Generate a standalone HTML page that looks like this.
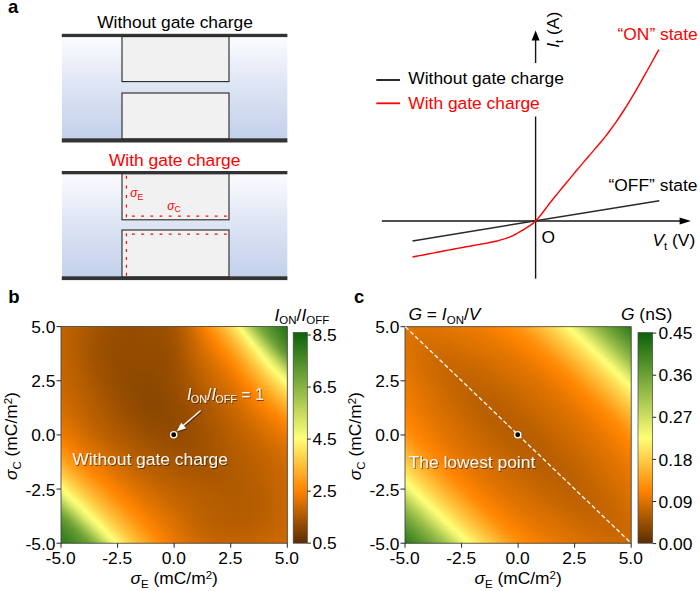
<!DOCTYPE html>
<html><head><meta charset="utf-8"><title>figure</title>
<style>
html,body{margin:0;padding:0;background:#fff;}
body{width:700px;height:591px;overflow:hidden;}
svg{display:block;font-family:"Liberation Sans",sans-serif;}
.i{font-style:italic;}
.sh{filter:url(#ts);}
</style></head><body>
<svg width="700" height="591" viewBox="0 0 700 591">
<defs>
<linearGradient id="blue" x1="0" y1="0" x2="0" y2="1">
<stop offset="0" stop-color="#fbfcfe"/><stop offset="0.45" stop-color="#dfe6f4"/><stop offset="1" stop-color="#c3d1ec"/>
</linearGradient>
<filter id="ts" x="-10%" y="-30%" width="120%" height="170%">
<feDropShadow dx="0.9" dy="0.9" stdDeviation="0.7" flood-color="#000" flood-opacity="0.55"/>
</filter>
</defs>
<rect width="700" height="591" fill="#fff"/>

<text x="8" y="13.2" font-size="18.5" text-anchor="start" fill="#000" font-weight="bold">a</text>
<text x="175" y="27.6" font-size="17.4" text-anchor="middle" fill="#000" >Without gate charge</text>
<rect x="62" y="36.6" width="225.3" height="102.20000000000002" fill="url(#blue)"/>
<rect x="61.8" y="33.8" width="225.6" height="3.3000000000000043" fill="#333"/>
<rect x="61.8" y="138.3" width="225.6" height="4.199999999999989" fill="#333"/>
<rect x="122" y="36.6" width="107" height="44.99999999999999" fill="#f1f1f1" stroke="#262626" stroke-width="1.1"/>
<rect x="122" y="93" width="107" height="45.80000000000001" fill="#f1f1f1" stroke="#262626" stroke-width="1.1"/>
<text x="174.7" y="166.2" font-size="17.4" text-anchor="middle" fill="#f00" >With gate charge</text>
<rect x="62" y="173.8" width="225.3" height="103.0" fill="url(#blue)"/>
<rect x="61.8" y="171" width="225.6" height="3.3000000000000114" fill="#333"/>
<rect x="61.8" y="276.3" width="225.6" height="3.8000000000000114" fill="#333"/>
<rect x="122" y="173.8" width="107" height="46.0" fill="#f1f1f1" stroke="#262626" stroke-width="1.1"/>
<rect x="122" y="230" width="107" height="46.80000000000001" fill="#f1f1f1" stroke="#262626" stroke-width="1.1"/>
<g stroke="#f00" stroke-width="1.15" fill="none">
<path d="M126.4 175.8 V218" stroke-dasharray="3 6.6"/>
<path d="M132 216.1 H228.5" stroke-dasharray="2.7 6.5"/>
<path d="M132 234.1 H228.5" stroke-dasharray="2.7 6.5"/>
<path d="M126.4 233.2 V276" stroke-dasharray="3 4.9"/>
</g>
<text x="130.2" y="196.8" font-size="12" fill="#f00"><tspan class="i">σ</tspan><tspan font-size="8.6" dy="2.8">E</tspan></text>
<text x="167.3" y="209.6" font-size="12" fill="#f00"><tspan class="i">σ</tspan><tspan font-size="8.6" dy="2.8">C</tspan></text>
<g stroke="#161616" stroke-width="1.4" fill="none">
<path d="M535.6 39 V278.7"/>
<path d="M381.8 221 H682"/>
</g>
<path d="M535.6 30.6 L539.6 40.4 H531.6 Z" fill="#000"/>
<path d="M690.9 221 L679.6 224.6 V217.4 Z" fill="#000"/>
<path d="M412.5 240.9 L659.3 200.7" stroke="#2a2a2a" stroke-width="1.5" fill="none"/>
<path d="M412.5 257.0 L416.1 256.3 L419.6 255.6 L423.2 255.0 L426.8 254.3 L430.3 253.6 L433.9 252.9 L437.5 252.2 L441.1 251.5 L444.6 250.8 L448.2 250.1 L451.8 249.5 L455.3 248.8 L458.9 248.1 L462.5 247.5 L466.0 246.8 L469.6 246.2 L473.2 245.5 L476.8 244.9 L480.3 244.3 L483.9 243.6 L487.5 243.0 L491.0 242.3 L494.6 241.5 L498.2 240.7 L501.7 239.7 L505.3 238.7 L508.9 237.4 L512.4 235.8 L516.0 234.0 L519.6 231.9 L523.2 229.8 L526.7 227.7 L530.3 225.4 L533.9 222.6 L537.4 219.1 L541.0 214.7 L544.6 210.0 L548.1 205.3 L551.7 200.7 L555.3 196.3 L558.9 191.9 L562.4 187.5 L566.0 183.2 L569.6 178.9 L573.1 174.6 L576.7 170.3 L580.3 166.1 L583.8 161.9 L587.4 157.7 L591.0 153.6 L594.5 149.4 L598.1 145.2 L601.7 141.0 L605.3 136.6 L608.8 132.0 L612.4 127.2 L616.0 122.2 L619.5 117.0 L623.1 111.5 L626.7 105.9 L630.2 100.1 L633.8 94.1 L637.4 87.9 L641.0 81.7 L644.5 75.4 L648.1 69.0 L651.7 62.5 L655.2 56.1 L658.8 49.6" stroke="#f00" stroke-width="1.4" fill="none" stroke-linejoin="round"/>
<rect x="372" y="63" width="195" height="53.5" fill="#fff"/>
<path d="M376.3 80 H400" stroke="#111" stroke-width="1.8"/>
<path d="M376.3 103.3 H400" stroke="#f00" stroke-width="1.8"/>
<text x="408.3" y="83.8" font-size="17.4" text-anchor="start" fill="#000" >Without gate charge</text>
<text x="408.3" y="109" font-size="17.4" text-anchor="start" fill="#f00" >With gate charge</text>
<text x="617.5" y="40" font-size="17.4" text-anchor="start" fill="#f00" >“ON” state</text>
<text x="608.5" y="191.3" font-size="17.4" text-anchor="start" fill="#000" >“OFF” state</text>
<text x="541.5" y="243" font-size="17.4" text-anchor="start" fill="#000" >O</text>
<text x="652.4" y="246.3" font-size="17.4"><tspan class="i">V</tspan><tspan font-size="11.5" dy="3.5">t</tspan><tspan dy="-3.5"> (V)</tspan></text>
<text transform="translate(559.2 47.8) rotate(-90)" font-size="17.4"><tspan class="i">I</tspan><tspan font-size="11.5" dy="3.5">t</tspan><tspan dy="-3.5"> (A)</tspan></text>
<defs><linearGradient id="cb" x1="0" y1="1" x2="0" y2="0">
<stop offset="0" stop-color="#5a2d00"/><stop offset="0.25" stop-color="#ff8400"/><stop offset="0.5" stop-color="#ffff78"/><stop offset="1" stop-color="#0a620a"/>
</linearGradient></defs>
<text x="8.3" y="303" font-size="18.5" text-anchor="start" fill="#000" font-weight="bold">b</text>
<defs>
<linearGradient id="b0"><stop offset="0" stop-color="#c56500"/><stop offset="0.1549" stop-color="#a35400"/><stop offset="0.2611" stop-color="#964d00"/><stop offset="0.3142" stop-color="#964c00"/><stop offset="0.4336" stop-color="#9a4f00"/><stop offset="0.4735" stop-color="#9f5200"/><stop offset="0.5088" stop-color="#a95700"/><stop offset="0.531" stop-color="#b35c00"/><stop offset="0.5575" stop-color="#c26400"/><stop offset="0.6416" stop-color="#fe8400"/><stop offset="0.6903" stop-color="#ffa41f"/><stop offset="0.7301" stop-color="#ffc33d"/><stop offset="0.7655" stop-color="#ffe35d"/><stop offset="0.7876" stop-color="#fffe77"/><stop offset="0.8009" stop-color="#edf370"/><stop offset="0.854" stop-color="#9abe4b"/><stop offset="0.8805" stop-color="#79a93c"/><stop offset="0.9071" stop-color="#619a31"/><stop offset="0.9336" stop-color="#4d8d28"/><stop offset="1" stop-color="#237215"/></linearGradient>
<linearGradient id="b1"><stop offset="0" stop-color="#c46500"/><stop offset="0.1504" stop-color="#a35400"/><stop offset="0.208" stop-color="#9b4f00"/><stop offset="0.2611" stop-color="#964d00"/><stop offset="0.3142" stop-color="#954c00"/><stop offset="0.4336" stop-color="#9a4f00"/><stop offset="0.4735" stop-color="#9f5100"/><stop offset="0.5088" stop-color="#a85600"/><stop offset="0.5354" stop-color="#b45c00"/><stop offset="0.5619" stop-color="#c36400"/><stop offset="0.646" stop-color="#fe8400"/><stop offset="0.6903" stop-color="#ffa01b"/><stop offset="0.7301" stop-color="#ffbe38"/><stop offset="0.7699" stop-color="#ffe15b"/><stop offset="0.792" stop-color="#fffa73"/><stop offset="0.7965" stop-color="#fefe77"/><stop offset="0.8628" stop-color="#97bc49"/><stop offset="0.8894" stop-color="#76a73a"/><stop offset="0.9381" stop-color="#4e8d28"/><stop offset="1" stop-color="#267417"/></linearGradient>
<linearGradient id="b2"><stop offset="0" stop-color="#c46500"/><stop offset="0.146" stop-color="#a45400"/><stop offset="0.2035" stop-color="#9b4f00"/><stop offset="0.2566" stop-color="#964d00"/><stop offset="0.3142" stop-color="#954c00"/><stop offset="0.4292" stop-color="#994e00"/><stop offset="0.4735" stop-color="#9e5100"/><stop offset="0.5088" stop-color="#a85600"/><stop offset="0.5575" stop-color="#bf6200"/><stop offset="0.6504" stop-color="#fe8300"/><stop offset="0.6549" stop-color="#ff8602"/><stop offset="0.6991" stop-color="#ffa21d"/><stop offset="0.7389" stop-color="#ffc03a"/><stop offset="0.7788" stop-color="#ffe35d"/><stop offset="0.8009" stop-color="#fffd76"/><stop offset="0.8053" stop-color="#fbfd76"/><stop offset="0.8097" stop-color="#f5f974"/><stop offset="0.8673" stop-color="#9bbf4b"/><stop offset="0.8938" stop-color="#78a83b"/><stop offset="0.9159" stop-color="#639b32"/><stop offset="0.9425" stop-color="#4e8e29"/><stop offset="1" stop-color="#297618"/></linearGradient>
<linearGradient id="b3"><stop offset="0" stop-color="#c46500"/><stop offset="0.146" stop-color="#a35300"/><stop offset="0.2035" stop-color="#9a4f00"/><stop offset="0.2566" stop-color="#964d00"/><stop offset="0.3186" stop-color="#954c00"/><stop offset="0.4336" stop-color="#994e00"/><stop offset="0.4779" stop-color="#9e5100"/><stop offset="0.5133" stop-color="#a95600"/><stop offset="0.5619" stop-color="#c06300"/><stop offset="0.6593" stop-color="#ff8501"/><stop offset="0.7035" stop-color="#ffa11c"/><stop offset="0.7434" stop-color="#ffbe38"/><stop offset="0.7832" stop-color="#ffe15b"/><stop offset="0.8097" stop-color="#ffff78"/><stop offset="0.8274" stop-color="#e6ef6d"/><stop offset="0.8761" stop-color="#99bd4a"/><stop offset="0.9027" stop-color="#75a73a"/><stop offset="0.9204" stop-color="#649c33"/><stop offset="0.9469" stop-color="#4f8e29"/><stop offset="1" stop-color="#2c7819"/></linearGradient>
<linearGradient id="b4"><stop offset="0" stop-color="#c36500"/><stop offset="0.1416" stop-color="#a35400"/><stop offset="0.1947" stop-color="#9b4f00"/><stop offset="0.2478" stop-color="#964d00"/><stop offset="0.3142" stop-color="#954c00"/><stop offset="0.4292" stop-color="#984e00"/><stop offset="0.4735" stop-color="#9d5000"/><stop offset="0.5088" stop-color="#a65500"/><stop offset="0.5398" stop-color="#b35c00"/><stop offset="0.5664" stop-color="#c16300"/><stop offset="0.6637" stop-color="#ff8501"/><stop offset="0.708" stop-color="#ffa01b"/><stop offset="0.7478" stop-color="#ffbc37"/><stop offset="0.7832" stop-color="#ffdb55"/><stop offset="0.8142" stop-color="#fffb74"/><stop offset="0.8186" stop-color="#fdfe77"/><stop offset="0.823" stop-color="#f7fa74"/><stop offset="0.885" stop-color="#96bc49"/><stop offset="0.9115" stop-color="#73a539"/><stop offset="0.9513" stop-color="#508f29"/><stop offset="1" stop-color="#307a1b"/></linearGradient>
<linearGradient id="b5"><stop offset="0" stop-color="#c36500"/><stop offset="0.1372" stop-color="#a45400"/><stop offset="0.1947" stop-color="#9b4f00"/><stop offset="0.2478" stop-color="#964d00"/><stop offset="0.3186" stop-color="#944c00"/><stop offset="0.4292" stop-color="#974d00"/><stop offset="0.4735" stop-color="#9c5000"/><stop offset="0.5088" stop-color="#a65500"/><stop offset="0.5708" stop-color="#c26400"/><stop offset="0.6681" stop-color="#ff8400"/><stop offset="0.7124" stop-color="#ff9e1a"/><stop offset="0.7522" stop-color="#ffba35"/><stop offset="0.792" stop-color="#ffdd57"/><stop offset="0.823" stop-color="#fffe77"/><stop offset="0.8274" stop-color="#fbfc76"/><stop offset="0.8451" stop-color="#e1ec6b"/><stop offset="0.8982" stop-color="#8db645"/><stop offset="0.9204" stop-color="#70a438"/><stop offset="0.9558" stop-color="#518f2a"/><stop offset="1" stop-color="#337c1c"/></linearGradient>
<linearGradient id="b6"><stop offset="0" stop-color="#c36400"/><stop offset="0.1372" stop-color="#a35400"/><stop offset="0.1903" stop-color="#9b4f00"/><stop offset="0.2434" stop-color="#964d00"/><stop offset="0.323" stop-color="#944c00"/><stop offset="0.4292" stop-color="#974d00"/><stop offset="0.4735" stop-color="#9c5000"/><stop offset="0.5088" stop-color="#a55500"/><stop offset="0.5752" stop-color="#c36400"/><stop offset="0.6726" stop-color="#fe8400"/><stop offset="0.7124" stop-color="#ff9a16"/><stop offset="0.7522" stop-color="#ffb530"/><stop offset="0.792" stop-color="#ffd751"/><stop offset="0.8274" stop-color="#fffb74"/><stop offset="0.8319" stop-color="#fefe78"/><stop offset="0.8407" stop-color="#f2f772"/><stop offset="0.9027" stop-color="#92b947"/><stop offset="0.9292" stop-color="#6ea237"/><stop offset="0.9602" stop-color="#52902a"/><stop offset="1" stop-color="#377f1e"/></linearGradient>
<linearGradient id="b7"><stop offset="0" stop-color="#c36400"/><stop offset="0.1372" stop-color="#a35400"/><stop offset="0.1903" stop-color="#9b4f00"/><stop offset="0.2434" stop-color="#964c00"/><stop offset="0.3274" stop-color="#944c00"/><stop offset="0.4248" stop-color="#964d00"/><stop offset="0.469" stop-color="#9b4f00"/><stop offset="0.5088" stop-color="#a55400"/><stop offset="0.5752" stop-color="#c26400"/><stop offset="0.6814" stop-color="#ff8501"/><stop offset="0.7257" stop-color="#ff9f1a"/><stop offset="0.7611" stop-color="#ffb732"/><stop offset="0.8009" stop-color="#ffd953"/><stop offset="0.8363" stop-color="#fffd76"/><stop offset="0.8407" stop-color="#fcfd77"/><stop offset="0.854" stop-color="#eaf16f"/><stop offset="0.9115" stop-color="#8fb846"/><stop offset="0.9336" stop-color="#71a438"/><stop offset="0.9602" stop-color="#57942d"/><stop offset="1" stop-color="#3b8120"/></linearGradient>
<linearGradient id="b8"><stop offset="0" stop-color="#c36500"/><stop offset="0.1372" stop-color="#a35300"/><stop offset="0.1903" stop-color="#9a4f00"/><stop offset="0.2434" stop-color="#954c00"/><stop offset="0.4292" stop-color="#964c00"/><stop offset="0.4735" stop-color="#9b4f00"/><stop offset="0.5133" stop-color="#a55500"/><stop offset="0.5841" stop-color="#c56600"/><stop offset="0.6858" stop-color="#ff8400"/><stop offset="0.7301" stop-color="#ff9d19"/><stop offset="0.7655" stop-color="#ffb630"/><stop offset="0.8053" stop-color="#ffd751"/><stop offset="0.8451" stop-color="#ffff78"/><stop offset="0.8673" stop-color="#e1ec6b"/><stop offset="0.9204" stop-color="#8db645"/><stop offset="0.9425" stop-color="#6fa337"/><stop offset="0.9646" stop-color="#59952e"/><stop offset="1" stop-color="#3f8422"/></linearGradient>
<linearGradient id="b9"><stop offset="0" stop-color="#c36500"/><stop offset="0.1327" stop-color="#a45400"/><stop offset="0.1858" stop-color="#9b4f00"/><stop offset="0.2389" stop-color="#964c00"/><stop offset="0.4248" stop-color="#954c00"/><stop offset="0.469" stop-color="#9a4e00"/><stop offset="0.5088" stop-color="#a35400"/><stop offset="0.5442" stop-color="#b15b00"/><stop offset="0.5929" stop-color="#c96700"/><stop offset="0.6903" stop-color="#fe8400"/><stop offset="0.7301" stop-color="#ff9915"/><stop offset="0.7699" stop-color="#ffb42f"/><stop offset="0.8097" stop-color="#ffd54f"/><stop offset="0.8496" stop-color="#fffc75"/><stop offset="0.854" stop-color="#fdfe77"/><stop offset="0.8717" stop-color="#e6ef6d"/><stop offset="0.9248" stop-color="#92b947"/><stop offset="0.9469" stop-color="#73a539"/><stop offset="0.9646" stop-color="#5f9930"/><stop offset="1" stop-color="#438724"/></linearGradient>
<linearGradient id="b10"><stop offset="0" stop-color="#c46500"/><stop offset="0.1372" stop-color="#a35300"/><stop offset="0.1903" stop-color="#9a4f00"/><stop offset="0.2434" stop-color="#954c00"/><stop offset="0.4292" stop-color="#954c00"/><stop offset="0.4735" stop-color="#9a4f00"/><stop offset="0.5133" stop-color="#a45400"/><stop offset="0.6018" stop-color="#cc6900"/><stop offset="0.6991" stop-color="#ff8501"/><stop offset="0.7434" stop-color="#ff9d19"/><stop offset="0.7788" stop-color="#ffb631"/><stop offset="0.8186" stop-color="#ffd751"/><stop offset="0.8584" stop-color="#fffe77"/><stop offset="0.885" stop-color="#dde969"/><stop offset="0.9336" stop-color="#91b846"/><stop offset="0.9558" stop-color="#71a438"/><stop offset="0.9735" stop-color="#5e9830"/><stop offset="1" stop-color="#488a26"/></linearGradient>
<linearGradient id="b11"><stop offset="0" stop-color="#c46500"/><stop offset="0.1327" stop-color="#a35400"/><stop offset="0.1858" stop-color="#9b4f00"/><stop offset="0.2389" stop-color="#954c00"/><stop offset="0.4292" stop-color="#944c00"/><stop offset="0.4735" stop-color="#994e00"/><stop offset="0.5133" stop-color="#a35400"/><stop offset="0.5487" stop-color="#b15b00"/><stop offset="0.615" stop-color="#d16b00"/><stop offset="0.7035" stop-color="#ff8400"/><stop offset="0.7434" stop-color="#ff9915"/><stop offset="0.7832" stop-color="#ffb42f"/><stop offset="0.823" stop-color="#ffd54f"/><stop offset="0.8628" stop-color="#fffc75"/><stop offset="0.8673" stop-color="#fdfe77"/><stop offset="0.8894" stop-color="#e2ec6b"/><stop offset="0.9425" stop-color="#8fb746"/><stop offset="0.9646" stop-color="#70a338"/><stop offset="0.9823" stop-color="#5c972f"/><stop offset="1" stop-color="#4e8d28"/></linearGradient>
<linearGradient id="b12"><stop offset="0" stop-color="#c46500"/><stop offset="0.1372" stop-color="#a35300"/><stop offset="0.1903" stop-color="#9a4f00"/><stop offset="0.2389" stop-color="#954c00"/><stop offset="0.4292" stop-color="#944c00"/><stop offset="0.4735" stop-color="#994e00"/><stop offset="0.5133" stop-color="#a35300"/><stop offset="0.5531" stop-color="#b35c00"/><stop offset="0.6327" stop-color="#d76f00"/><stop offset="0.7124" stop-color="#ff8501"/><stop offset="0.7522" stop-color="#ff9b16"/><stop offset="0.792" stop-color="#ffb631"/><stop offset="0.8319" stop-color="#ffd751"/><stop offset="0.8717" stop-color="#fffe77"/><stop offset="0.8805" stop-color="#f7fa74"/><stop offset="0.8982" stop-color="#e0eb6a"/><stop offset="0.969" stop-color="#74a63a"/><stop offset="0.9867" stop-color="#5f9930"/><stop offset="1" stop-color="#54912b"/></linearGradient>
<linearGradient id="b13"><stop offset="0" stop-color="#c46500"/><stop offset="0.1372" stop-color="#a35300"/><stop offset="0.1903" stop-color="#9a4f00"/><stop offset="0.2389" stop-color="#954c00"/><stop offset="0.4292" stop-color="#944b00"/><stop offset="0.4735" stop-color="#984e00"/><stop offset="0.5133" stop-color="#a25300"/><stop offset="0.5487" stop-color="#b05a00"/><stop offset="0.6504" stop-color="#dd7200"/><stop offset="0.7168" stop-color="#ff8400"/><stop offset="0.7566" stop-color="#ff9915"/><stop offset="0.7965" stop-color="#ffb52f"/><stop offset="0.8363" stop-color="#ffd54f"/><stop offset="0.8761" stop-color="#fffb75"/><stop offset="0.8805" stop-color="#fefe78"/><stop offset="0.9027" stop-color="#e4ee6c"/><stop offset="0.969" stop-color="#7fad3f"/><stop offset="0.9867" stop-color="#689e34"/><stop offset="1" stop-color="#5a952e"/></linearGradient>
<linearGradient id="b14"><stop offset="0" stop-color="#c56500"/><stop offset="0.1416" stop-color="#a25300"/><stop offset="0.1947" stop-color="#994e00"/><stop offset="0.2434" stop-color="#954c00"/><stop offset="0.4292" stop-color="#934b00"/><stop offset="0.4735" stop-color="#984e00"/><stop offset="0.5133" stop-color="#a25300"/><stop offset="0.6593" stop-color="#de7300"/><stop offset="0.7257" stop-color="#ff8501"/><stop offset="0.7655" stop-color="#ff9b16"/><stop offset="0.8053" stop-color="#ffb631"/><stop offset="0.8451" stop-color="#ffd751"/><stop offset="0.885" stop-color="#fffd76"/><stop offset="0.8894" stop-color="#fcfd77"/><stop offset="0.9159" stop-color="#dde969"/><stop offset="0.9735" stop-color="#85b141"/><stop offset="1" stop-color="#639b32"/></linearGradient>
<linearGradient id="b15"><stop offset="0" stop-color="#c56500"/><stop offset="0.1416" stop-color="#a25300"/><stop offset="0.1947" stop-color="#994e00"/><stop offset="0.2434" stop-color="#944c00"/><stop offset="0.3053" stop-color="#924b00"/><stop offset="0.4336" stop-color="#934b00"/><stop offset="0.4779" stop-color="#984e00"/><stop offset="0.5177" stop-color="#a25300"/><stop offset="0.6726" stop-color="#e27500"/><stop offset="0.7301" stop-color="#ff8400"/><stop offset="0.7699" stop-color="#ff9a15"/><stop offset="0.8097" stop-color="#ffb530"/><stop offset="0.8496" stop-color="#ffd54f"/><stop offset="0.8938" stop-color="#ffff78"/><stop offset="0.9115" stop-color="#ecf370"/><stop offset="0.9248" stop-color="#dbe868"/><stop offset="0.9779" stop-color="#8bb544"/><stop offset="1" stop-color="#6ca136"/></linearGradient>
<linearGradient id="b16"><stop offset="0" stop-color="#c56600"/><stop offset="0.146" stop-color="#a25300"/><stop offset="0.1991" stop-color="#994e00"/><stop offset="0.2478" stop-color="#944c00"/><stop offset="0.4336" stop-color="#934b00"/><stop offset="0.4779" stop-color="#984e00"/><stop offset="0.5177" stop-color="#a25300"/><stop offset="0.677" stop-color="#e17400"/><stop offset="0.7389" stop-color="#ff8501"/><stop offset="0.7788" stop-color="#ff9b16"/><stop offset="0.8186" stop-color="#ffb731"/><stop offset="0.8584" stop-color="#ffd751"/><stop offset="0.8982" stop-color="#fffc75"/><stop offset="0.9027" stop-color="#fdfe77"/><stop offset="0.9204" stop-color="#ebf26f"/><stop offset="0.9336" stop-color="#dae767"/><stop offset="1" stop-color="#78a83b"/></linearGradient>
<linearGradient id="b17"><stop offset="0" stop-color="#c66600"/><stop offset="0.146" stop-color="#a25300"/><stop offset="0.1991" stop-color="#994e00"/><stop offset="0.2478" stop-color="#944c00"/><stop offset="0.3097" stop-color="#924a00"/><stop offset="0.4336" stop-color="#934b00"/><stop offset="0.4779" stop-color="#974d00"/><stop offset="0.5177" stop-color="#a15200"/><stop offset="0.6858" stop-color="#e27500"/><stop offset="0.7434" stop-color="#ff8400"/><stop offset="0.7832" stop-color="#ff9a15"/><stop offset="0.823" stop-color="#ffb530"/><stop offset="0.8628" stop-color="#ffd54f"/><stop offset="0.9071" stop-color="#fffe77"/><stop offset="0.9248" stop-color="#eef471"/><stop offset="0.9425" stop-color="#d9e767"/><stop offset="1" stop-color="#84b041"/></linearGradient>
<linearGradient id="b18"><stop offset="0" stop-color="#c66600"/><stop offset="0.1504" stop-color="#a25300"/><stop offset="0.2035" stop-color="#994e00"/><stop offset="0.2522" stop-color="#944b00"/><stop offset="0.3186" stop-color="#924a00"/><stop offset="0.4381" stop-color="#934b00"/><stop offset="0.4823" stop-color="#984e00"/><stop offset="0.5221" stop-color="#a25300"/><stop offset="0.6947" stop-color="#e37500"/><stop offset="0.7522" stop-color="#ff8501"/><stop offset="0.792" stop-color="#ff9b17"/><stop offset="0.8319" stop-color="#ffb732"/><stop offset="0.8717" stop-color="#ffd751"/><stop offset="0.9159" stop-color="#ffff78"/><stop offset="0.9381" stop-color="#e8f16e"/><stop offset="0.9513" stop-color="#d8e667"/><stop offset="1" stop-color="#90b846"/></linearGradient>
<linearGradient id="b19"><stop offset="0" stop-color="#c76600"/><stop offset="0.1549" stop-color="#a15300"/><stop offset="0.2522" stop-color="#944b00"/><stop offset="0.323" stop-color="#914a00"/><stop offset="0.4381" stop-color="#934b00"/><stop offset="0.4823" stop-color="#974d00"/><stop offset="0.5221" stop-color="#a15300"/><stop offset="0.6991" stop-color="#e27500"/><stop offset="0.7566" stop-color="#ff8400"/><stop offset="0.7965" stop-color="#ff9a16"/><stop offset="0.8363" stop-color="#ffb530"/><stop offset="0.8761" stop-color="#ffd44f"/><stop offset="0.9204" stop-color="#fffc75"/><stop offset="0.9248" stop-color="#fefe77"/><stop offset="0.9558" stop-color="#dde969"/><stop offset="1" stop-color="#9ec14c"/></linearGradient>
<linearGradient id="b20"><stop offset="0" stop-color="#c76600"/><stop offset="0.1593" stop-color="#a15200"/><stop offset="0.2124" stop-color="#984e00"/><stop offset="0.2611" stop-color="#934b00"/><stop offset="0.3363" stop-color="#914a00"/><stop offset="0.4425" stop-color="#934b00"/><stop offset="0.4867" stop-color="#984e00"/><stop offset="0.5265" stop-color="#a25300"/><stop offset="0.7035" stop-color="#e17400"/><stop offset="0.7655" stop-color="#ff8501"/><stop offset="0.8053" stop-color="#ff9c17"/><stop offset="0.8451" stop-color="#ffb731"/><stop offset="0.885" stop-color="#ffd650"/><stop offset="0.9292" stop-color="#fffd76"/><stop offset="0.9336" stop-color="#fdfe77"/><stop offset="0.9602" stop-color="#e2ec6b"/><stop offset="0.9779" stop-color="#cbde61"/><stop offset="1" stop-color="#abc952"/></linearGradient>
<linearGradient id="b21"><stop offset="0" stop-color="#c76700"/><stop offset="0.1549" stop-color="#a25300"/><stop offset="0.2478" stop-color="#944c00"/><stop offset="0.3142" stop-color="#914a00"/><stop offset="0.4027" stop-color="#914a00"/><stop offset="0.4558" stop-color="#944b00"/><stop offset="0.4956" stop-color="#994e00"/><stop offset="0.5442" stop-color="#a75600"/><stop offset="0.708" stop-color="#e07400"/><stop offset="0.7389" stop-color="#ee7b00"/><stop offset="0.7699" stop-color="#ff8400"/><stop offset="0.8142" stop-color="#ff9d19"/><stop offset="0.854" stop-color="#ffb833"/><stop offset="0.8938" stop-color="#ffd751"/><stop offset="0.9381" stop-color="#fffe77"/><stop offset="0.969" stop-color="#e1ec6b"/><stop offset="1" stop-color="#b8d258"/></linearGradient>
<linearGradient id="b22"><stop offset="0" stop-color="#c86700"/><stop offset="0.1593" stop-color="#a25300"/><stop offset="0.2522" stop-color="#944c00"/><stop offset="0.3186" stop-color="#904a00"/><stop offset="0.4027" stop-color="#914a00"/><stop offset="0.4602" stop-color="#944b00"/><stop offset="0.5" stop-color="#9a4f00"/><stop offset="0.5442" stop-color="#a65500"/><stop offset="0.7124" stop-color="#e07400"/><stop offset="0.7389" stop-color="#eb7900"/><stop offset="0.7788" stop-color="#ff8501"/><stop offset="0.823" stop-color="#ff9f1a"/><stop offset="0.8628" stop-color="#ffba34"/><stop offset="0.9027" stop-color="#ffd852"/><stop offset="0.9469" stop-color="#ffff78"/><stop offset="0.9735" stop-color="#e6ef6d"/><stop offset="1" stop-color="#c5da5e"/></linearGradient>
<linearGradient id="b23"><stop offset="0" stop-color="#c86700"/><stop offset="0.1681" stop-color="#a15200"/><stop offset="0.2611" stop-color="#934b00"/><stop offset="0.3274" stop-color="#904900"/><stop offset="0.4071" stop-color="#904a00"/><stop offset="0.4646" stop-color="#944c00"/><stop offset="0.5088" stop-color="#9b4f00"/><stop offset="0.5531" stop-color="#a85600"/><stop offset="0.7212" stop-color="#e17400"/><stop offset="0.7522" stop-color="#ee7b00"/><stop offset="0.7832" stop-color="#ff8400"/><stop offset="0.8274" stop-color="#ff9d19"/><stop offset="0.8673" stop-color="#ffb832"/><stop offset="0.9115" stop-color="#ffd953"/><stop offset="0.9558" stop-color="#ffff78"/><stop offset="0.9823" stop-color="#e6ef6d"/><stop offset="1" stop-color="#d2e264"/></linearGradient>
<linearGradient id="b24"><stop offset="0" stop-color="#c96700"/><stop offset="0.1726" stop-color="#a15200"/><stop offset="0.2699" stop-color="#934b00"/><stop offset="0.3363" stop-color="#8f4900"/><stop offset="0.4159" stop-color="#904a00"/><stop offset="0.4735" stop-color="#954c00"/><stop offset="0.5177" stop-color="#9d5000"/><stop offset="0.7257" stop-color="#e07400"/><stop offset="0.792" stop-color="#ff8501"/><stop offset="0.8363" stop-color="#ff9f1a"/><stop offset="0.8761" stop-color="#ffb934"/><stop offset="0.9159" stop-color="#ffd751"/><stop offset="0.9646" stop-color="#ffff78"/><stop offset="1" stop-color="#dde969"/></linearGradient>
<linearGradient id="b25"><stop offset="0" stop-color="#c96800"/><stop offset="0.1814" stop-color="#a05200"/><stop offset="0.2788" stop-color="#924b00"/><stop offset="0.3496" stop-color="#8f4900"/><stop offset="0.4248" stop-color="#904a00"/><stop offset="0.4823" stop-color="#964d00"/><stop offset="0.5265" stop-color="#9f5100"/><stop offset="0.7301" stop-color="#df7300"/><stop offset="0.7611" stop-color="#ec7a00"/><stop offset="0.7965" stop-color="#ff8400"/><stop offset="0.8407" stop-color="#ff9d18"/><stop offset="0.8805" stop-color="#ffb732"/><stop offset="0.9248" stop-color="#ffd751"/><stop offset="0.9735" stop-color="#ffff78"/><stop offset="1" stop-color="#e7ef6d"/></linearGradient>
<linearGradient id="b26"><stop offset="0" stop-color="#ca6800"/><stop offset="0.1858" stop-color="#9f5200"/><stop offset="0.2389" stop-color="#964d00"/><stop offset="0.2876" stop-color="#914a00"/><stop offset="0.3584" stop-color="#8f4900"/><stop offset="0.4336" stop-color="#914a00"/><stop offset="0.4912" stop-color="#974d00"/><stop offset="0.5398" stop-color="#a15300"/><stop offset="0.7301" stop-color="#dd7200"/><stop offset="0.7655" stop-color="#eb7a00"/><stop offset="0.8009" stop-color="#fe8300"/><stop offset="0.8407" stop-color="#ff9915"/><stop offset="0.8894" stop-color="#ffb833"/><stop offset="0.9336" stop-color="#ffd852"/><stop offset="0.9823" stop-color="#ffff78"/><stop offset="1" stop-color="#eff571"/></linearGradient>
<linearGradient id="b27"><stop offset="0" stop-color="#ca6800"/><stop offset="0.1947" stop-color="#9e5100"/><stop offset="0.2478" stop-color="#964c00"/><stop offset="0.3009" stop-color="#904a00"/><stop offset="0.3717" stop-color="#8e4900"/><stop offset="0.4425" stop-color="#914a00"/><stop offset="0.5" stop-color="#984e00"/><stop offset="0.5531" stop-color="#a45400"/><stop offset="0.7345" stop-color="#dc7200"/><stop offset="0.7699" stop-color="#ea7900"/><stop offset="0.8097" stop-color="#ff8400"/><stop offset="0.854" stop-color="#ff9d18"/><stop offset="0.8982" stop-color="#ffb933"/><stop offset="0.9425" stop-color="#ffd852"/><stop offset="0.9912" stop-color="#ffff78"/><stop offset="1" stop-color="#f8fa75"/></linearGradient>
<linearGradient id="b28"><stop offset="0" stop-color="#ca6800"/><stop offset="0.2035" stop-color="#9d5100"/><stop offset="0.2566" stop-color="#954c00"/><stop offset="0.3097" stop-color="#904900"/><stop offset="0.385" stop-color="#8e4800"/><stop offset="0.4513" stop-color="#914a00"/><stop offset="0.5088" stop-color="#994e00"/><stop offset="0.5664" stop-color="#a75500"/><stop offset="0.7345" stop-color="#da7100"/><stop offset="0.7743" stop-color="#e97900"/><stop offset="0.8142" stop-color="#fe8400"/><stop offset="0.854" stop-color="#ff9914"/><stop offset="0.9027" stop-color="#ffb631"/><stop offset="0.9513" stop-color="#ffd852"/><stop offset="1" stop-color="#fffe77"/></linearGradient>
<linearGradient id="b29"><stop offset="0" stop-color="#cb6900"/><stop offset="0.208" stop-color="#9d5000"/><stop offset="0.2611" stop-color="#954c00"/><stop offset="0.3142" stop-color="#904900"/><stop offset="0.385" stop-color="#8e4800"/><stop offset="0.4513" stop-color="#914a00"/><stop offset="0.5088" stop-color="#994e00"/><stop offset="0.5664" stop-color="#a65500"/><stop offset="0.7345" stop-color="#d86f00"/><stop offset="0.7832" stop-color="#eb7900"/><stop offset="0.823" stop-color="#ff8400"/><stop offset="0.9115" stop-color="#ffb731"/><stop offset="0.9558" stop-color="#ffd54f"/><stop offset="1" stop-color="#fff66f"/></linearGradient>
<linearGradient id="b30"><stop offset="0" stop-color="#cb6900"/><stop offset="0.208" stop-color="#9e5100"/><stop offset="0.2611" stop-color="#954c00"/><stop offset="0.3142" stop-color="#904900"/><stop offset="0.3805" stop-color="#8d4800"/><stop offset="0.4425" stop-color="#904900"/><stop offset="0.5" stop-color="#974d00"/><stop offset="0.5619" stop-color="#a35400"/><stop offset="0.7301" stop-color="#d46d00"/><stop offset="0.7876" stop-color="#ea7900"/><stop offset="0.8274" stop-color="#fe8300"/><stop offset="0.8584" stop-color="#ff930f"/><stop offset="0.9115" stop-color="#ffb12c"/><stop offset="0.9558" stop-color="#ffce49"/><stop offset="1" stop-color="#ffef68"/></linearGradient>
<linearGradient id="b31"><stop offset="0" stop-color="#cc6900"/><stop offset="0.2124" stop-color="#9e5100"/><stop offset="0.2699" stop-color="#944c00"/><stop offset="0.3186" stop-color="#8f4900"/><stop offset="0.3805" stop-color="#8d4800"/><stop offset="0.4425" stop-color="#8f4900"/><stop offset="0.5" stop-color="#964d00"/><stop offset="0.5619" stop-color="#a25300"/><stop offset="0.7301" stop-color="#d26c00"/><stop offset="0.7965" stop-color="#eb7900"/><stop offset="0.8363" stop-color="#ff8400"/><stop offset="0.9204" stop-color="#ffb22d"/><stop offset="1" stop-color="#ffe761"/></linearGradient>
<linearGradient id="b32"><stop offset="0" stop-color="#cd6a00"/><stop offset="0.2168" stop-color="#9e5100"/><stop offset="0.3186" stop-color="#8f4900"/><stop offset="0.3805" stop-color="#8d4800"/><stop offset="0.4425" stop-color="#8f4900"/><stop offset="0.5" stop-color="#964c00"/><stop offset="0.5619" stop-color="#a25300"/><stop offset="0.6593" stop-color="#bb6000"/><stop offset="0.7301" stop-color="#d06b00"/><stop offset="0.8009" stop-color="#ea7900"/><stop offset="0.8451" stop-color="#ff8501"/><stop offset="0.9248" stop-color="#ffaf2a"/><stop offset="1" stop-color="#ffe05a"/></linearGradient>
<linearGradient id="b33"><stop offset="0" stop-color="#ce6a00"/><stop offset="0.2168" stop-color="#9f5100"/><stop offset="0.323" stop-color="#8f4900"/><stop offset="0.385" stop-color="#8d4800"/><stop offset="0.4425" stop-color="#8f4900"/><stop offset="0.5" stop-color="#954c00"/><stop offset="0.5619" stop-color="#a15200"/><stop offset="0.6549" stop-color="#b85e00"/><stop offset="0.7301" stop-color="#ce6a00"/><stop offset="0.8053" stop-color="#e97900"/><stop offset="0.8496" stop-color="#fe8400"/><stop offset="0.9248" stop-color="#ffaa25"/><stop offset="1" stop-color="#ffd953"/></linearGradient>
<linearGradient id="b34"><stop offset="0" stop-color="#cf6a00"/><stop offset="0.1947" stop-color="#a45400"/><stop offset="0.2699" stop-color="#964d00"/><stop offset="0.3496" stop-color="#8e4800"/><stop offset="0.4292" stop-color="#8d4800"/><stop offset="0.5221" stop-color="#984e00"/><stop offset="0.6549" stop-color="#b65d00"/><stop offset="0.7655" stop-color="#d86f00"/><stop offset="0.823" stop-color="#ee7b00"/><stop offset="0.8584" stop-color="#ff8400"/><stop offset="0.9336" stop-color="#ffaa25"/><stop offset="1" stop-color="#ffd24c"/></linearGradient>
<linearGradient id="b35"><stop offset="0" stop-color="#d06b00"/><stop offset="0.1947" stop-color="#a55400"/><stop offset="0.2743" stop-color="#964d00"/><stop offset="0.3496" stop-color="#8e4800"/><stop offset="0.4292" stop-color="#8d4800"/><stop offset="0.4779" stop-color="#914a00"/><stop offset="0.5265" stop-color="#984e00"/><stop offset="0.6593" stop-color="#b55d00"/><stop offset="0.7655" stop-color="#d66e00"/><stop offset="0.8274" stop-color="#ed7b00"/><stop offset="0.8673" stop-color="#ff8400"/><stop offset="0.9381" stop-color="#ffa722"/><stop offset="1" stop-color="#ffcb45"/></linearGradient>
<linearGradient id="b36"><stop offset="0" stop-color="#d16c00"/><stop offset="0.1947" stop-color="#a65500"/><stop offset="0.2788" stop-color="#964d00"/><stop offset="0.3584" stop-color="#8d4800"/><stop offset="0.4336" stop-color="#8d4800"/><stop offset="0.5265" stop-color="#984d00"/><stop offset="0.6593" stop-color="#b45c00"/><stop offset="0.7655" stop-color="#d36d00"/><stop offset="0.8363" stop-color="#ee7b00"/><stop offset="0.8717" stop-color="#fe8300"/><stop offset="0.9292" stop-color="#ff9e19"/><stop offset="1" stop-color="#ffc53f"/></linearGradient>
<linearGradient id="b37"><stop offset="0" stop-color="#d26c00"/><stop offset="0.1903" stop-color="#a75600"/><stop offset="0.2788" stop-color="#974d00"/><stop offset="0.3584" stop-color="#8e4800"/><stop offset="0.4336" stop-color="#8d4800"/><stop offset="0.5265" stop-color="#974d00"/><stop offset="0.6637" stop-color="#b35c00"/><stop offset="0.7743" stop-color="#d46e00"/><stop offset="0.8496" stop-color="#f07c00"/><stop offset="0.8805" stop-color="#fe8300"/><stop offset="0.9336" stop-color="#ff9b17"/><stop offset="1" stop-color="#ffbf39"/></linearGradient>
<linearGradient id="b38"><stop offset="0" stop-color="#d36d00"/><stop offset="0.1858" stop-color="#a95700"/><stop offset="0.2832" stop-color="#974d00"/><stop offset="0.3628" stop-color="#8e4800"/><stop offset="0.4381" stop-color="#8d4800"/><stop offset="0.531" stop-color="#974d00"/><stop offset="0.6681" stop-color="#b35c00"/><stop offset="0.7788" stop-color="#d46d00"/><stop offset="0.8894" stop-color="#fe8400"/><stop offset="0.9381" stop-color="#ff9914"/><stop offset="1" stop-color="#ffb833"/></linearGradient>
<linearGradient id="b39"><stop offset="0" stop-color="#d46d00"/><stop offset="0.1018" stop-color="#bc6100"/><stop offset="0.2832" stop-color="#984d00"/><stop offset="0.3673" stop-color="#8e4800"/><stop offset="0.4425" stop-color="#8d4800"/><stop offset="0.5354" stop-color="#974d00"/><stop offset="0.6726" stop-color="#b35c00"/><stop offset="0.7832" stop-color="#d36d00"/><stop offset="0.8982" stop-color="#fe8400"/><stop offset="0.9381" stop-color="#ff9410"/><stop offset="1" stop-color="#ffb32e"/></linearGradient>
<linearGradient id="b40"><stop offset="0" stop-color="#d66e00"/><stop offset="0.1062" stop-color="#bc6100"/><stop offset="0.2832" stop-color="#994e00"/><stop offset="0.3673" stop-color="#8e4900"/><stop offset="0.4425" stop-color="#8d4800"/><stop offset="0.5354" stop-color="#964d00"/><stop offset="0.6726" stop-color="#b15b00"/><stop offset="0.7876" stop-color="#d36d00"/><stop offset="0.9071" stop-color="#fe8400"/><stop offset="0.9425" stop-color="#ff920e"/><stop offset="1" stop-color="#ffad28"/></linearGradient>
<linearGradient id="b41"><stop offset="0" stop-color="#d76f00"/><stop offset="0.1106" stop-color="#bc6100"/><stop offset="0.2876" stop-color="#994e00"/><stop offset="0.3717" stop-color="#8e4900"/><stop offset="0.4469" stop-color="#8d4800"/><stop offset="0.5398" stop-color="#974d00"/><stop offset="0.677" stop-color="#b15b00"/><stop offset="0.792" stop-color="#d26c00"/><stop offset="0.9159" stop-color="#fe8300"/><stop offset="1" stop-color="#ffa823"/></linearGradient>
<linearGradient id="b42"><stop offset="0" stop-color="#d97000"/><stop offset="0.115" stop-color="#bc6100"/><stop offset="0.2876" stop-color="#9a4f00"/><stop offset="0.3761" stop-color="#8f4900"/><stop offset="0.4513" stop-color="#8d4800"/><stop offset="0.5442" stop-color="#974d00"/><stop offset="0.6814" stop-color="#b15b00"/><stop offset="0.7965" stop-color="#d16c00"/><stop offset="0.9248" stop-color="#fe8300"/><stop offset="1" stop-color="#ffa21e"/></linearGradient>
<linearGradient id="b43"><stop offset="0" stop-color="#da7100"/><stop offset="0.1239" stop-color="#bb6000"/><stop offset="0.292" stop-color="#9a4f00"/><stop offset="0.3805" stop-color="#8f4900"/><stop offset="0.4558" stop-color="#8e4800"/><stop offset="0.5531" stop-color="#984e00"/><stop offset="0.6903" stop-color="#b25c00"/><stop offset="0.8097" stop-color="#d36d00"/><stop offset="0.9381" stop-color="#ff8400"/><stop offset="1" stop-color="#ff9d19"/></linearGradient>
<linearGradient id="b44"><stop offset="0" stop-color="#dc7100"/><stop offset="0.1283" stop-color="#bb6000"/><stop offset="0.292" stop-color="#9b4f00"/><stop offset="0.3805" stop-color="#904900"/><stop offset="0.4602" stop-color="#8e4800"/><stop offset="0.5575" stop-color="#984e00"/><stop offset="0.6947" stop-color="#b25c00"/><stop offset="0.8186" stop-color="#d46d00"/><stop offset="0.9469" stop-color="#fe8400"/><stop offset="1" stop-color="#ff9814"/></linearGradient>
<linearGradient id="b45"><stop offset="0" stop-color="#de7200"/><stop offset="0.1283" stop-color="#bd6100"/><stop offset="0.2876" stop-color="#9d5000"/><stop offset="0.3805" stop-color="#914a00"/><stop offset="0.4602" stop-color="#8e4900"/><stop offset="0.5177" stop-color="#924b00"/><stop offset="0.5796" stop-color="#9b4f00"/><stop offset="0.6814" stop-color="#af5a00"/><stop offset="0.7566" stop-color="#c16300"/><stop offset="0.8717" stop-color="#e27500"/><stop offset="0.9558" stop-color="#fe8300"/><stop offset="1" stop-color="#ff940f"/></linearGradient>
<linearGradient id="b46"><stop offset="0" stop-color="#e07300"/><stop offset="0.1327" stop-color="#bd6100"/><stop offset="0.2876" stop-color="#9e5100"/><stop offset="0.385" stop-color="#914a00"/><stop offset="0.4646" stop-color="#8f4900"/><stop offset="0.5575" stop-color="#974d00"/><stop offset="0.6903" stop-color="#b05a00"/><stop offset="0.823" stop-color="#d16c00"/><stop offset="0.9336" stop-color="#f27d00"/><stop offset="0.969" stop-color="#ff8400"/><stop offset="1" stop-color="#ff8f0b"/></linearGradient>
<linearGradient id="b47"><stop offset="0" stop-color="#e27500"/><stop offset="0.1372" stop-color="#bd6100"/><stop offset="0.2876" stop-color="#a05200"/><stop offset="0.385" stop-color="#924b00"/><stop offset="0.469" stop-color="#8f4900"/><stop offset="0.5664" stop-color="#984e00"/><stop offset="0.7035" stop-color="#b25b00"/><stop offset="0.8363" stop-color="#d36d00"/><stop offset="0.9425" stop-color="#f17d00"/><stop offset="0.9779" stop-color="#fe8300"/><stop offset="1" stop-color="#ff8b07"/></linearGradient>
<linearGradient id="b48"><stop offset="0" stop-color="#e47600"/><stop offset="0.1416" stop-color="#be6200"/><stop offset="0.2876" stop-color="#a15200"/><stop offset="0.3894" stop-color="#934b00"/><stop offset="0.4735" stop-color="#904900"/><stop offset="0.5708" stop-color="#994e00"/><stop offset="0.7168" stop-color="#b45c00"/><stop offset="0.8053" stop-color="#c96700"/><stop offset="0.9204" stop-color="#e87800"/><stop offset="0.9912" stop-color="#ff8400"/><stop offset="1" stop-color="#ff8703"/></linearGradient>
<linearGradient id="b49"><stop offset="0" stop-color="#e67700"/><stop offset="0.1416" stop-color="#bf6200"/><stop offset="0.2832" stop-color="#a35400"/><stop offset="0.3894" stop-color="#944b00"/><stop offset="0.4779" stop-color="#904a00"/><stop offset="0.5796" stop-color="#9a4f00"/><stop offset="0.7301" stop-color="#b65d00"/><stop offset="0.8717" stop-color="#d86f00"/><stop offset="0.9646" stop-color="#f27d00"/><stop offset="1" stop-color="#fe8300"/></linearGradient>
<linearGradient id="b50"><stop offset="0" stop-color="#e87800"/><stop offset="0.1416" stop-color="#c16300"/><stop offset="0.2699" stop-color="#a75600"/><stop offset="0.385" stop-color="#954c00"/><stop offset="0.4779" stop-color="#914a00"/><stop offset="0.5265" stop-color="#934b00"/><stop offset="0.5796" stop-color="#994e00"/><stop offset="0.7345" stop-color="#b65d00"/><stop offset="0.8628" stop-color="#d36d00"/><stop offset="1" stop-color="#f98100"/></linearGradient>
<linearGradient id="b51"><stop offset="0" stop-color="#eb7900"/><stop offset="0.1195" stop-color="#c86700"/><stop offset="0.2212" stop-color="#b15b00"/><stop offset="0.3717" stop-color="#984e00"/><stop offset="0.4292" stop-color="#934b00"/><stop offset="0.4779" stop-color="#914a00"/><stop offset="0.5265" stop-color="#944b00"/><stop offset="0.5796" stop-color="#994e00"/><stop offset="0.7345" stop-color="#b55d00"/><stop offset="0.854" stop-color="#cf6b00"/><stop offset="1" stop-color="#f57f00"/></linearGradient>
<linearGradient id="b52"><stop offset="0" stop-color="#ed7b00"/><stop offset="0.1239" stop-color="#c96800"/><stop offset="0.2257" stop-color="#b25b00"/><stop offset="0.3761" stop-color="#994e00"/><stop offset="0.4336" stop-color="#934b00"/><stop offset="0.4823" stop-color="#924b00"/><stop offset="0.5619" stop-color="#974d00"/><stop offset="0.6637" stop-color="#a75600"/><stop offset="0.823" stop-color="#c66600"/><stop offset="1" stop-color="#f27d00"/></linearGradient>
<linearGradient id="b53"><stop offset="0" stop-color="#f07c00"/><stop offset="0.1239" stop-color="#cb6900"/><stop offset="0.2257" stop-color="#b35c00"/><stop offset="0.3761" stop-color="#9a4f00"/><stop offset="0.4336" stop-color="#954c00"/><stop offset="0.4823" stop-color="#934b00"/><stop offset="0.5619" stop-color="#974d00"/><stop offset="0.6549" stop-color="#a55500"/><stop offset="0.823" stop-color="#c56500"/><stop offset="1" stop-color="#ef7b00"/></linearGradient>
<linearGradient id="b54"><stop offset="0" stop-color="#f27d00"/><stop offset="0.1239" stop-color="#cd6a00"/><stop offset="0.2301" stop-color="#b45d00"/><stop offset="0.3805" stop-color="#9b4f00"/><stop offset="0.4381" stop-color="#964c00"/><stop offset="0.4867" stop-color="#944b00"/><stop offset="0.5619" stop-color="#974d00"/><stop offset="0.6504" stop-color="#a45400"/><stop offset="0.8274" stop-color="#c46500"/><stop offset="1" stop-color="#ec7a00"/></linearGradient>
<linearGradient id="b55"><stop offset="0" stop-color="#f57f00"/><stop offset="0.1283" stop-color="#ce6a00"/><stop offset="0.2345" stop-color="#b55d00"/><stop offset="0.385" stop-color="#9c5000"/><stop offset="0.4867" stop-color="#954c00"/><stop offset="0.5619" stop-color="#984e00"/><stop offset="0.646" stop-color="#a35300"/><stop offset="0.8319" stop-color="#c46500"/><stop offset="1" stop-color="#e97800"/></linearGradient>
<linearGradient id="b56"><stop offset="0" stop-color="#f98100"/><stop offset="0.1239" stop-color="#d26c00"/><stop offset="0.2389" stop-color="#b65d00"/><stop offset="0.3894" stop-color="#9d5100"/><stop offset="0.4912" stop-color="#964c00"/><stop offset="0.5619" stop-color="#984e00"/><stop offset="0.646" stop-color="#a35300"/><stop offset="0.8363" stop-color="#c36500"/><stop offset="1" stop-color="#e67700"/></linearGradient>
<linearGradient id="b57"><stop offset="0" stop-color="#fc8300"/><stop offset="0.1195" stop-color="#d66e00"/><stop offset="0.2389" stop-color="#b85e00"/><stop offset="0.385" stop-color="#a05200"/><stop offset="0.4912" stop-color="#974d00"/><stop offset="0.5619" stop-color="#994e00"/><stop offset="0.646" stop-color="#a25300"/><stop offset="0.8451" stop-color="#c46500"/><stop offset="1" stop-color="#e47600"/></linearGradient>
<linearGradient id="b58"><stop offset="0" stop-color="#ff8501"/><stop offset="0.1239" stop-color="#d76f00"/><stop offset="0.2389" stop-color="#ba5f00"/><stop offset="0.385" stop-color="#a15300"/><stop offset="0.4912" stop-color="#984e00"/><stop offset="0.5619" stop-color="#994e00"/><stop offset="0.646" stop-color="#a25300"/><stop offset="0.8496" stop-color="#c36500"/><stop offset="1" stop-color="#e17400"/></linearGradient>
<linearGradient id="b59"><stop offset="0" stop-color="#ff8804"/><stop offset="0.01327" stop-color="#fe8400"/><stop offset="0.0885" stop-color="#e47600"/><stop offset="0.1726" stop-color="#cc6900"/><stop offset="0.2522" stop-color="#b95f00"/><stop offset="0.3938" stop-color="#a25300"/><stop offset="0.4956" stop-color="#994e00"/><stop offset="0.5664" stop-color="#9a4f00"/><stop offset="0.6504" stop-color="#a35300"/><stop offset="0.8584" stop-color="#c46500"/><stop offset="1" stop-color="#df7300"/></linearGradient>
<linearGradient id="b60"><stop offset="0" stop-color="#ff8c08"/><stop offset="0.02212" stop-color="#ff8400"/><stop offset="0.05752" stop-color="#f17d00"/><stop offset="0.1416" stop-color="#d76f00"/><stop offset="0.2655" stop-color="#b85f00"/><stop offset="0.4027" stop-color="#a35300"/><stop offset="0.5" stop-color="#9a4f00"/><stop offset="0.5708" stop-color="#9b4f00"/><stop offset="0.6504" stop-color="#a35300"/><stop offset="0.8628" stop-color="#c36400"/><stop offset="1" stop-color="#dd7200"/></linearGradient>
<linearGradient id="b61"><stop offset="0" stop-color="#ff900c"/><stop offset="0.03097" stop-color="#ff8400"/><stop offset="0.06637" stop-color="#f17d00"/><stop offset="0.1504" stop-color="#d76f00"/><stop offset="0.2743" stop-color="#b95f00"/><stop offset="0.4071" stop-color="#a45400"/><stop offset="0.5044" stop-color="#9b4f00"/><stop offset="0.5752" stop-color="#9c5000"/><stop offset="0.6549" stop-color="#a35400"/><stop offset="0.8717" stop-color="#c46500"/><stop offset="1" stop-color="#db7100"/></linearGradient>
<linearGradient id="b62"><stop offset="0" stop-color="#ff9410"/><stop offset="0.03982" stop-color="#ff8400"/><stop offset="0.1106" stop-color="#e67700"/><stop offset="0.2124" stop-color="#c96800"/><stop offset="0.2876" stop-color="#b85f00"/><stop offset="0.3628" stop-color="#ac5800"/><stop offset="0.4469" stop-color="#a15200"/><stop offset="0.5133" stop-color="#9c5000"/><stop offset="0.5841" stop-color="#9d5000"/><stop offset="0.6593" stop-color="#a45400"/><stop offset="0.8761" stop-color="#c36400"/><stop offset="1" stop-color="#d97000"/></linearGradient>
<linearGradient id="b63"><stop offset="0" stop-color="#ff9814"/><stop offset="0.04867" stop-color="#ff8400"/><stop offset="0.1106" stop-color="#e97800"/><stop offset="0.2035" stop-color="#ce6a00"/><stop offset="0.2743" stop-color="#bd6100"/><stop offset="0.3363" stop-color="#b25b00"/><stop offset="0.4381" stop-color="#a45400"/><stop offset="0.5177" stop-color="#9e5100"/><stop offset="0.5885" stop-color="#9e5100"/><stop offset="0.6637" stop-color="#a45400"/><stop offset="0.885" stop-color="#c36500"/><stop offset="1" stop-color="#d86f00"/></linearGradient>
<linearGradient id="b64"><stop offset="0" stop-color="#ff9d18"/><stop offset="0.06195" stop-color="#fe8300"/><stop offset="0.09292" stop-color="#f27d00"/><stop offset="0.1726" stop-color="#d97000"/><stop offset="0.2876" stop-color="#bc6100"/><stop offset="0.4159" stop-color="#a85600"/><stop offset="0.5221" stop-color="#9f5100"/><stop offset="0.5929" stop-color="#9f5100"/><stop offset="0.6681" stop-color="#a55500"/><stop offset="0.8894" stop-color="#c36400"/><stop offset="1" stop-color="#d66e00"/></linearGradient>
<linearGradient id="b65"><stop offset="0" stop-color="#ffa11d"/><stop offset="0.0708" stop-color="#fe8400"/><stop offset="0.1018" stop-color="#f27d00"/><stop offset="0.177" stop-color="#db7100"/><stop offset="0.292" stop-color="#be6200"/><stop offset="0.4204" stop-color="#aa5700"/><stop offset="0.5265" stop-color="#a05200"/><stop offset="0.5973" stop-color="#a05200"/><stop offset="0.6726" stop-color="#a65500"/><stop offset="0.8938" stop-color="#c36400"/><stop offset="1" stop-color="#d56e00"/></linearGradient>
<linearGradient id="b66"><stop offset="0" stop-color="#ffa621"/><stop offset="0.07965" stop-color="#fe8400"/><stop offset="0.1106" stop-color="#f27d00"/><stop offset="0.1858" stop-color="#db7100"/><stop offset="0.3009" stop-color="#be6200"/><stop offset="0.4248" stop-color="#ab5800"/><stop offset="0.531" stop-color="#a15300"/><stop offset="0.6062" stop-color="#a15200"/><stop offset="0.6814" stop-color="#a75500"/><stop offset="0.9027" stop-color="#c36400"/><stop offset="1" stop-color="#d36d00"/></linearGradient>
<linearGradient id="b67"><stop offset="0" stop-color="#ffab26"/><stop offset="0.0885" stop-color="#ff8400"/><stop offset="0.1195" stop-color="#f37e00"/><stop offset="0.1903" stop-color="#dd7200"/><stop offset="0.3053" stop-color="#c06300"/><stop offset="0.4248" stop-color="#ad5900"/><stop offset="0.5354" stop-color="#a35300"/><stop offset="0.6106" stop-color="#a25300"/><stop offset="0.6858" stop-color="#a75600"/><stop offset="0.9071" stop-color="#c36400"/><stop offset="1" stop-color="#d26c00"/></linearGradient>
<linearGradient id="b68"><stop offset="0" stop-color="#ffb02b"/><stop offset="0.04867" stop-color="#ff9814"/><stop offset="0.09735" stop-color="#ff8400"/><stop offset="0.2035" stop-color="#dc7200"/><stop offset="0.3142" stop-color="#c06300"/><stop offset="0.4336" stop-color="#ae5900"/><stop offset="0.5398" stop-color="#a45400"/><stop offset="0.615" stop-color="#a35400"/><stop offset="0.6903" stop-color="#a85600"/><stop offset="0.9115" stop-color="#c36400"/><stop offset="1" stop-color="#d16c00"/></linearGradient>
<linearGradient id="b69"><stop offset="0" stop-color="#ffb530"/><stop offset="0.06195" stop-color="#ff9712"/><stop offset="0.1106" stop-color="#fe8300"/><stop offset="0.2124" stop-color="#dc7200"/><stop offset="0.323" stop-color="#c16300"/><stop offset="0.4381" stop-color="#af5a00"/><stop offset="0.5442" stop-color="#a55500"/><stop offset="0.6195" stop-color="#a45400"/><stop offset="0.6991" stop-color="#a95700"/><stop offset="0.9159" stop-color="#c26400"/><stop offset="1" stop-color="#d06b00"/></linearGradient>
<linearGradient id="b70"><stop offset="0" stop-color="#ffbb36"/><stop offset="0.06195" stop-color="#ff9b17"/><stop offset="0.1195" stop-color="#fe8400"/><stop offset="0.2212" stop-color="#dd7200"/><stop offset="0.3319" stop-color="#c26400"/><stop offset="0.4469" stop-color="#b05a00"/><stop offset="0.5531" stop-color="#a75500"/><stop offset="0.6283" stop-color="#a65500"/><stop offset="0.708" stop-color="#aa5700"/><stop offset="0.9159" stop-color="#c26400"/><stop offset="1" stop-color="#cf6b00"/></linearGradient>
<linearGradient id="b71"><stop offset="0" stop-color="#ffc13b"/><stop offset="0.06195" stop-color="#ffa01b"/><stop offset="0.1283" stop-color="#ff8400"/><stop offset="0.177" stop-color="#ee7b00"/><stop offset="0.2566" stop-color="#d66e00"/><stop offset="0.3186" stop-color="#c76600"/><stop offset="0.3805" stop-color="#bb6000"/><stop offset="0.5265" stop-color="#aa5700"/><stop offset="0.5885" stop-color="#a75600"/><stop offset="0.6504" stop-color="#a75600"/><stop offset="0.7965" stop-color="#b35c00"/><stop offset="0.9336" stop-color="#c36500"/><stop offset="1" stop-color="#ce6a00"/></linearGradient>
<linearGradient id="b72"><stop offset="0" stop-color="#ffc741"/><stop offset="0.06637" stop-color="#ffa31e"/><stop offset="0.1372" stop-color="#ff8400"/><stop offset="0.2611" stop-color="#d86f00"/><stop offset="0.3761" stop-color="#be6200"/><stop offset="0.5265" stop-color="#ac5800"/><stop offset="0.5929" stop-color="#a85600"/><stop offset="0.6549" stop-color="#a85600"/><stop offset="0.8053" stop-color="#b45c00"/><stop offset="0.9336" stop-color="#c36400"/><stop offset="1" stop-color="#cd6a00"/></linearGradient>
<linearGradient id="b73"><stop offset="0" stop-color="#ffcd47"/><stop offset="0.07522" stop-color="#ffa31e"/><stop offset="0.1504" stop-color="#fe8400"/><stop offset="0.2611" stop-color="#db7100"/><stop offset="0.3717" stop-color="#c16300"/><stop offset="0.4292" stop-color="#b85e00"/><stop offset="0.5221" stop-color="#ae5900"/><stop offset="0.5929" stop-color="#aa5700"/><stop offset="0.6593" stop-color="#a95700"/><stop offset="0.8142" stop-color="#b45d00"/><stop offset="0.9381" stop-color="#c36400"/><stop offset="1" stop-color="#cd6900"/></linearGradient>
<linearGradient id="b74"><stop offset="0" stop-color="#ffd34d"/><stop offset="0.07522" stop-color="#ffa823"/><stop offset="0.1593" stop-color="#ff8400"/><stop offset="0.2566" stop-color="#df7300"/><stop offset="0.3628" stop-color="#c56500"/><stop offset="0.4248" stop-color="#ba6000"/><stop offset="0.5133" stop-color="#b05b00"/><stop offset="0.5885" stop-color="#ab5800"/><stop offset="0.6593" stop-color="#aa5700"/><stop offset="0.7257" stop-color="#ad5900"/><stop offset="0.8142" stop-color="#b45d00"/><stop offset="0.9425" stop-color="#c36400"/><stop offset="1" stop-color="#cc6900"/></linearGradient>
<linearGradient id="b75"><stop offset="0" stop-color="#ffd953"/><stop offset="0.03982" stop-color="#ffc03b"/><stop offset="0.07965" stop-color="#ffab26"/><stop offset="0.1283" stop-color="#ff9410"/><stop offset="0.1681" stop-color="#ff8400"/><stop offset="0.2611" stop-color="#e17400"/><stop offset="0.3584" stop-color="#c86700"/><stop offset="0.4248" stop-color="#bc6100"/><stop offset="0.5088" stop-color="#b35c00"/><stop offset="0.5885" stop-color="#ad5900"/><stop offset="0.6637" stop-color="#ab5800"/><stop offset="0.7345" stop-color="#ae5900"/><stop offset="0.823" stop-color="#b55d00"/><stop offset="0.9381" stop-color="#c26400"/><stop offset="1" stop-color="#cc6900"/></linearGradient>
<linearGradient id="b76"><stop offset="0" stop-color="#ffe05a"/><stop offset="0.03982" stop-color="#ffc641"/><stop offset="0.08407" stop-color="#ffad28"/><stop offset="0.1327" stop-color="#ff9612"/><stop offset="0.177" stop-color="#ff8501"/><stop offset="0.2655" stop-color="#e37500"/><stop offset="0.3496" stop-color="#cd6a00"/><stop offset="0.4204" stop-color="#bf6200"/><stop offset="0.5" stop-color="#b55d00"/><stop offset="0.5841" stop-color="#af5a00"/><stop offset="0.6681" stop-color="#ac5800"/><stop offset="0.7389" stop-color="#ae5900"/><stop offset="0.8274" stop-color="#b55d00"/><stop offset="0.9248" stop-color="#c06300"/><stop offset="1" stop-color="#cb6900"/></linearGradient>
<linearGradient id="b77"><stop offset="0" stop-color="#ffe761"/><stop offset="0.04425" stop-color="#ffca44"/><stop offset="0.0885" stop-color="#ffb02b"/><stop offset="0.1416" stop-color="#ff9712"/><stop offset="0.1858" stop-color="#ff8501"/><stop offset="0.2655" stop-color="#e67700"/><stop offset="0.3407" stop-color="#d16c00"/><stop offset="0.4115" stop-color="#c36400"/><stop offset="0.4779" stop-color="#b95f00"/><stop offset="0.5752" stop-color="#b15b00"/><stop offset="0.6681" stop-color="#ad5900"/><stop offset="0.7434" stop-color="#af5a00"/><stop offset="0.8274" stop-color="#b45d00"/><stop offset="0.9204" stop-color="#bf6200"/><stop offset="1" stop-color="#cb6900"/></linearGradient>
<linearGradient id="b78"><stop offset="0" stop-color="#ffee68"/><stop offset="0.04425" stop-color="#ffd04a"/><stop offset="0.09292" stop-color="#ffb32e"/><stop offset="0.1504" stop-color="#ff9713"/><stop offset="0.1991" stop-color="#ff8400"/><stop offset="0.2566" stop-color="#ec7a00"/><stop offset="0.3319" stop-color="#d66f00"/><stop offset="0.4027" stop-color="#c76600"/><stop offset="0.469" stop-color="#bc6100"/><stop offset="0.5708" stop-color="#b35c00"/><stop offset="0.6681" stop-color="#ae5900"/><stop offset="0.7478" stop-color="#af5a00"/><stop offset="0.8319" stop-color="#b45d00"/><stop offset="0.9204" stop-color="#be6200"/><stop offset="1" stop-color="#cb6900"/></linearGradient>
<linearGradient id="b79"><stop offset="0" stop-color="#fff66f"/><stop offset="0.04867" stop-color="#ffd34d"/><stop offset="0.09735" stop-color="#ffb631"/><stop offset="0.1549" stop-color="#ff9a15"/><stop offset="0.208" stop-color="#ff8400"/><stop offset="0.3053" stop-color="#e07400"/><stop offset="0.4027" stop-color="#c96700"/><stop offset="0.4779" stop-color="#bd6100"/><stop offset="0.5885" stop-color="#b35c00"/><stop offset="0.6947" stop-color="#af5a00"/><stop offset="0.792" stop-color="#b15b00"/><stop offset="0.8982" stop-color="#bb6000"/><stop offset="1" stop-color="#cb6800"/></linearGradient>
<linearGradient id="b80"><stop offset="0" stop-color="#fffd76"/><stop offset="0.0531" stop-color="#ffd751"/><stop offset="0.1062" stop-color="#ffb731"/><stop offset="0.1726" stop-color="#ff9612"/><stop offset="0.2212" stop-color="#fe8400"/><stop offset="0.3186" stop-color="#e07300"/><stop offset="0.4115" stop-color="#c96800"/><stop offset="0.4867" stop-color="#be6100"/><stop offset="0.6018" stop-color="#b35c00"/><stop offset="0.708" stop-color="#af5a00"/><stop offset="0.8009" stop-color="#b15b00"/><stop offset="0.8982" stop-color="#ba6000"/><stop offset="1" stop-color="#cb6800"/></linearGradient>
<linearGradient id="b81"><stop offset="0" stop-color="#f9fb75"/><stop offset="0.00885" stop-color="#fffe77"/><stop offset="0.06637" stop-color="#ffd44e"/><stop offset="0.1283" stop-color="#ffb02b"/><stop offset="0.1858" stop-color="#ff9510"/><stop offset="0.2301" stop-color="#ff8400"/><stop offset="0.3274" stop-color="#e07400"/><stop offset="0.4204" stop-color="#ca6800"/><stop offset="0.4912" stop-color="#bf6200"/><stop offset="0.6106" stop-color="#b45c00"/><stop offset="0.7168" stop-color="#b05a00"/><stop offset="0.8097" stop-color="#b25b00"/><stop offset="0.9027" stop-color="#bb6000"/><stop offset="1" stop-color="#cb6800"/></linearGradient>
<linearGradient id="b82"><stop offset="0" stop-color="#f1f672"/><stop offset="0.0177" stop-color="#fffe77"/><stop offset="0.06637" stop-color="#ffda54"/><stop offset="0.1195" stop-color="#ffba34"/><stop offset="0.1814" stop-color="#ff9b16"/><stop offset="0.2389" stop-color="#ff8400"/><stop offset="0.3319" stop-color="#e27400"/><stop offset="0.4292" stop-color="#ca6800"/><stop offset="0.5044" stop-color="#bf6200"/><stop offset="0.6239" stop-color="#b45c00"/><stop offset="0.7257" stop-color="#b05a00"/><stop offset="0.8142" stop-color="#b25b00"/><stop offset="0.9071" stop-color="#bb6000"/><stop offset="1" stop-color="#cb6800"/></linearGradient>
<linearGradient id="b83"><stop offset="0" stop-color="#e8f06e"/><stop offset="0.02655" stop-color="#ffff78"/><stop offset="0.07522" stop-color="#ffdb55"/><stop offset="0.1283" stop-color="#ffba35"/><stop offset="0.1903" stop-color="#ff9b17"/><stop offset="0.2478" stop-color="#ff8400"/><stop offset="0.3451" stop-color="#e17400"/><stop offset="0.4381" stop-color="#cb6900"/><stop offset="0.5088" stop-color="#c06300"/><stop offset="0.6327" stop-color="#b45d00"/><stop offset="0.7345" stop-color="#b05a00"/><stop offset="0.823" stop-color="#b25b00"/><stop offset="0.9115" stop-color="#bb6000"/><stop offset="1" stop-color="#cb6800"/></linearGradient>
<linearGradient id="b84"><stop offset="0" stop-color="#dde969"/><stop offset="0.01327" stop-color="#ecf36f"/><stop offset="0.0354" stop-color="#ffff78"/><stop offset="0.0885" stop-color="#ffd852"/><stop offset="0.1416" stop-color="#ffb833"/><stop offset="0.2035" stop-color="#ff9915"/><stop offset="0.2566" stop-color="#ff8400"/><stop offset="0.354" stop-color="#e17400"/><stop offset="0.4469" stop-color="#cb6900"/><stop offset="0.5177" stop-color="#c06300"/><stop offset="0.6416" stop-color="#b55d00"/><stop offset="0.7434" stop-color="#b05a00"/><stop offset="0.8274" stop-color="#b25c00"/><stop offset="0.9115" stop-color="#bb6000"/><stop offset="1" stop-color="#ca6800"/></linearGradient>
<linearGradient id="b85"><stop offset="0" stop-color="#d2e264"/><stop offset="0.02212" stop-color="#ebf26f"/><stop offset="0.04425" stop-color="#fefe78"/><stop offset="0.1018" stop-color="#ffd650"/><stop offset="0.1549" stop-color="#ffb631"/><stop offset="0.2212" stop-color="#ff9611"/><stop offset="0.2699" stop-color="#fe8300"/><stop offset="0.3628" stop-color="#e17400"/><stop offset="0.4558" stop-color="#cc6900"/><stop offset="0.531" stop-color="#c06300"/><stop offset="0.6504" stop-color="#b55d00"/><stop offset="0.7478" stop-color="#b05b00"/><stop offset="0.8274" stop-color="#b25b00"/><stop offset="0.9115" stop-color="#bb6000"/><stop offset="1" stop-color="#ca6800"/></linearGradient>
<linearGradient id="b86"><stop offset="0" stop-color="#c5da5e"/><stop offset="0.03097" stop-color="#ebf26f"/><stop offset="0.0531" stop-color="#fefe77"/><stop offset="0.05752" stop-color="#fffd76"/><stop offset="0.1106" stop-color="#ffd650"/><stop offset="0.1637" stop-color="#ffb631"/><stop offset="0.2257" stop-color="#ff9813"/><stop offset="0.2788" stop-color="#fe8400"/><stop offset="0.3717" stop-color="#e27400"/><stop offset="0.4646" stop-color="#cc6900"/><stop offset="0.5398" stop-color="#c06300"/><stop offset="0.6593" stop-color="#b55d00"/><stop offset="0.7522" stop-color="#b15b00"/><stop offset="0.8319" stop-color="#b25c00"/><stop offset="0.9159" stop-color="#bb6000"/><stop offset="1" stop-color="#ca6800"/></linearGradient>
<linearGradient id="b87"><stop offset="0" stop-color="#b9d258"/><stop offset="0.0354" stop-color="#e6ef6d"/><stop offset="0.06195" stop-color="#fdfe77"/><stop offset="0.06637" stop-color="#fffd76"/><stop offset="0.1195" stop-color="#ffd650"/><stop offset="0.1726" stop-color="#ffb631"/><stop offset="0.2345" stop-color="#ff9814"/><stop offset="0.2876" stop-color="#fe8400"/><stop offset="0.3761" stop-color="#e37500"/><stop offset="0.469" stop-color="#cd6a00"/><stop offset="0.5487" stop-color="#c06300"/><stop offset="0.6637" stop-color="#b55d00"/><stop offset="0.7566" stop-color="#b15b00"/><stop offset="0.8363" stop-color="#b35c00"/><stop offset="0.9159" stop-color="#bb6000"/><stop offset="1" stop-color="#ca6800"/></linearGradient>
<linearGradient id="b88"><stop offset="0" stop-color="#acca53"/><stop offset="0.02655" stop-color="#d0e163"/><stop offset="0.04425" stop-color="#e5ee6c"/><stop offset="0.0708" stop-color="#fdfe77"/><stop offset="0.07522" stop-color="#fffe77"/><stop offset="0.1283" stop-color="#ffd751"/><stop offset="0.1814" stop-color="#ffb731"/><stop offset="0.2434" stop-color="#ff9814"/><stop offset="0.2965" stop-color="#ff8400"/><stop offset="0.385" stop-color="#e37500"/><stop offset="0.4779" stop-color="#cd6a00"/><stop offset="0.5531" stop-color="#c16300"/><stop offset="0.6637" stop-color="#b55d00"/><stop offset="0.7566" stop-color="#b15b00"/><stop offset="0.8363" stop-color="#b35c00"/><stop offset="0.9159" stop-color="#bb6000"/><stop offset="1" stop-color="#ca6800"/></linearGradient>
<linearGradient id="b89"><stop offset="0" stop-color="#9fc14d"/><stop offset="0.04867" stop-color="#e0eb6a"/><stop offset="0.06637" stop-color="#f2f672"/><stop offset="0.08407" stop-color="#fffe77"/><stop offset="0.1372" stop-color="#ffd751"/><stop offset="0.1903" stop-color="#ffb732"/><stop offset="0.2522" stop-color="#ff9814"/><stop offset="0.3053" stop-color="#ff8400"/><stop offset="0.3938" stop-color="#e37500"/><stop offset="0.4867" stop-color="#cd6a00"/><stop offset="0.5664" stop-color="#c06300"/><stop offset="0.6681" stop-color="#b65d00"/><stop offset="0.7566" stop-color="#b15b00"/><stop offset="0.8363" stop-color="#b35c00"/><stop offset="0.9159" stop-color="#bb6000"/><stop offset="1" stop-color="#ca6800"/></linearGradient>
<linearGradient id="b90"><stop offset="0" stop-color="#92b947"/><stop offset="0.03982" stop-color="#c9dc60"/><stop offset="0.05752" stop-color="#dfeb6a"/><stop offset="0.07522" stop-color="#f1f672"/><stop offset="0.09292" stop-color="#fffe77"/><stop offset="0.146" stop-color="#ffd751"/><stop offset="0.1991" stop-color="#ffb732"/><stop offset="0.2611" stop-color="#ff9914"/><stop offset="0.3142" stop-color="#ff8400"/><stop offset="0.3982" stop-color="#e57600"/><stop offset="0.4956" stop-color="#cd6a00"/><stop offset="0.5708" stop-color="#c06300"/><stop offset="0.6681" stop-color="#b65e00"/><stop offset="0.7611" stop-color="#b25b00"/><stop offset="0.8407" stop-color="#b35c00"/><stop offset="0.9159" stop-color="#bb6000"/><stop offset="1" stop-color="#ca6800"/></linearGradient>
<linearGradient id="b91"><stop offset="0" stop-color="#86b142"/><stop offset="0.06195" stop-color="#dae767"/><stop offset="0.07965" stop-color="#edf370"/><stop offset="0.1018" stop-color="#fffe77"/><stop offset="0.1549" stop-color="#ffd751"/><stop offset="0.208" stop-color="#ffb732"/><stop offset="0.2699" stop-color="#ff9914"/><stop offset="0.323" stop-color="#ff8400"/><stop offset="0.4071" stop-color="#e57600"/><stop offset="0.5044" stop-color="#cd6a00"/><stop offset="0.5796" stop-color="#c06300"/><stop offset="0.6726" stop-color="#b65e00"/><stop offset="0.7611" stop-color="#b25b00"/><stop offset="0.8407" stop-color="#b35c00"/><stop offset="0.9159" stop-color="#bb6000"/><stop offset="1" stop-color="#ca6800"/></linearGradient>
<linearGradient id="b92"><stop offset="0" stop-color="#7baa3d"/><stop offset="0.0708" stop-color="#d9e767"/><stop offset="0.0885" stop-color="#edf370"/><stop offset="0.1106" stop-color="#fffe78"/><stop offset="0.1637" stop-color="#ffd751"/><stop offset="0.2168" stop-color="#ffb732"/><stop offset="0.2788" stop-color="#ff9914"/><stop offset="0.3319" stop-color="#ff8400"/><stop offset="0.4159" stop-color="#e57600"/><stop offset="0.5133" stop-color="#cd6a00"/><stop offset="0.5885" stop-color="#c06300"/><stop offset="0.6726" stop-color="#b75e00"/><stop offset="0.7611" stop-color="#b25c00"/><stop offset="0.8407" stop-color="#b45c00"/><stop offset="0.9159" stop-color="#bb6000"/><stop offset="1" stop-color="#ca6800"/></linearGradient>
<linearGradient id="b93"><stop offset="0" stop-color="#71a438"/><stop offset="0.02212" stop-color="#8bb444"/><stop offset="0.08407" stop-color="#deea69"/><stop offset="0.1018" stop-color="#f1f672"/><stop offset="0.1195" stop-color="#ffff78"/><stop offset="0.1726" stop-color="#ffd751"/><stop offset="0.2257" stop-color="#ffb732"/><stop offset="0.2876" stop-color="#ff9914"/><stop offset="0.3407" stop-color="#ff8400"/><stop offset="0.4248" stop-color="#e57600"/><stop offset="0.5221" stop-color="#cd6a00"/><stop offset="0.5929" stop-color="#c06300"/><stop offset="0.6681" stop-color="#b85e00"/><stop offset="0.7611" stop-color="#b35c00"/><stop offset="0.8407" stop-color="#b45d00"/><stop offset="0.9159" stop-color="#bc6000"/><stop offset="1" stop-color="#ca6800"/></linearGradient>
<linearGradient id="b94"><stop offset="0" stop-color="#689e34"/><stop offset="0.02655" stop-color="#85b141"/><stop offset="0.09292" stop-color="#deea69"/><stop offset="0.1106" stop-color="#f0f671"/><stop offset="0.1283" stop-color="#ffff78"/><stop offset="0.1814" stop-color="#ffd751"/><stop offset="0.2345" stop-color="#ffb732"/><stop offset="0.2965" stop-color="#ff9814"/><stop offset="0.3496" stop-color="#ff8400"/><stop offset="0.4292" stop-color="#e67700"/><stop offset="0.531" stop-color="#cc6900"/><stop offset="0.5973" stop-color="#c06300"/><stop offset="0.6681" stop-color="#b85f00"/><stop offset="0.7566" stop-color="#b45c00"/><stop offset="0.8407" stop-color="#b55d00"/><stop offset="0.9159" stop-color="#bc6100"/><stop offset="1" stop-color="#ca6800"/></linearGradient>
<linearGradient id="b95"><stop offset="0" stop-color="#619a31"/><stop offset="0.01327" stop-color="#6ca136"/><stop offset="0.03097" stop-color="#7fad3e"/><stop offset="0.0885" stop-color="#cddf62"/><stop offset="0.1062" stop-color="#e3ed6b"/><stop offset="0.1372" stop-color="#ffff78"/><stop offset="0.1903" stop-color="#ffd751"/><stop offset="0.2434" stop-color="#ffb732"/><stop offset="0.3053" stop-color="#ff9814"/><stop offset="0.3584" stop-color="#ff8400"/><stop offset="0.4381" stop-color="#e67700"/><stop offset="0.5354" stop-color="#cd6a00"/><stop offset="0.6018" stop-color="#c06300"/><stop offset="0.6681" stop-color="#b95f00"/><stop offset="0.7566" stop-color="#b45d00"/><stop offset="0.8407" stop-color="#b55d00"/><stop offset="0.9159" stop-color="#bc6100"/><stop offset="1" stop-color="#ca6800"/></linearGradient>
<linearGradient id="b96"><stop offset="0" stop-color="#5b962f"/><stop offset="0.0177" stop-color="#689e34"/><stop offset="0.0354" stop-color="#79a93c"/><stop offset="0.1106" stop-color="#deea69"/><stop offset="0.1283" stop-color="#f0f671"/><stop offset="0.146" stop-color="#ffff78"/><stop offset="0.1991" stop-color="#ffd751"/><stop offset="0.2522" stop-color="#ffb732"/><stop offset="0.3142" stop-color="#ff9814"/><stop offset="0.3673" stop-color="#fe8400"/><stop offset="0.4425" stop-color="#e77700"/><stop offset="0.5398" stop-color="#cd6a00"/><stop offset="0.6062" stop-color="#c06300"/><stop offset="0.6637" stop-color="#ba5f00"/><stop offset="0.7522" stop-color="#b55d00"/><stop offset="0.8363" stop-color="#b65d00"/><stop offset="0.9115" stop-color="#bc6100"/><stop offset="1" stop-color="#ca6800"/></linearGradient>
<linearGradient id="b97"><stop offset="0" stop-color="#56932c"/><stop offset="0.02212" stop-color="#649c33"/><stop offset="0.03982" stop-color="#74a63a"/><stop offset="0.06195" stop-color="#8fb746"/><stop offset="0.1195" stop-color="#deea69"/><stop offset="0.1372" stop-color="#f0f671"/><stop offset="0.1549" stop-color="#ffff78"/><stop offset="0.208" stop-color="#ffd751"/><stop offset="0.2611" stop-color="#ffb731"/><stop offset="0.323" stop-color="#ff9814"/><stop offset="0.3761" stop-color="#fe8400"/><stop offset="0.4469" stop-color="#e87800"/><stop offset="0.5442" stop-color="#ce6a00"/><stop offset="0.6062" stop-color="#c16300"/><stop offset="0.6593" stop-color="#bb6000"/><stop offset="0.7522" stop-color="#b65d00"/><stop offset="0.8363" stop-color="#b75e00"/><stop offset="0.9115" stop-color="#bd6100"/><stop offset="1" stop-color="#ca6800"/></linearGradient>
<linearGradient id="b98"><stop offset="0" stop-color="#518f2a"/><stop offset="0.03097" stop-color="#649c33"/><stop offset="0.04867" stop-color="#74a63a"/><stop offset="0.0708" stop-color="#8fb746"/><stop offset="0.1283" stop-color="#ddea69"/><stop offset="0.146" stop-color="#f0f671"/><stop offset="0.1637" stop-color="#ffff78"/><stop offset="0.2124" stop-color="#ffda54"/><stop offset="0.2655" stop-color="#ffb934"/><stop offset="0.323" stop-color="#ff9c17"/><stop offset="0.3805" stop-color="#ff8501"/><stop offset="0.4558" stop-color="#e77700"/><stop offset="0.5442" stop-color="#cf6b00"/><stop offset="0.6062" stop-color="#c26400"/><stop offset="0.6593" stop-color="#bb6000"/><stop offset="0.7478" stop-color="#b75e00"/><stop offset="0.8319" stop-color="#b75e00"/><stop offset="0.9115" stop-color="#be6100"/><stop offset="1" stop-color="#ca6800"/></linearGradient>
<linearGradient id="b99"><stop offset="0" stop-color="#4c8c28"/><stop offset="0.03982" stop-color="#649c33"/><stop offset="0.05752" stop-color="#74a63a"/><stop offset="0.07965" stop-color="#8fb746"/><stop offset="0.1372" stop-color="#ddea69"/><stop offset="0.1549" stop-color="#f1f672"/><stop offset="0.1726" stop-color="#fffe77"/><stop offset="0.2212" stop-color="#ffda54"/><stop offset="0.2743" stop-color="#ffb933"/><stop offset="0.3319" stop-color="#ff9c17"/><stop offset="0.3894" stop-color="#ff8400"/><stop offset="0.4602" stop-color="#e87800"/><stop offset="0.5487" stop-color="#cf6b00"/><stop offset="0.6062" stop-color="#c36400"/><stop offset="0.6593" stop-color="#bc6100"/><stop offset="0.7478" stop-color="#b75e00"/><stop offset="0.8319" stop-color="#b85f00"/><stop offset="0.9115" stop-color="#be6200"/><stop offset="1" stop-color="#ca6800"/></linearGradient>
<linearGradient id="b100"><stop offset="0" stop-color="#488a26"/><stop offset="0.0354" stop-color="#5c962f"/><stop offset="0.06195" stop-color="#70a338"/><stop offset="0.08407" stop-color="#89b443"/><stop offset="0.146" stop-color="#deea69"/><stop offset="0.1637" stop-color="#f1f672"/><stop offset="0.1814" stop-color="#fffe77"/><stop offset="0.2301" stop-color="#ffda53"/><stop offset="0.2832" stop-color="#ffb833"/><stop offset="0.3407" stop-color="#ff9b17"/><stop offset="0.3982" stop-color="#ff8400"/><stop offset="0.4602" stop-color="#ea7900"/><stop offset="0.5531" stop-color="#d06b00"/><stop offset="0.6106" stop-color="#c36500"/><stop offset="0.6637" stop-color="#bc6100"/><stop offset="0.7478" stop-color="#b85f00"/><stop offset="0.8319" stop-color="#b95f00"/><stop offset="0.9115" stop-color="#bf6200"/><stop offset="1" stop-color="#cb6800"/></linearGradient>
<linearGradient id="b101"><stop offset="0" stop-color="#448724"/><stop offset="0.04425" stop-color="#5c962f"/><stop offset="0.0708" stop-color="#70a338"/><stop offset="0.09735" stop-color="#8fb746"/><stop offset="0.1549" stop-color="#deea69"/><stop offset="0.1726" stop-color="#f1f672"/><stop offset="0.1903" stop-color="#fffe77"/><stop offset="0.2389" stop-color="#ffd953"/><stop offset="0.292" stop-color="#ffb833"/><stop offset="0.354" stop-color="#ff9915"/><stop offset="0.4071" stop-color="#fe8400"/><stop offset="0.469" stop-color="#e97900"/><stop offset="0.5575" stop-color="#d06b00"/><stop offset="0.615" stop-color="#c46500"/><stop offset="0.6681" stop-color="#bd6100"/><stop offset="0.7478" stop-color="#b95f00"/><stop offset="0.8319" stop-color="#ba6000"/><stop offset="0.9115" stop-color="#c06300"/><stop offset="1" stop-color="#cb6900"/></linearGradient>
<linearGradient id="b102"><stop offset="0" stop-color="#408522"/><stop offset="0.04867" stop-color="#59952e"/><stop offset="0.07965" stop-color="#70a338"/><stop offset="0.1062" stop-color="#8fb746"/><stop offset="0.1637" stop-color="#deea69"/><stop offset="0.1814" stop-color="#f1f672"/><stop offset="0.1947" stop-color="#fdfd77"/><stop offset="0.1991" stop-color="#fffe77"/><stop offset="0.2478" stop-color="#ffd953"/><stop offset="0.2965" stop-color="#ffba35"/><stop offset="0.354" stop-color="#ff9d18"/><stop offset="0.4115" stop-color="#ff8501"/><stop offset="0.4823" stop-color="#e77700"/><stop offset="0.5619" stop-color="#d16c00"/><stop offset="0.6195" stop-color="#c46500"/><stop offset="0.6726" stop-color="#be6200"/><stop offset="0.7478" stop-color="#ba6000"/><stop offset="0.8274" stop-color="#bc6000"/><stop offset="0.9115" stop-color="#c16300"/><stop offset="1" stop-color="#cb6900"/></linearGradient>
<linearGradient id="b103"><stop offset="0" stop-color="#3d8221"/><stop offset="0.0531" stop-color="#57932d"/><stop offset="0.0885" stop-color="#70a438"/><stop offset="0.115" stop-color="#8fb746"/><stop offset="0.177" stop-color="#e3ed6c"/><stop offset="0.2035" stop-color="#fdfe77"/><stop offset="0.208" stop-color="#fffd76"/><stop offset="0.2566" stop-color="#ffd953"/><stop offset="0.3053" stop-color="#ffba35"/><stop offset="0.3584" stop-color="#ff9e1a"/><stop offset="0.4204" stop-color="#ff8400"/><stop offset="0.4735" stop-color="#ec7a00"/><stop offset="0.5575" stop-color="#d36d00"/><stop offset="0.615" stop-color="#c76600"/><stop offset="0.6726" stop-color="#bf6200"/><stop offset="0.7434" stop-color="#bc6100"/><stop offset="0.823" stop-color="#bd6100"/><stop offset="0.9071" stop-color="#c26400"/><stop offset="1" stop-color="#cc6900"/></linearGradient>
<linearGradient id="b104"><stop offset="0" stop-color="#39801f"/><stop offset="0.0531" stop-color="#52902b"/><stop offset="0.09292" stop-color="#6da136"/><stop offset="0.1195" stop-color="#8ab443"/><stop offset="0.1858" stop-color="#e3ed6c"/><stop offset="0.2124" stop-color="#fdfe77"/><stop offset="0.2168" stop-color="#fffd76"/><stop offset="0.2655" stop-color="#ffd852"/><stop offset="0.3142" stop-color="#ffba34"/><stop offset="0.3717" stop-color="#ff9c17"/><stop offset="0.4292" stop-color="#fe8400"/><stop offset="0.4823" stop-color="#eb7900"/><stop offset="0.5619" stop-color="#d46d00"/><stop offset="0.6195" stop-color="#c86700"/><stop offset="0.677" stop-color="#c06300"/><stop offset="0.7434" stop-color="#bd6100"/><stop offset="0.823" stop-color="#be6200"/><stop offset="0.9071" stop-color="#c36400"/><stop offset="1" stop-color="#cc6900"/></linearGradient>
<linearGradient id="b105"><stop offset="0" stop-color="#367e1e"/><stop offset="0.05752" stop-color="#518f2a"/><stop offset="0.1018" stop-color="#6da237"/><stop offset="0.1283" stop-color="#8ab443"/><stop offset="0.1947" stop-color="#e4ee6c"/><stop offset="0.2212" stop-color="#fefe77"/><stop offset="0.2257" stop-color="#fffd76"/><stop offset="0.2743" stop-color="#ffd852"/><stop offset="0.323" stop-color="#ffb934"/><stop offset="0.3761" stop-color="#ff9d19"/><stop offset="0.4336" stop-color="#ff8400"/><stop offset="0.4823" stop-color="#ed7a00"/><stop offset="0.5619" stop-color="#d66e00"/><stop offset="0.6239" stop-color="#c96700"/><stop offset="0.6814" stop-color="#c16300"/><stop offset="0.7434" stop-color="#be6200"/><stop offset="0.823" stop-color="#bf6200"/><stop offset="1" stop-color="#cd6a00"/></linearGradient>
<linearGradient id="b106"><stop offset="0" stop-color="#337c1c"/><stop offset="0.06637" stop-color="#51902a"/><stop offset="0.1106" stop-color="#6ea237"/><stop offset="0.1372" stop-color="#8ab444"/><stop offset="0.2035" stop-color="#e4ee6c"/><stop offset="0.2301" stop-color="#fefe78"/><stop offset="0.2345" stop-color="#fffc75"/><stop offset="0.2832" stop-color="#ffd751"/><stop offset="0.3319" stop-color="#ffb933"/><stop offset="0.3894" stop-color="#ff9b16"/><stop offset="0.4425" stop-color="#ff8400"/><stop offset="0.4823" stop-color="#ef7b00"/><stop offset="0.5619" stop-color="#d86f00"/><stop offset="0.6239" stop-color="#cb6800"/><stop offset="0.6858" stop-color="#c26400"/><stop offset="0.7389" stop-color="#c06300"/><stop offset="0.8186" stop-color="#c16300"/><stop offset="1" stop-color="#ce6a00"/></linearGradient>
<linearGradient id="b107"><stop offset="0" stop-color="#307a1b"/><stop offset="0.0708" stop-color="#4f8e29"/><stop offset="0.1195" stop-color="#6ea237"/><stop offset="0.146" stop-color="#8bb444"/><stop offset="0.2124" stop-color="#e4ee6c"/><stop offset="0.2389" stop-color="#ffff78"/><stop offset="0.2876" stop-color="#ffda54"/><stop offset="0.3363" stop-color="#ffbb35"/><stop offset="0.3894" stop-color="#ff9e1a"/><stop offset="0.4469" stop-color="#ff8400"/><stop offset="0.4912" stop-color="#ee7b00"/><stop offset="0.5664" stop-color="#d97000"/><stop offset="0.6283" stop-color="#cc6900"/><stop offset="0.6903" stop-color="#c46500"/><stop offset="0.7389" stop-color="#c16400"/><stop offset="0.8142" stop-color="#c26400"/><stop offset="1" stop-color="#ce6a00"/></linearGradient>
<linearGradient id="b108"><stop offset="0" stop-color="#2c7819"/><stop offset="0.07965" stop-color="#508f29"/><stop offset="0.1283" stop-color="#6ea237"/><stop offset="0.1549" stop-color="#8bb544"/><stop offset="0.2212" stop-color="#e5ee6c"/><stop offset="0.2478" stop-color="#ffff78"/><stop offset="0.2965" stop-color="#ffda54"/><stop offset="0.3451" stop-color="#ffba35"/><stop offset="0.3982" stop-color="#ff9e19"/><stop offset="0.4558" stop-color="#ff8400"/><stop offset="0.5" stop-color="#ed7b00"/><stop offset="0.5664" stop-color="#db7100"/><stop offset="0.6327" stop-color="#ce6a00"/><stop offset="0.6947" stop-color="#c66600"/><stop offset="0.7434" stop-color="#c36400"/><stop offset="0.8142" stop-color="#c46500"/><stop offset="1" stop-color="#cf6b00"/></linearGradient>
</defs>
<g><rect x="61" y="326.60" width="226.30" height="2.60" fill="url(#b0)"/>
<rect x="61" y="328.60" width="226.30" height="2.60" fill="url(#b1)"/>
<rect x="61" y="330.60" width="226.30" height="2.60" fill="url(#b2)"/>
<rect x="61" y="332.60" width="226.30" height="2.60" fill="url(#b3)"/>
<rect x="61" y="334.60" width="226.30" height="2.60" fill="url(#b4)"/>
<rect x="61" y="336.60" width="226.30" height="2.60" fill="url(#b5)"/>
<rect x="61" y="338.60" width="226.30" height="2.60" fill="url(#b6)"/>
<rect x="61" y="340.60" width="226.30" height="2.60" fill="url(#b7)"/>
<rect x="61" y="342.60" width="226.30" height="2.60" fill="url(#b8)"/>
<rect x="61" y="344.60" width="226.30" height="2.60" fill="url(#b9)"/>
<rect x="61" y="346.60" width="226.30" height="2.60" fill="url(#b10)"/>
<rect x="61" y="348.60" width="226.30" height="2.60" fill="url(#b11)"/>
<rect x="61" y="350.60" width="226.30" height="2.60" fill="url(#b12)"/>
<rect x="61" y="352.60" width="226.30" height="2.60" fill="url(#b13)"/>
<rect x="61" y="354.60" width="226.30" height="2.60" fill="url(#b14)"/>
<rect x="61" y="356.60" width="226.30" height="2.60" fill="url(#b15)"/>
<rect x="61" y="358.60" width="226.30" height="2.60" fill="url(#b16)"/>
<rect x="61" y="360.60" width="226.30" height="2.60" fill="url(#b17)"/>
<rect x="61" y="362.60" width="226.30" height="2.60" fill="url(#b18)"/>
<rect x="61" y="364.60" width="226.30" height="2.60" fill="url(#b19)"/>
<rect x="61" y="366.60" width="226.30" height="2.60" fill="url(#b20)"/>
<rect x="61" y="368.60" width="226.30" height="2.60" fill="url(#b21)"/>
<rect x="61" y="370.60" width="226.30" height="2.60" fill="url(#b22)"/>
<rect x="61" y="372.60" width="226.30" height="2.60" fill="url(#b23)"/>
<rect x="61" y="374.60" width="226.30" height="2.60" fill="url(#b24)"/>
<rect x="61" y="376.60" width="226.30" height="2.60" fill="url(#b25)"/>
<rect x="61" y="378.60" width="226.30" height="2.60" fill="url(#b26)"/>
<rect x="61" y="380.60" width="226.30" height="2.60" fill="url(#b27)"/>
<rect x="61" y="382.60" width="226.30" height="2.60" fill="url(#b28)"/>
<rect x="61" y="384.60" width="226.30" height="2.60" fill="url(#b29)"/>
<rect x="61" y="386.60" width="226.30" height="2.60" fill="url(#b30)"/>
<rect x="61" y="388.60" width="226.30" height="2.60" fill="url(#b31)"/>
<rect x="61" y="390.60" width="226.30" height="2.60" fill="url(#b32)"/>
<rect x="61" y="392.60" width="226.30" height="2.60" fill="url(#b33)"/>
<rect x="61" y="394.60" width="226.30" height="2.60" fill="url(#b34)"/>
<rect x="61" y="396.60" width="226.30" height="2.60" fill="url(#b35)"/>
<rect x="61" y="398.60" width="226.30" height="2.60" fill="url(#b36)"/>
<rect x="61" y="400.60" width="226.30" height="2.60" fill="url(#b37)"/>
<rect x="61" y="402.60" width="226.30" height="2.60" fill="url(#b38)"/>
<rect x="61" y="404.60" width="226.30" height="2.60" fill="url(#b39)"/>
<rect x="61" y="406.60" width="226.30" height="2.60" fill="url(#b40)"/>
<rect x="61" y="408.60" width="226.30" height="2.60" fill="url(#b41)"/>
<rect x="61" y="410.60" width="226.30" height="2.60" fill="url(#b42)"/>
<rect x="61" y="412.60" width="226.30" height="2.60" fill="url(#b43)"/>
<rect x="61" y="414.60" width="226.30" height="2.60" fill="url(#b44)"/>
<rect x="61" y="416.60" width="226.30" height="2.60" fill="url(#b45)"/>
<rect x="61" y="418.60" width="226.30" height="2.60" fill="url(#b46)"/>
<rect x="61" y="420.60" width="226.30" height="2.60" fill="url(#b47)"/>
<rect x="61" y="422.60" width="226.30" height="2.60" fill="url(#b48)"/>
<rect x="61" y="424.60" width="226.30" height="2.60" fill="url(#b49)"/>
<rect x="61" y="426.60" width="226.30" height="2.60" fill="url(#b50)"/>
<rect x="61" y="428.60" width="226.30" height="2.60" fill="url(#b51)"/>
<rect x="61" y="430.60" width="226.30" height="2.60" fill="url(#b52)"/>
<rect x="61" y="432.60" width="226.30" height="2.60" fill="url(#b53)"/>
<rect x="61" y="434.60" width="226.30" height="2.60" fill="url(#b54)"/>
<rect x="61" y="436.60" width="226.30" height="2.60" fill="url(#b55)"/>
<rect x="61" y="438.60" width="226.30" height="2.60" fill="url(#b56)"/>
<rect x="61" y="440.60" width="226.30" height="2.60" fill="url(#b57)"/>
<rect x="61" y="442.60" width="226.30" height="2.60" fill="url(#b58)"/>
<rect x="61" y="444.60" width="226.30" height="2.60" fill="url(#b59)"/>
<rect x="61" y="446.60" width="226.30" height="2.60" fill="url(#b60)"/>
<rect x="61" y="448.60" width="226.30" height="2.60" fill="url(#b61)"/>
<rect x="61" y="450.60" width="226.30" height="2.60" fill="url(#b62)"/>
<rect x="61" y="452.60" width="226.30" height="2.60" fill="url(#b63)"/>
<rect x="61" y="454.60" width="226.30" height="2.60" fill="url(#b64)"/>
<rect x="61" y="456.60" width="226.30" height="2.60" fill="url(#b65)"/>
<rect x="61" y="458.60" width="226.30" height="2.60" fill="url(#b66)"/>
<rect x="61" y="460.60" width="226.30" height="2.60" fill="url(#b67)"/>
<rect x="61" y="462.60" width="226.30" height="2.60" fill="url(#b68)"/>
<rect x="61" y="464.60" width="226.30" height="2.60" fill="url(#b69)"/>
<rect x="61" y="466.60" width="226.30" height="2.60" fill="url(#b70)"/>
<rect x="61" y="468.60" width="226.30" height="2.60" fill="url(#b71)"/>
<rect x="61" y="470.60" width="226.30" height="2.60" fill="url(#b72)"/>
<rect x="61" y="472.60" width="226.30" height="2.60" fill="url(#b73)"/>
<rect x="61" y="474.60" width="226.30" height="2.60" fill="url(#b74)"/>
<rect x="61" y="476.60" width="226.30" height="2.60" fill="url(#b75)"/>
<rect x="61" y="478.60" width="226.30" height="2.60" fill="url(#b76)"/>
<rect x="61" y="480.60" width="226.30" height="2.60" fill="url(#b77)"/>
<rect x="61" y="482.60" width="226.30" height="2.60" fill="url(#b78)"/>
<rect x="61" y="484.60" width="226.30" height="2.60" fill="url(#b79)"/>
<rect x="61" y="486.60" width="226.30" height="2.60" fill="url(#b80)"/>
<rect x="61" y="488.60" width="226.30" height="2.60" fill="url(#b81)"/>
<rect x="61" y="490.60" width="226.30" height="2.60" fill="url(#b82)"/>
<rect x="61" y="492.60" width="226.30" height="2.60" fill="url(#b83)"/>
<rect x="61" y="494.60" width="226.30" height="2.60" fill="url(#b84)"/>
<rect x="61" y="496.60" width="226.30" height="2.60" fill="url(#b85)"/>
<rect x="61" y="498.60" width="226.30" height="2.60" fill="url(#b86)"/>
<rect x="61" y="500.60" width="226.30" height="2.60" fill="url(#b87)"/>
<rect x="61" y="502.60" width="226.30" height="2.60" fill="url(#b88)"/>
<rect x="61" y="504.60" width="226.30" height="2.60" fill="url(#b89)"/>
<rect x="61" y="506.60" width="226.30" height="2.60" fill="url(#b90)"/>
<rect x="61" y="508.60" width="226.30" height="2.60" fill="url(#b91)"/>
<rect x="61" y="510.60" width="226.30" height="2.60" fill="url(#b92)"/>
<rect x="61" y="512.60" width="226.30" height="2.60" fill="url(#b93)"/>
<rect x="61" y="514.60" width="226.30" height="2.60" fill="url(#b94)"/>
<rect x="61" y="516.60" width="226.30" height="2.60" fill="url(#b95)"/>
<rect x="61" y="518.60" width="226.30" height="2.60" fill="url(#b96)"/>
<rect x="61" y="520.60" width="226.30" height="2.60" fill="url(#b97)"/>
<rect x="61" y="522.60" width="226.30" height="2.60" fill="url(#b98)"/>
<rect x="61" y="524.60" width="226.30" height="2.60" fill="url(#b99)"/>
<rect x="61" y="526.60" width="226.30" height="2.60" fill="url(#b100)"/>
<rect x="61" y="528.60" width="226.30" height="2.60" fill="url(#b101)"/>
<rect x="61" y="530.60" width="226.30" height="2.60" fill="url(#b102)"/>
<rect x="61" y="532.60" width="226.30" height="2.60" fill="url(#b103)"/>
<rect x="61" y="534.60" width="226.30" height="2.60" fill="url(#b104)"/>
<rect x="61" y="536.60" width="226.30" height="2.60" fill="url(#b105)"/>
<rect x="61" y="538.60" width="226.30" height="2.60" fill="url(#b106)"/>
<rect x="61" y="540.60" width="226.30" height="2.60" fill="url(#b107)"/>
<rect x="61" y="542.60" width="226.30" height="0.60" fill="url(#b108)"/></g>
<rect x="61" y="326.6" width="226.3" height="216.60000000000002" fill="none" stroke="#3a3a3a" stroke-width="0.8"/>
<g stroke="#222" stroke-width="1">
<path d="M61.00 543.2 v4.5"/>
<path d="M61 543.20 h-4.5"/>
<path d="M117.58 543.2 v4.5"/>
<path d="M61 489.05 h-4.5"/>
<path d="M174.15 543.2 v4.5"/>
<path d="M61 434.90 h-4.5"/>
<path d="M230.73 543.2 v4.5"/>
<path d="M61 380.75 h-4.5"/>
<path d="M287.30 543.2 v4.5"/>
<path d="M61 326.60 h-4.5"/>
</g>
<text x="60.6" y="563.8" font-size="17.4" text-anchor="middle" fill="#000" >-5.0</text>
<text x="55.4" y="549.7" font-size="17.4" text-anchor="end" fill="#000" >-5.0</text>
<text x="117.17" y="563.8" font-size="17.4" text-anchor="middle" fill="#000" >-2.5</text>
<text x="55.4" y="495.55" font-size="17.4" text-anchor="end" fill="#000" >-2.5</text>
<text x="173.75" y="563.8" font-size="17.4" text-anchor="middle" fill="#000" >0.0</text>
<text x="55.4" y="441.4" font-size="17.4" text-anchor="end" fill="#000" >0.0</text>
<text x="230.33" y="563.8" font-size="17.4" text-anchor="middle" fill="#000" >2.5</text>
<text x="55.4" y="387.25" font-size="17.4" text-anchor="end" fill="#000" >2.5</text>
<text x="286.9" y="563.8" font-size="17.4" text-anchor="middle" fill="#000" >5.0</text>
<text x="55.4" y="333.1" font-size="17.4" text-anchor="end" fill="#000" >5.0</text>
<text x="174.15" y="584.4" font-size="17.4" text-anchor="middle"><tspan class="i">σ</tspan><tspan font-size="11.5" dy="3.2">E</tspan><tspan dy="-3.2"> (mC/m</tspan><tspan font-size="11.5" dy="-5.5">2</tspan><tspan dy="5.5">)</tspan></text>
<text transform="translate(17.299999999999997 436.1) rotate(-90)" font-size="17.4" text-anchor="middle"><tspan class="i">σ</tspan><tspan font-size="11.5" dy="3.2">C</tspan><tspan dy="-3.2"> (mC/m</tspan><tspan font-size="11.5" dy="-5.5">2</tspan><tspan dy="5.5">)</tspan></text>
<rect x="293.2" y="332.5" width="14.100000000000023" height="210.70000000000005" fill="url(#cb)" stroke="#444" stroke-width="0.7"/>
<g stroke="#222" stroke-width="1">
<path d="M307.3 335.00 h3.6"/>
<path d="M307.3 387.05 h3.6"/>
<path d="M307.3 439.10 h3.6"/>
<path d="M307.3 491.15 h3.6"/>
<path d="M307.3 543.20 h3.6"/>
</g>
<text x="312.5" y="341.1" font-size="17.4" text-anchor="start" fill="#000" >8.5</text>
<text x="312.5" y="393.15" font-size="17.4" text-anchor="start" fill="#000" >6.5</text>
<text x="312.5" y="445.2" font-size="17.4" text-anchor="start" fill="#000" >4.5</text>
<text x="312.5" y="497.25" font-size="17.4" text-anchor="start" fill="#000" >2.5</text>
<text x="312.5" y="549.3" font-size="17.4" text-anchor="start" fill="#000" >0.5</text>
<text x="274.5" y="320.6" font-size="17.4"><tspan class="i">I</tspan><tspan font-size="11.5" dy="3.5">ON</tspan><tspan dy="-3.5">/</tspan><tspan class="i">I</tspan><tspan font-size="11.5" dy="3.5">OFF</tspan></text>
<g class="sh">
<text x="187" y="399.8" font-size="15.9" fill="#f8f4ee"><tspan class="i">I</tspan><tspan font-size="10.8" dy="3.6" dx="-0.6">ON</tspan><tspan dy="-3.6">/</tspan><tspan class="i">I</tspan><tspan font-size="10.8" dy="3.6" dx="-0.6">OFF</tspan><tspan dy="-3.6"> = 1</tspan></text>
<text x="72.3" y="465" font-size="17.4" text-anchor="start" fill="#f8f4ee" >Without gate charge</text>
<path d="M200.6 410.4 L181.5 427" stroke="#fff" stroke-width="1.3" fill="none"/>
<path d="M176.8 431.2 L181.2 422.8 L186 428.2 Z" fill="#fff"/>
</g>
<circle cx="173.7" cy="434.7" r="3.1" fill="#000" stroke="#fff" stroke-width="1.3"/>
<text x="354" y="303" font-size="18.5" text-anchor="start" fill="#000" font-weight="bold">c</text>
<defs>
<linearGradient id="c0"><stop offset="0" stop-color="#e17400"/><stop offset="0.0708" stop-color="#de7300"/><stop offset="0.1549" stop-color="#e17400"/><stop offset="0.3407" stop-color="#f27d00"/><stop offset="0.4204" stop-color="#fe8400"/><stop offset="0.4425" stop-color="#ff8703"/><stop offset="0.4956" stop-color="#ff920e"/><stop offset="0.5487" stop-color="#ffa621"/><stop offset="0.6504" stop-color="#ffd54f"/><stop offset="0.7212" stop-color="#fffe77"/><stop offset="0.7257" stop-color="#fdfe77"/><stop offset="0.7522" stop-color="#e9f16e"/><stop offset="0.8274" stop-color="#a3c44f"/><stop offset="0.854" stop-color="#8db645"/><stop offset="0.9248" stop-color="#5c972f"/><stop offset="1" stop-color="#307a1b"/></linearGradient>
<linearGradient id="c1"><stop offset="0" stop-color="#e07400"/><stop offset="0.07522" stop-color="#dd7200"/><stop offset="0.1637" stop-color="#e07400"/><stop offset="0.323" stop-color="#ee7b00"/><stop offset="0.4469" stop-color="#ff8602"/><stop offset="0.5" stop-color="#ff900c"/><stop offset="0.5531" stop-color="#ffa31f"/><stop offset="0.6593" stop-color="#ffd44e"/><stop offset="0.7301" stop-color="#fffd76"/><stop offset="0.7345" stop-color="#fefe77"/><stop offset="0.7611" stop-color="#eaf16e"/><stop offset="0.8363" stop-color="#a4c44f"/><stop offset="0.8628" stop-color="#8eb645"/><stop offset="0.9292" stop-color="#5f9930"/><stop offset="1" stop-color="#357e1d"/></linearGradient>
<linearGradient id="c2"><stop offset="0" stop-color="#e07400"/><stop offset="0.07522" stop-color="#db7100"/><stop offset="0.1681" stop-color="#de7300"/><stop offset="0.3363" stop-color="#ed7b00"/><stop offset="0.4558" stop-color="#ff8501"/><stop offset="0.5088" stop-color="#ff900b"/><stop offset="0.5619" stop-color="#ffa31e"/><stop offset="0.6681" stop-color="#ffd44e"/><stop offset="0.7434" stop-color="#feff78"/><stop offset="0.7743" stop-color="#e6ef6d"/><stop offset="0.8451" stop-color="#a4c54f"/><stop offset="0.8717" stop-color="#8eb745"/><stop offset="0.9336" stop-color="#639b32"/><stop offset="1" stop-color="#3a8120"/></linearGradient>
<linearGradient id="c3"><stop offset="0" stop-color="#df7300"/><stop offset="0.07965" stop-color="#da7000"/><stop offset="0.1726" stop-color="#dd7200"/><stop offset="0.3496" stop-color="#ec7a00"/><stop offset="0.4646" stop-color="#ff8400"/><stop offset="0.5221" stop-color="#ff900c"/><stop offset="0.5752" stop-color="#ffa41f"/><stop offset="0.6814" stop-color="#ffd54f"/><stop offset="0.7522" stop-color="#ffff78"/><stop offset="0.7876" stop-color="#e3ed6b"/><stop offset="0.8761" stop-color="#92b947"/><stop offset="0.9381" stop-color="#669d33"/><stop offset="1" stop-color="#408422"/></linearGradient>
<linearGradient id="c4"><stop offset="0" stop-color="#df7300"/><stop offset="0.07965" stop-color="#d97000"/><stop offset="0.177" stop-color="#db7100"/><stop offset="0.3584" stop-color="#eb7a00"/><stop offset="0.4779" stop-color="#ff8400"/><stop offset="0.531" stop-color="#ff900b"/><stop offset="0.5841" stop-color="#ffa31e"/><stop offset="0.6903" stop-color="#ffd54f"/><stop offset="0.7611" stop-color="#ffff78"/><stop offset="0.792" stop-color="#e8f06d"/><stop offset="0.885" stop-color="#92b947"/><stop offset="0.9425" stop-color="#699f35"/><stop offset="1" stop-color="#458824"/></linearGradient>
<linearGradient id="c5"><stop offset="0" stop-color="#df7300"/><stop offset="0.08407" stop-color="#d76f00"/><stop offset="0.1814" stop-color="#da7000"/><stop offset="0.3673" stop-color="#ea7900"/><stop offset="0.4912" stop-color="#ff8501"/><stop offset="0.5442" stop-color="#ff900c"/><stop offset="0.5973" stop-color="#ffa520"/><stop offset="0.6991" stop-color="#ffd44e"/><stop offset="0.7699" stop-color="#fffe77"/><stop offset="0.8009" stop-color="#e8f06e"/><stop offset="0.8938" stop-color="#93ba47"/><stop offset="0.9469" stop-color="#6ca136"/><stop offset="1" stop-color="#4a8b27"/></linearGradient>
<linearGradient id="c6"><stop offset="0" stop-color="#df7300"/><stop offset="0.0885" stop-color="#d66e00"/><stop offset="0.1858" stop-color="#d87000"/><stop offset="0.3805" stop-color="#ea7900"/><stop offset="0.4425" stop-color="#f37e00"/><stop offset="0.5" stop-color="#ff8400"/><stop offset="0.5531" stop-color="#ff900c"/><stop offset="0.6062" stop-color="#ffa41f"/><stop offset="0.708" stop-color="#ffd44e"/><stop offset="0.7788" stop-color="#fffe77"/><stop offset="0.7832" stop-color="#fdfe77"/><stop offset="0.8097" stop-color="#e9f16e"/><stop offset="0.9027" stop-color="#93ba48"/><stop offset="0.9513" stop-color="#70a338"/><stop offset="1" stop-color="#508f29"/></linearGradient>
<linearGradient id="c7"><stop offset="0" stop-color="#df7300"/><stop offset="0.0885" stop-color="#d56e00"/><stop offset="0.1903" stop-color="#d76f00"/><stop offset="0.3894" stop-color="#e97800"/><stop offset="0.4513" stop-color="#f27d00"/><stop offset="0.5133" stop-color="#ff8400"/><stop offset="0.5619" stop-color="#ff8f0b"/><stop offset="0.6195" stop-color="#ffa521"/><stop offset="0.7168" stop-color="#ffd34e"/><stop offset="0.7876" stop-color="#fffd76"/><stop offset="0.792" stop-color="#fefe77"/><stop offset="0.8186" stop-color="#e9f16e"/><stop offset="0.9115" stop-color="#93ba48"/><stop offset="1" stop-color="#56932c"/></linearGradient>
<linearGradient id="c8"><stop offset="0" stop-color="#df7300"/><stop offset="0.09292" stop-color="#d46d00"/><stop offset="0.1947" stop-color="#d56e00"/><stop offset="0.3982" stop-color="#e87800"/><stop offset="0.4602" stop-color="#f27d00"/><stop offset="0.5265" stop-color="#ff8400"/><stop offset="0.5752" stop-color="#ff900c"/><stop offset="0.6283" stop-color="#ffa520"/><stop offset="0.7257" stop-color="#ffd34d"/><stop offset="0.7965" stop-color="#fffd76"/><stop offset="0.8009" stop-color="#feff78"/><stop offset="0.8274" stop-color="#eaf16e"/><stop offset="0.9204" stop-color="#94ba48"/><stop offset="1" stop-color="#5c962f"/></linearGradient>
<linearGradient id="c9"><stop offset="0" stop-color="#df7300"/><stop offset="0.09735" stop-color="#d36d00"/><stop offset="0.1991" stop-color="#d46d00"/><stop offset="0.4071" stop-color="#e77800"/><stop offset="0.4735" stop-color="#f27d00"/><stop offset="0.5354" stop-color="#ff8400"/><stop offset="0.5841" stop-color="#ff900b"/><stop offset="0.6372" stop-color="#ffa420"/><stop offset="0.7345" stop-color="#ffd34d"/><stop offset="0.8097" stop-color="#ffff78"/><stop offset="0.8451" stop-color="#e2ec6b"/><stop offset="0.9248" stop-color="#98bd4a"/><stop offset="1" stop-color="#619a31"/></linearGradient>
<linearGradient id="c10"><stop offset="0" stop-color="#df7300"/><stop offset="0.0531" stop-color="#d76f00"/><stop offset="0.1018" stop-color="#d26c00"/><stop offset="0.2035" stop-color="#d26c00"/><stop offset="0.4159" stop-color="#e77700"/><stop offset="0.4823" stop-color="#f17d00"/><stop offset="0.5487" stop-color="#ff8400"/><stop offset="0.5973" stop-color="#ff910c"/><stop offset="0.6549" stop-color="#ffa823"/><stop offset="0.7522" stop-color="#ffd751"/><stop offset="0.8186" stop-color="#ffff78"/><stop offset="0.854" stop-color="#e3ed6b"/><stop offset="0.9336" stop-color="#98bd4a"/><stop offset="1" stop-color="#689e34"/></linearGradient>
<linearGradient id="c11"><stop offset="0" stop-color="#e07300"/><stop offset="0.05752" stop-color="#d66e00"/><stop offset="0.1062" stop-color="#d16c00"/><stop offset="0.208" stop-color="#d16c00"/><stop offset="0.4248" stop-color="#e67700"/><stop offset="0.4956" stop-color="#f17d00"/><stop offset="0.5575" stop-color="#ff8400"/><stop offset="0.6062" stop-color="#ff900c"/><stop offset="0.6637" stop-color="#ffa723"/><stop offset="0.7611" stop-color="#ffd650"/><stop offset="0.8274" stop-color="#ffff78"/><stop offset="0.8584" stop-color="#e7f06d"/><stop offset="0.9425" stop-color="#98bd4a"/><stop offset="1" stop-color="#6ea237"/></linearGradient>
<linearGradient id="c12"><stop offset="0" stop-color="#e07400"/><stop offset="0.05752" stop-color="#d66e00"/><stop offset="0.1106" stop-color="#d06b00"/><stop offset="0.1593" stop-color="#ce6a00"/><stop offset="0.2168" stop-color="#d06b00"/><stop offset="0.4381" stop-color="#e67700"/><stop offset="0.5044" stop-color="#f07c00"/><stop offset="0.5708" stop-color="#ff8400"/><stop offset="0.615" stop-color="#ff900b"/><stop offset="0.6726" stop-color="#ffa722"/><stop offset="0.7699" stop-color="#ffd650"/><stop offset="0.8363" stop-color="#fffe77"/><stop offset="0.8673" stop-color="#e7f06d"/><stop offset="0.9513" stop-color="#99bd4a"/><stop offset="1" stop-color="#74a63a"/></linearGradient>
<linearGradient id="c13"><stop offset="0" stop-color="#e17400"/><stop offset="0.06195" stop-color="#d56e00"/><stop offset="0.115" stop-color="#cf6b00"/><stop offset="0.1637" stop-color="#cd6a00"/><stop offset="0.2212" stop-color="#cf6a00"/><stop offset="0.4425" stop-color="#e47600"/><stop offset="0.5133" stop-color="#f07c00"/><stop offset="0.5796" stop-color="#ff8400"/><stop offset="0.6239" stop-color="#ff8f0b"/><stop offset="0.6814" stop-color="#ffa722"/><stop offset="0.7788" stop-color="#ffd650"/><stop offset="0.8451" stop-color="#fffe77"/><stop offset="0.8496" stop-color="#fdfe77"/><stop offset="0.8761" stop-color="#e8f06e"/><stop offset="0.9602" stop-color="#99be4a"/><stop offset="1" stop-color="#7baa3d"/></linearGradient>
<linearGradient id="c14"><stop offset="0" stop-color="#e17400"/><stop offset="0.06195" stop-color="#d66e00"/><stop offset="0.1195" stop-color="#ce6a00"/><stop offset="0.1681" stop-color="#cc6900"/><stop offset="0.2257" stop-color="#cd6a00"/><stop offset="0.4513" stop-color="#e37500"/><stop offset="0.5221" stop-color="#ef7c00"/><stop offset="0.5929" stop-color="#ff8400"/><stop offset="0.6372" stop-color="#ff900c"/><stop offset="0.6947" stop-color="#ffa823"/><stop offset="0.7876" stop-color="#ffd54f"/><stop offset="0.854" stop-color="#fffe77"/><stop offset="0.8584" stop-color="#fdfe77"/><stop offset="0.8805" stop-color="#ecf36f"/><stop offset="0.9602" stop-color="#a1c34e"/><stop offset="1" stop-color="#81ae40"/></linearGradient>
<linearGradient id="c15"><stop offset="0" stop-color="#e27500"/><stop offset="0.06637" stop-color="#d56e00"/><stop offset="0.1195" stop-color="#ce6a00"/><stop offset="0.1726" stop-color="#cb6900"/><stop offset="0.2301" stop-color="#cc6900"/><stop offset="0.3097" stop-color="#d26c00"/><stop offset="0.4602" stop-color="#e37500"/><stop offset="0.5354" stop-color="#ef7c00"/><stop offset="0.6018" stop-color="#ff8400"/><stop offset="0.646" stop-color="#ff900c"/><stop offset="0.7035" stop-color="#ffa823"/><stop offset="0.7965" stop-color="#ffd54f"/><stop offset="0.8628" stop-color="#fffd76"/><stop offset="0.8673" stop-color="#fefe77"/><stop offset="0.8894" stop-color="#ecf370"/><stop offset="0.9646" stop-color="#a5c550"/><stop offset="1" stop-color="#88b343"/></linearGradient>
<linearGradient id="c16"><stop offset="0" stop-color="#e27500"/><stop offset="0.06637" stop-color="#d56e00"/><stop offset="0.1239" stop-color="#cd6a00"/><stop offset="0.177" stop-color="#ca6800"/><stop offset="0.2345" stop-color="#cb6900"/><stop offset="0.3186" stop-color="#d16c00"/><stop offset="0.469" stop-color="#e27500"/><stop offset="0.5442" stop-color="#ef7b00"/><stop offset="0.615" stop-color="#ff8400"/><stop offset="0.6637" stop-color="#ff930e"/><stop offset="0.7212" stop-color="#ffac27"/><stop offset="0.8053" stop-color="#ffd54f"/><stop offset="0.8717" stop-color="#fffd76"/><stop offset="0.8761" stop-color="#fefe77"/><stop offset="0.9027" stop-color="#e9f16e"/><stop offset="0.9735" stop-color="#a5c650"/><stop offset="1" stop-color="#8fb746"/></linearGradient>
<linearGradient id="c17"><stop offset="0" stop-color="#e37500"/><stop offset="0.0708" stop-color="#d56e00"/><stop offset="0.1327" stop-color="#cc6900"/><stop offset="0.1858" stop-color="#c96800"/><stop offset="0.2434" stop-color="#ca6800"/><stop offset="0.3274" stop-color="#d06b00"/><stop offset="0.4779" stop-color="#e17400"/><stop offset="0.5531" stop-color="#ee7b00"/><stop offset="0.6239" stop-color="#ff8400"/><stop offset="0.6681" stop-color="#ff910c"/><stop offset="0.7257" stop-color="#ffa924"/><stop offset="0.8142" stop-color="#ffd54f"/><stop offset="0.8805" stop-color="#fffd76"/><stop offset="0.885" stop-color="#fefe78"/><stop offset="0.9115" stop-color="#e9f16e"/><stop offset="1" stop-color="#96bc49"/></linearGradient>
<linearGradient id="c18"><stop offset="0" stop-color="#e47600"/><stop offset="0.07522" stop-color="#d56e00"/><stop offset="0.1372" stop-color="#cc6900"/><stop offset="0.1903" stop-color="#c86700"/><stop offset="0.2478" stop-color="#c96700"/><stop offset="0.3319" stop-color="#cf6b00"/><stop offset="0.4867" stop-color="#e17400"/><stop offset="0.5664" stop-color="#ee7b00"/><stop offset="0.6327" stop-color="#ff8400"/><stop offset="0.677" stop-color="#ff900c"/><stop offset="0.7345" stop-color="#ffa924"/><stop offset="0.823" stop-color="#ffd44e"/><stop offset="0.8894" stop-color="#fffd76"/><stop offset="0.8938" stop-color="#feff78"/><stop offset="0.9204" stop-color="#e9f16e"/><stop offset="1" stop-color="#9ec14c"/></linearGradient>
<linearGradient id="c19"><stop offset="0" stop-color="#e47600"/><stop offset="0.07522" stop-color="#d56e00"/><stop offset="0.1372" stop-color="#cc6900"/><stop offset="0.1947" stop-color="#c76700"/><stop offset="0.2522" stop-color="#c86700"/><stop offset="0.3363" stop-color="#ce6a00"/><stop offset="0.4956" stop-color="#e07400"/><stop offset="0.5708" stop-color="#ed7b00"/><stop offset="0.646" stop-color="#ff8400"/><stop offset="0.6903" stop-color="#ff920d"/><stop offset="0.7522" stop-color="#ffad28"/><stop offset="0.8363" stop-color="#ffd751"/><stop offset="0.8982" stop-color="#fffc76"/><stop offset="0.9027" stop-color="#feff78"/><stop offset="0.9292" stop-color="#e9f16e"/><stop offset="1" stop-color="#a6c650"/></linearGradient>
<linearGradient id="c20"><stop offset="0" stop-color="#e57600"/><stop offset="0.08407" stop-color="#d46d00"/><stop offset="0.146" stop-color="#cb6800"/><stop offset="0.2035" stop-color="#c66600"/><stop offset="0.2611" stop-color="#c76600"/><stop offset="0.3451" stop-color="#cd6a00"/><stop offset="0.5044" stop-color="#e07400"/><stop offset="0.5841" stop-color="#ed7b00"/><stop offset="0.6549" stop-color="#ff8400"/><stop offset="0.6991" stop-color="#ff910d"/><stop offset="0.7566" stop-color="#ffaa26"/><stop offset="0.8407" stop-color="#ffd44e"/><stop offset="0.9071" stop-color="#fffc75"/><stop offset="0.9115" stop-color="#ffff78"/><stop offset="0.9292" stop-color="#f1f672"/><stop offset="1" stop-color="#afcc54"/></linearGradient>
<linearGradient id="c21"><stop offset="0" stop-color="#e67700"/><stop offset="0.08407" stop-color="#d46e00"/><stop offset="0.1504" stop-color="#ca6800"/><stop offset="0.208" stop-color="#c66600"/><stop offset="0.2655" stop-color="#c66600"/><stop offset="0.354" stop-color="#cc6900"/><stop offset="0.5133" stop-color="#df7300"/><stop offset="0.5929" stop-color="#ed7b00"/><stop offset="0.6637" stop-color="#ff8400"/><stop offset="0.708" stop-color="#ff910d"/><stop offset="0.7699" stop-color="#ffac27"/><stop offset="0.854" stop-color="#ffd650"/><stop offset="0.9204" stop-color="#ffff78"/><stop offset="0.9513" stop-color="#e6ef6d"/><stop offset="1" stop-color="#b7d158"/></linearGradient>
<linearGradient id="c22"><stop offset="0" stop-color="#e77700"/><stop offset="0.0885" stop-color="#d46d00"/><stop offset="0.1549" stop-color="#ca6800"/><stop offset="0.2124" stop-color="#c56500"/><stop offset="0.2699" stop-color="#c56500"/><stop offset="0.3584" stop-color="#cb6900"/><stop offset="0.5221" stop-color="#df7300"/><stop offset="0.6018" stop-color="#ed7a00"/><stop offset="0.6726" stop-color="#ff8400"/><stop offset="0.7168" stop-color="#ff910d"/><stop offset="0.7788" stop-color="#ffac27"/><stop offset="0.8628" stop-color="#ffd650"/><stop offset="0.9292" stop-color="#ffff78"/><stop offset="0.9602" stop-color="#e6ef6d"/><stop offset="1" stop-color="#c0d75c"/></linearGradient>
<linearGradient id="c23"><stop offset="0" stop-color="#e77800"/><stop offset="0.09292" stop-color="#d46d00"/><stop offset="0.1593" stop-color="#c96800"/><stop offset="0.2168" stop-color="#c46500"/><stop offset="0.2788" stop-color="#c46500"/><stop offset="0.3673" stop-color="#ca6800"/><stop offset="0.531" stop-color="#de7300"/><stop offset="0.6106" stop-color="#ec7a00"/><stop offset="0.6858" stop-color="#ff8400"/><stop offset="0.7389" stop-color="#ff9611"/><stop offset="0.823" stop-color="#ffbd38"/><stop offset="0.885" stop-color="#ffdd57"/><stop offset="0.9381" stop-color="#ffff78"/><stop offset="0.9646" stop-color="#eaf26f"/><stop offset="1" stop-color="#c9dd60"/></linearGradient>
<linearGradient id="c24"><stop offset="0" stop-color="#e87800"/><stop offset="0.09735" stop-color="#d46d00"/><stop offset="0.1637" stop-color="#c96800"/><stop offset="0.2257" stop-color="#c36500"/><stop offset="0.2832" stop-color="#c36400"/><stop offset="0.3717" stop-color="#c96800"/><stop offset="0.5354" stop-color="#dd7200"/><stop offset="0.6195" stop-color="#ec7a00"/><stop offset="0.6947" stop-color="#ff8400"/><stop offset="0.7478" stop-color="#ff9611"/><stop offset="0.8319" stop-color="#ffbd37"/><stop offset="0.8938" stop-color="#ffdd57"/><stop offset="0.9469" stop-color="#ffff78"/><stop offset="0.969" stop-color="#eef471"/><stop offset="1" stop-color="#d2e264"/></linearGradient>
<linearGradient id="c25"><stop offset="0" stop-color="#e97800"/><stop offset="0.1018" stop-color="#d46d00"/><stop offset="0.1726" stop-color="#c86700"/><stop offset="0.2345" stop-color="#c26400"/><stop offset="0.292" stop-color="#c26400"/><stop offset="0.3805" stop-color="#c96700"/><stop offset="0.5487" stop-color="#dd7200"/><stop offset="0.6327" stop-color="#ed7a00"/><stop offset="0.7035" stop-color="#ff8400"/><stop offset="0.7566" stop-color="#ff9511"/><stop offset="0.8407" stop-color="#ffbd37"/><stop offset="0.9027" stop-color="#ffdd57"/><stop offset="0.9558" stop-color="#fffe77"/><stop offset="0.9735" stop-color="#f2f772"/><stop offset="1" stop-color="#dbe868"/></linearGradient>
<linearGradient id="c26"><stop offset="0" stop-color="#ea7900"/><stop offset="0.1106" stop-color="#d36d00"/><stop offset="0.177" stop-color="#c86700"/><stop offset="0.2389" stop-color="#c26400"/><stop offset="0.2965" stop-color="#c16300"/><stop offset="0.3894" stop-color="#c86700"/><stop offset="0.5531" stop-color="#dc7200"/><stop offset="0.6372" stop-color="#eb7a00"/><stop offset="0.7124" stop-color="#ff8400"/><stop offset="0.7655" stop-color="#ff9511"/><stop offset="0.8496" stop-color="#ffbd37"/><stop offset="0.9115" stop-color="#ffdd57"/><stop offset="0.9646" stop-color="#fffe77"/><stop offset="1" stop-color="#e3ed6c"/></linearGradient>
<linearGradient id="c27"><stop offset="0" stop-color="#ea7900"/><stop offset="0.115" stop-color="#d36d00"/><stop offset="0.1814" stop-color="#c86700"/><stop offset="0.2434" stop-color="#c16300"/><stop offset="0.3053" stop-color="#c16300"/><stop offset="0.3982" stop-color="#c76700"/><stop offset="0.5619" stop-color="#dc7200"/><stop offset="0.646" stop-color="#eb7a00"/><stop offset="0.7212" stop-color="#ff8400"/><stop offset="0.7743" stop-color="#ff9511"/><stop offset="0.8584" stop-color="#ffbc37"/><stop offset="0.9204" stop-color="#ffdd57"/><stop offset="0.9735" stop-color="#fffe77"/><stop offset="1" stop-color="#ebf26f"/></linearGradient>
<linearGradient id="c28"><stop offset="0" stop-color="#eb7900"/><stop offset="0.1858" stop-color="#c76700"/><stop offset="0.2478" stop-color="#c16300"/><stop offset="0.3097" stop-color="#c06300"/><stop offset="0.4027" stop-color="#c66600"/><stop offset="0.5708" stop-color="#dc7100"/><stop offset="0.6549" stop-color="#eb7900"/><stop offset="0.7301" stop-color="#ff8400"/><stop offset="0.7743" stop-color="#ff920d"/><stop offset="0.8363" stop-color="#ffad28"/><stop offset="0.9204" stop-color="#ffd852"/><stop offset="0.9823" stop-color="#fffe77"/><stop offset="1" stop-color="#f3f773"/></linearGradient>
<linearGradient id="c29"><stop offset="0" stop-color="#ec7a00"/><stop offset="0.1947" stop-color="#c76600"/><stop offset="0.2566" stop-color="#c06300"/><stop offset="0.3186" stop-color="#bf6200"/><stop offset="0.4115" stop-color="#c66600"/><stop offset="0.5796" stop-color="#db7100"/><stop offset="0.6637" stop-color="#eb7900"/><stop offset="0.7389" stop-color="#fe8400"/><stop offset="0.7743" stop-color="#ff8e0a"/><stop offset="0.8186" stop-color="#ffa11c"/><stop offset="0.9204" stop-color="#ffd34d"/><stop offset="0.9912" stop-color="#fffe77"/><stop offset="1" stop-color="#fafc76"/></linearGradient>
<linearGradient id="c30"><stop offset="0" stop-color="#ed7a00"/><stop offset="0.1903" stop-color="#c86700"/><stop offset="0.2522" stop-color="#c06300"/><stop offset="0.3097" stop-color="#be6200"/><stop offset="0.3982" stop-color="#c36400"/><stop offset="0.5398" stop-color="#d46d00"/><stop offset="0.6283" stop-color="#e27500"/><stop offset="0.6991" stop-color="#f17c00"/><stop offset="0.7522" stop-color="#ff8501"/><stop offset="0.8009" stop-color="#ff9510"/><stop offset="0.9204" stop-color="#ffce48"/><stop offset="0.9602" stop-color="#ffe45e"/><stop offset="1" stop-color="#fffe77"/></linearGradient>
<linearGradient id="c31"><stop offset="0" stop-color="#ee7b00"/><stop offset="0.1947" stop-color="#c86700"/><stop offset="0.2566" stop-color="#c06300"/><stop offset="0.3142" stop-color="#bd6100"/><stop offset="0.3805" stop-color="#c06300"/><stop offset="0.4646" stop-color="#c96800"/><stop offset="0.6018" stop-color="#db7100"/><stop offset="0.6947" stop-color="#ed7b00"/><stop offset="0.7611" stop-color="#ff8400"/><stop offset="0.7965" stop-color="#ff8f0b"/><stop offset="0.8407" stop-color="#ffa21e"/><stop offset="0.9204" stop-color="#ffc944"/><stop offset="1" stop-color="#fff871"/></linearGradient>
<linearGradient id="c32"><stop offset="0" stop-color="#ef7b00"/><stop offset="0.1991" stop-color="#c86700"/><stop offset="0.2611" stop-color="#c06300"/><stop offset="0.3186" stop-color="#bd6100"/><stop offset="0.3805" stop-color="#bf6200"/><stop offset="0.4558" stop-color="#c66600"/><stop offset="0.6018" stop-color="#da7000"/><stop offset="0.6903" stop-color="#ea7900"/><stop offset="0.7655" stop-color="#fe8400"/><stop offset="0.8009" stop-color="#ff8e0a"/><stop offset="0.8451" stop-color="#ffa01c"/><stop offset="0.9204" stop-color="#ffc53f"/><stop offset="1" stop-color="#fff26b"/></linearGradient>
<linearGradient id="c33"><stop offset="0" stop-color="#ef7c00"/><stop offset="0.2035" stop-color="#c86700"/><stop offset="0.2655" stop-color="#c06300"/><stop offset="0.323" stop-color="#bc6100"/><stop offset="0.385" stop-color="#be6200"/><stop offset="0.4558" stop-color="#c56500"/><stop offset="0.6018" stop-color="#d87000"/><stop offset="0.6858" stop-color="#e77700"/><stop offset="0.7743" stop-color="#fe8400"/><stop offset="0.8009" stop-color="#ff8b07"/><stop offset="0.8451" stop-color="#ff9c18"/><stop offset="0.9159" stop-color="#ffbe39"/><stop offset="1" stop-color="#ffec66"/></linearGradient>
<linearGradient id="c34"><stop offset="0" stop-color="#f17c00"/><stop offset="0.208" stop-color="#c86700"/><stop offset="0.2699" stop-color="#bf6200"/><stop offset="0.3274" stop-color="#bc6100"/><stop offset="0.385" stop-color="#bd6100"/><stop offset="0.4558" stop-color="#c36500"/><stop offset="0.6018" stop-color="#d76f00"/><stop offset="0.6814" stop-color="#e47600"/><stop offset="0.7832" stop-color="#fe8400"/><stop offset="0.8053" stop-color="#ff8905"/><stop offset="0.8761" stop-color="#ffa621"/><stop offset="0.9513" stop-color="#ffcb46"/><stop offset="1" stop-color="#ffe760"/></linearGradient>
<linearGradient id="c35"><stop offset="0" stop-color="#f27d00"/><stop offset="0.2124" stop-color="#c86700"/><stop offset="0.2743" stop-color="#bf6200"/><stop offset="0.3319" stop-color="#bb6000"/><stop offset="0.3894" stop-color="#bc6100"/><stop offset="0.4558" stop-color="#c26400"/><stop offset="0.6018" stop-color="#d56e00"/><stop offset="0.677" stop-color="#e27500"/><stop offset="0.7389" stop-color="#ef7c00"/><stop offset="0.792" stop-color="#fe8300"/><stop offset="0.8097" stop-color="#ff8804"/><stop offset="0.8761" stop-color="#ffa21d"/><stop offset="0.9513" stop-color="#ffc741"/><stop offset="1" stop-color="#ffe15b"/></linearGradient>
<linearGradient id="c36"><stop offset="0" stop-color="#f37e00"/><stop offset="0.2168" stop-color="#c86700"/><stop offset="0.2788" stop-color="#bf6200"/><stop offset="0.3363" stop-color="#bb6000"/><stop offset="0.3938" stop-color="#bc6100"/><stop offset="0.4558" stop-color="#c16300"/><stop offset="0.6726" stop-color="#df7300"/><stop offset="0.7389" stop-color="#ed7b00"/><stop offset="0.8009" stop-color="#fe8300"/><stop offset="0.8142" stop-color="#ff8703"/><stop offset="0.8805" stop-color="#ffa01b"/><stop offset="1" stop-color="#ffdc56"/></linearGradient>
<linearGradient id="c37"><stop offset="0" stop-color="#f47e00"/><stop offset="0.2168" stop-color="#c96700"/><stop offset="0.2832" stop-color="#bf6200"/><stop offset="0.3407" stop-color="#bb6000"/><stop offset="0.3982" stop-color="#bb6000"/><stop offset="0.4602" stop-color="#c06300"/><stop offset="0.6637" stop-color="#dc7200"/><stop offset="0.7345" stop-color="#ea7900"/><stop offset="0.8186" stop-color="#ff8501"/><stop offset="0.8496" stop-color="#ff8f0b"/><stop offset="0.885" stop-color="#ff9e19"/><stop offset="1" stop-color="#ffd751"/></linearGradient>
<linearGradient id="c38"><stop offset="0" stop-color="#f57f00"/><stop offset="0.07965" stop-color="#e37500"/><stop offset="0.2212" stop-color="#c96700"/><stop offset="0.2876" stop-color="#bf6200"/><stop offset="0.3451" stop-color="#ba6000"/><stop offset="0.3982" stop-color="#ba6000"/><stop offset="0.4602" stop-color="#bf6200"/><stop offset="0.6504" stop-color="#d87000"/><stop offset="0.7389" stop-color="#e97800"/><stop offset="0.823" stop-color="#ff8400"/><stop offset="0.885" stop-color="#ff9a15"/><stop offset="1" stop-color="#ffd24d"/></linearGradient>
<linearGradient id="c39"><stop offset="0" stop-color="#f78000"/><stop offset="0.07965" stop-color="#e47600"/><stop offset="0.2212" stop-color="#ca6800"/><stop offset="0.2876" stop-color="#c06300"/><stop offset="0.3451" stop-color="#ba6000"/><stop offset="0.3982" stop-color="#ba5f00"/><stop offset="0.4558" stop-color="#bd6100"/><stop offset="0.6327" stop-color="#d46d00"/><stop offset="0.7389" stop-color="#e77700"/><stop offset="0.8319" stop-color="#ff8400"/><stop offset="0.8938" stop-color="#ff9a15"/><stop offset="1" stop-color="#ffce48"/></linearGradient>
<linearGradient id="c40"><stop offset="0" stop-color="#f88000"/><stop offset="0.07522" stop-color="#e67700"/><stop offset="0.1991" stop-color="#cf6a00"/><stop offset="0.323" stop-color="#bc6100"/><stop offset="0.3717" stop-color="#b95f00"/><stop offset="0.4204" stop-color="#ba5f00"/><stop offset="0.5398" stop-color="#c66600"/><stop offset="0.7168" stop-color="#e17400"/><stop offset="0.7788" stop-color="#ee7b00"/><stop offset="0.8407" stop-color="#ff8400"/><stop offset="0.8982" stop-color="#ff9814"/><stop offset="1" stop-color="#ffc943"/></linearGradient>
<linearGradient id="c41"><stop offset="0" stop-color="#f98100"/><stop offset="0.09292" stop-color="#e47600"/><stop offset="0.2522" stop-color="#c66600"/><stop offset="0.3319" stop-color="#bc6100"/><stop offset="0.3982" stop-color="#b95f00"/><stop offset="0.5" stop-color="#bf6200"/><stop offset="0.6681" stop-color="#d76f00"/><stop offset="0.7611" stop-color="#e87800"/><stop offset="0.8496" stop-color="#ff8400"/><stop offset="0.9071" stop-color="#ff9814"/><stop offset="1" stop-color="#ffc53f"/></linearGradient>
<linearGradient id="c42"><stop offset="0" stop-color="#fb8200"/><stop offset="0.09292" stop-color="#e57600"/><stop offset="0.2566" stop-color="#c66600"/><stop offset="0.3363" stop-color="#bc6100"/><stop offset="0.4071" stop-color="#b85f00"/><stop offset="0.5088" stop-color="#bf6200"/><stop offset="0.677" stop-color="#d76f00"/><stop offset="0.7743" stop-color="#e97800"/><stop offset="0.854" stop-color="#fe8400"/><stop offset="0.8805" stop-color="#ff8b06"/><stop offset="0.9115" stop-color="#ff9612"/><stop offset="1" stop-color="#ffc03b"/></linearGradient>
<linearGradient id="c43"><stop offset="0" stop-color="#fd8300"/><stop offset="0.09735" stop-color="#e57600"/><stop offset="0.2611" stop-color="#c76600"/><stop offset="0.3451" stop-color="#bb6000"/><stop offset="0.4159" stop-color="#b85f00"/><stop offset="0.5177" stop-color="#bf6200"/><stop offset="0.6858" stop-color="#d76f00"/><stop offset="0.7832" stop-color="#e97800"/><stop offset="0.8628" stop-color="#fe8400"/><stop offset="0.9159" stop-color="#ff9410"/><stop offset="1" stop-color="#ffbc37"/></linearGradient>
<linearGradient id="c44"><stop offset="0" stop-color="#ff8400"/><stop offset="0.1018" stop-color="#e57600"/><stop offset="0.2611" stop-color="#c86700"/><stop offset="0.3496" stop-color="#bb6000"/><stop offset="0.4204" stop-color="#b85e00"/><stop offset="0.5221" stop-color="#be6200"/><stop offset="0.6903" stop-color="#d66e00"/><stop offset="0.7876" stop-color="#e87800"/><stop offset="0.8717" stop-color="#fe8400"/><stop offset="0.9248" stop-color="#ff9410"/><stop offset="1" stop-color="#ffb832"/></linearGradient>
<linearGradient id="c45"><stop offset="0" stop-color="#ff8501"/><stop offset="0.115" stop-color="#e47600"/><stop offset="0.2743" stop-color="#c76600"/><stop offset="0.3584" stop-color="#bb6000"/><stop offset="0.4292" stop-color="#b75e00"/><stop offset="0.531" stop-color="#be6200"/><stop offset="0.6991" stop-color="#d66f00"/><stop offset="0.7965" stop-color="#e87800"/><stop offset="0.8805" stop-color="#ff8400"/><stop offset="0.9292" stop-color="#ff930e"/><stop offset="1" stop-color="#ffb32e"/></linearGradient>
<linearGradient id="c46"><stop offset="0" stop-color="#ff8702"/><stop offset="0.01327" stop-color="#fe8400"/><stop offset="0.1283" stop-color="#e27500"/><stop offset="0.2832" stop-color="#c66600"/><stop offset="0.3673" stop-color="#bb6000"/><stop offset="0.4381" stop-color="#b75e00"/><stop offset="0.5398" stop-color="#be6200"/><stop offset="0.708" stop-color="#d66f00"/><stop offset="0.8053" stop-color="#e87800"/><stop offset="0.8894" stop-color="#ff8400"/><stop offset="0.9381" stop-color="#ff930e"/><stop offset="1" stop-color="#ffaf2a"/></linearGradient>
<linearGradient id="c47"><stop offset="0" stop-color="#ff8804"/><stop offset="0.0177" stop-color="#ff8400"/><stop offset="0.1018" stop-color="#e97800"/><stop offset="0.2965" stop-color="#c56500"/><stop offset="0.3761" stop-color="#bb6000"/><stop offset="0.4469" stop-color="#b75e00"/><stop offset="0.5442" stop-color="#bd6100"/><stop offset="0.7168" stop-color="#d66f00"/><stop offset="0.8142" stop-color="#e97800"/><stop offset="0.8982" stop-color="#ff8400"/><stop offset="0.9425" stop-color="#ff910d"/><stop offset="1" stop-color="#ffab26"/></linearGradient>
<linearGradient id="c48"><stop offset="0" stop-color="#ff8a06"/><stop offset="0.02655" stop-color="#fe8400"/><stop offset="0.1327" stop-color="#e47600"/><stop offset="0.3053" stop-color="#c56500"/><stop offset="0.385" stop-color="#ba6000"/><stop offset="0.4558" stop-color="#b75e00"/><stop offset="0.5531" stop-color="#bd6100"/><stop offset="0.7257" stop-color="#d66f00"/><stop offset="0.823" stop-color="#e97800"/><stop offset="0.9071" stop-color="#ff8400"/><stop offset="0.9513" stop-color="#ff910d"/><stop offset="1" stop-color="#ffa722"/></linearGradient>
<linearGradient id="c49"><stop offset="0" stop-color="#ff8b07"/><stop offset="0.03097" stop-color="#ff8400"/><stop offset="0.1416" stop-color="#e37500"/><stop offset="0.3142" stop-color="#c46500"/><stop offset="0.3938" stop-color="#ba6000"/><stop offset="0.4602" stop-color="#b75e00"/><stop offset="0.5619" stop-color="#bd6100"/><stop offset="0.7301" stop-color="#d66e00"/><stop offset="0.8319" stop-color="#e97800"/><stop offset="0.9159" stop-color="#ff8400"/><stop offset="0.9558" stop-color="#ff900c"/><stop offset="1" stop-color="#ffa21e"/></linearGradient>
<linearGradient id="c50"><stop offset="0" stop-color="#ff8d09"/><stop offset="0.03982" stop-color="#fe8400"/><stop offset="0.1018" stop-color="#ed7b00"/><stop offset="0.1681" stop-color="#df7300"/><stop offset="0.3584" stop-color="#bf6200"/><stop offset="0.4159" stop-color="#b95f00"/><stop offset="0.469" stop-color="#b75e00"/><stop offset="0.5708" stop-color="#bd6100"/><stop offset="0.7345" stop-color="#d56e00"/><stop offset="0.8363" stop-color="#e87800"/><stop offset="0.9204" stop-color="#fe8400"/><stop offset="0.9558" stop-color="#ff8d09"/><stop offset="1" stop-color="#ff9f1a"/></linearGradient>
<linearGradient id="c51"><stop offset="0" stop-color="#ff8f0b"/><stop offset="0.04425" stop-color="#ff8400"/><stop offset="0.1018" stop-color="#ef7b00"/><stop offset="0.1681" stop-color="#e07400"/><stop offset="0.3628" stop-color="#bf6200"/><stop offset="0.4248" stop-color="#b95f00"/><stop offset="0.4779" stop-color="#b65e00"/><stop offset="0.5796" stop-color="#bd6100"/><stop offset="0.7434" stop-color="#d56e00"/><stop offset="0.8451" stop-color="#e87800"/><stop offset="0.9292" stop-color="#fe8400"/><stop offset="0.9602" stop-color="#ff8c07"/><stop offset="1" stop-color="#ff9b16"/></linearGradient>
<linearGradient id="c52"><stop offset="0" stop-color="#ff920d"/><stop offset="0.0531" stop-color="#fe8400"/><stop offset="0.1549" stop-color="#e47600"/><stop offset="0.3097" stop-color="#c96700"/><stop offset="0.4071" stop-color="#bb6000"/><stop offset="0.4867" stop-color="#b65e00"/><stop offset="0.5885" stop-color="#bd6100"/><stop offset="0.7522" stop-color="#d56e00"/><stop offset="0.854" stop-color="#e87800"/><stop offset="0.9381" stop-color="#ff8400"/><stop offset="0.969" stop-color="#ff8c08"/><stop offset="1" stop-color="#ff9713"/></linearGradient>
<linearGradient id="c53"><stop offset="0" stop-color="#ff9410"/><stop offset="0.05752" stop-color="#ff8400"/><stop offset="0.1637" stop-color="#e47600"/><stop offset="0.3142" stop-color="#c96800"/><stop offset="0.4159" stop-color="#bb6000"/><stop offset="0.4956" stop-color="#b65e00"/><stop offset="0.5973" stop-color="#bd6100"/><stop offset="0.7611" stop-color="#d66e00"/><stop offset="0.8628" stop-color="#e97800"/><stop offset="0.9469" stop-color="#ff8400"/><stop offset="1" stop-color="#ff940f"/></linearGradient>
<linearGradient id="c54"><stop offset="0" stop-color="#ff9713"/><stop offset="0.03097" stop-color="#ff8d08"/><stop offset="0.06637" stop-color="#fe8400"/><stop offset="0.1681" stop-color="#e47600"/><stop offset="0.3186" stop-color="#ca6800"/><stop offset="0.4248" stop-color="#bb6000"/><stop offset="0.5044" stop-color="#b65e00"/><stop offset="0.5575" stop-color="#b85f00"/><stop offset="0.6195" stop-color="#bf6200"/><stop offset="0.8363" stop-color="#e17400"/><stop offset="0.8982" stop-color="#ef7c00"/><stop offset="0.9558" stop-color="#ff8400"/><stop offset="1" stop-color="#ff910c"/></linearGradient>
<linearGradient id="c55"><stop offset="0" stop-color="#ff9b16"/><stop offset="0.0354" stop-color="#ff8d09"/><stop offset="0.0708" stop-color="#ff8400"/><stop offset="0.177" stop-color="#e47600"/><stop offset="0.323" stop-color="#ca6800"/><stop offset="0.4292" stop-color="#bb6000"/><stop offset="0.5133" stop-color="#b65e00"/><stop offset="0.5664" stop-color="#b95f00"/><stop offset="0.6239" stop-color="#be6200"/><stop offset="0.8319" stop-color="#df7300"/><stop offset="0.8982" stop-color="#ed7b00"/><stop offset="0.9646" stop-color="#ff8400"/><stop offset="1" stop-color="#ff8e09"/></linearGradient>
<linearGradient id="c56"><stop offset="0" stop-color="#ff9e1a"/><stop offset="0.03982" stop-color="#ff8e0a"/><stop offset="0.07965" stop-color="#ff8400"/><stop offset="0.1637" stop-color="#e87800"/><stop offset="0.2699" stop-color="#d46d00"/><stop offset="0.4248" stop-color="#bc6100"/><stop offset="0.5221" stop-color="#b65e00"/><stop offset="0.5929" stop-color="#ba6000"/><stop offset="0.677" stop-color="#c56500"/><stop offset="0.854" stop-color="#e27500"/><stop offset="0.9159" stop-color="#f07c00"/><stop offset="0.969" stop-color="#fe8400"/><stop offset="1" stop-color="#ff8b07"/></linearGradient>
<linearGradient id="c57"><stop offset="0" stop-color="#ffa21d"/><stop offset="0.04425" stop-color="#ff900b"/><stop offset="0.0885" stop-color="#fe8400"/><stop offset="0.1726" stop-color="#e87800"/><stop offset="0.2788" stop-color="#d46d00"/><stop offset="0.4336" stop-color="#bc6100"/><stop offset="0.531" stop-color="#b65e00"/><stop offset="0.6062" stop-color="#bb6000"/><stop offset="0.6947" stop-color="#c66600"/><stop offset="0.8894" stop-color="#e87800"/><stop offset="0.9779" stop-color="#ff8400"/><stop offset="1" stop-color="#ff8905"/></linearGradient>
<linearGradient id="c58"><stop offset="0" stop-color="#ffa621"/><stop offset="0.04867" stop-color="#ff910c"/><stop offset="0.09292" stop-color="#ff8400"/><stop offset="0.1814" stop-color="#e77800"/><stop offset="0.2832" stop-color="#d46d00"/><stop offset="0.4381" stop-color="#bd6100"/><stop offset="0.5398" stop-color="#b75e00"/><stop offset="0.615" stop-color="#bb6000"/><stop offset="0.708" stop-color="#c76600"/><stop offset="0.8628" stop-color="#e17400"/><stop offset="0.9292" stop-color="#ef7c00"/><stop offset="0.9867" stop-color="#ff8400"/><stop offset="1" stop-color="#ff8703"/></linearGradient>
<linearGradient id="c59"><stop offset="0" stop-color="#ffaa25"/><stop offset="0.0531" stop-color="#ff920e"/><stop offset="0.1018" stop-color="#ff8400"/><stop offset="0.1858" stop-color="#e87800"/><stop offset="0.2876" stop-color="#d56e00"/><stop offset="0.4469" stop-color="#bd6100"/><stop offset="0.5487" stop-color="#b75e00"/><stop offset="0.6283" stop-color="#bb6000"/><stop offset="0.7257" stop-color="#c96700"/><stop offset="0.8805" stop-color="#e37500"/><stop offset="1" stop-color="#ff8501"/></linearGradient>
<linearGradient id="c60"><stop offset="0" stop-color="#ffae29"/><stop offset="0.06195" stop-color="#ff920d"/><stop offset="0.1106" stop-color="#fe8400"/><stop offset="0.1947" stop-color="#e87800"/><stop offset="0.292" stop-color="#d56e00"/><stop offset="0.4513" stop-color="#be6100"/><stop offset="0.5531" stop-color="#b75e00"/><stop offset="0.6327" stop-color="#bb6000"/><stop offset="0.7301" stop-color="#c86700"/><stop offset="0.8938" stop-color="#e47600"/><stop offset="1" stop-color="#fe8400"/></linearGradient>
<linearGradient id="c61"><stop offset="0" stop-color="#ffb22d"/><stop offset="0.06195" stop-color="#ff9511"/><stop offset="0.115" stop-color="#ff8400"/><stop offset="0.1991" stop-color="#e87800"/><stop offset="0.2965" stop-color="#d66e00"/><stop offset="0.4602" stop-color="#be6200"/><stop offset="0.5619" stop-color="#b75e00"/><stop offset="0.6372" stop-color="#bb6000"/><stop offset="0.7301" stop-color="#c76600"/><stop offset="0.8938" stop-color="#e27500"/><stop offset="1" stop-color="#fc8200"/></linearGradient>
<linearGradient id="c62"><stop offset="0" stop-color="#ffb631"/><stop offset="0.0708" stop-color="#ff9510"/><stop offset="0.1239" stop-color="#ff8400"/><stop offset="0.208" stop-color="#e87800"/><stop offset="0.3053" stop-color="#d66e00"/><stop offset="0.469" stop-color="#be6200"/><stop offset="0.5708" stop-color="#b75e00"/><stop offset="0.6416" stop-color="#ba6000"/><stop offset="0.7301" stop-color="#c66600"/><stop offset="0.8982" stop-color="#e27500"/><stop offset="1" stop-color="#fa8100"/></linearGradient>
<linearGradient id="c63"><stop offset="0" stop-color="#ffbb35"/><stop offset="0.07522" stop-color="#ff9612"/><stop offset="0.1327" stop-color="#ff8400"/><stop offset="0.2124" stop-color="#e97800"/><stop offset="0.3097" stop-color="#d66f00"/><stop offset="0.4779" stop-color="#be6200"/><stop offset="0.5752" stop-color="#b75e00"/><stop offset="0.646" stop-color="#ba6000"/><stop offset="0.7301" stop-color="#c46500"/><stop offset="0.8982" stop-color="#e17400"/><stop offset="1" stop-color="#f88000"/></linearGradient>
<linearGradient id="c64"><stop offset="0" stop-color="#ffbf39"/><stop offset="0.08407" stop-color="#ff9612"/><stop offset="0.115" stop-color="#ff8b06"/><stop offset="0.1416" stop-color="#fe8400"/><stop offset="0.2212" stop-color="#e97800"/><stop offset="0.3186" stop-color="#d66e00"/><stop offset="0.4867" stop-color="#be6200"/><stop offset="0.5841" stop-color="#b75e00"/><stop offset="0.6549" stop-color="#ba6000"/><stop offset="0.7345" stop-color="#c46500"/><stop offset="0.9027" stop-color="#e07400"/><stop offset="1" stop-color="#f67f00"/></linearGradient>
<linearGradient id="c65"><stop offset="0" stop-color="#ffc33d"/><stop offset="0.0885" stop-color="#ff9813"/><stop offset="0.146" stop-color="#ff8400"/><stop offset="0.2301" stop-color="#e97800"/><stop offset="0.323" stop-color="#d76f00"/><stop offset="0.4956" stop-color="#be6200"/><stop offset="0.5929" stop-color="#b75e00"/><stop offset="0.6593" stop-color="#ba6000"/><stop offset="0.7389" stop-color="#c46500"/><stop offset="0.9071" stop-color="#e07300"/><stop offset="1" stop-color="#f47e00"/></linearGradient>
<linearGradient id="c66"><stop offset="0" stop-color="#ffc742"/><stop offset="0.09735" stop-color="#ff9713"/><stop offset="0.1549" stop-color="#ff8400"/><stop offset="0.2124" stop-color="#ef7b00"/><stop offset="0.2743" stop-color="#e17400"/><stop offset="0.4558" stop-color="#c46500"/><stop offset="0.5708" stop-color="#b95f00"/><stop offset="0.6195" stop-color="#b85e00"/><stop offset="0.6681" stop-color="#ba6000"/><stop offset="0.7434" stop-color="#c36400"/><stop offset="0.8717" stop-color="#d87000"/><stop offset="1" stop-color="#f27d00"/></linearGradient>
<linearGradient id="c67"><stop offset="0" stop-color="#ffcc46"/><stop offset="0.1018" stop-color="#ff9915"/><stop offset="0.1327" stop-color="#ff8d09"/><stop offset="0.1637" stop-color="#ff8400"/><stop offset="0.2522" stop-color="#e77700"/><stop offset="0.3584" stop-color="#d46d00"/><stop offset="0.5354" stop-color="#bc6100"/><stop offset="0.5929" stop-color="#b85f00"/><stop offset="0.646" stop-color="#b85f00"/><stop offset="0.7035" stop-color="#bd6100"/><stop offset="0.7699" stop-color="#c66600"/><stop offset="0.9159" stop-color="#df7300"/><stop offset="1" stop-color="#f07c00"/></linearGradient>
<linearGradient id="c68"><stop offset="0" stop-color="#ffd04a"/><stop offset="0.1062" stop-color="#ff9b16"/><stop offset="0.1372" stop-color="#ff8e0a"/><stop offset="0.1681" stop-color="#ff8501"/><stop offset="0.2566" stop-color="#e87800"/><stop offset="0.3407" stop-color="#d87000"/><stop offset="0.5354" stop-color="#bd6100"/><stop offset="0.5929" stop-color="#b95f00"/><stop offset="0.646" stop-color="#b85f00"/><stop offset="0.7035" stop-color="#bc6100"/><stop offset="0.7699" stop-color="#c56500"/><stop offset="0.9204" stop-color="#de7300"/><stop offset="1" stop-color="#ef7b00"/></linearGradient>
<linearGradient id="c69"><stop offset="0" stop-color="#ffd54f"/><stop offset="0.115" stop-color="#ff9b16"/><stop offset="0.177" stop-color="#ff8501"/><stop offset="0.2566" stop-color="#ea7900"/><stop offset="0.3274" stop-color="#dc7200"/><stop offset="0.5354" stop-color="#be6200"/><stop offset="0.5973" stop-color="#b95f00"/><stop offset="0.6504" stop-color="#b85f00"/><stop offset="0.708" stop-color="#bc6100"/><stop offset="0.7743" stop-color="#c56500"/><stop offset="0.9248" stop-color="#de7300"/><stop offset="1" stop-color="#ed7b00"/></linearGradient>
<linearGradient id="c70"><stop offset="0" stop-color="#ffda54"/><stop offset="0.115" stop-color="#ff9f1a"/><stop offset="0.1504" stop-color="#ff900c"/><stop offset="0.1814" stop-color="#ff8602"/><stop offset="0.1903" stop-color="#ff8400"/><stop offset="0.2522" stop-color="#ed7b00"/><stop offset="0.3186" stop-color="#df7300"/><stop offset="0.5354" stop-color="#bf6200"/><stop offset="0.5973" stop-color="#ba6000"/><stop offset="0.6549" stop-color="#b95f00"/><stop offset="0.7124" stop-color="#bc6100"/><stop offset="0.7743" stop-color="#c46500"/><stop offset="1" stop-color="#ec7a00"/></linearGradient>
<linearGradient id="c71"><stop offset="0" stop-color="#ffdf58"/><stop offset="0.1195" stop-color="#ffa11c"/><stop offset="0.1858" stop-color="#ff8703"/><stop offset="0.1991" stop-color="#fe8400"/><stop offset="0.2522" stop-color="#ef7c00"/><stop offset="0.3142" stop-color="#e27500"/><stop offset="0.5398" stop-color="#c06300"/><stop offset="0.6018" stop-color="#ba6000"/><stop offset="0.6593" stop-color="#b95f00"/><stop offset="0.7168" stop-color="#bc6100"/><stop offset="0.7788" stop-color="#c36400"/><stop offset="1" stop-color="#ea7900"/></linearGradient>
<linearGradient id="c72"><stop offset="0" stop-color="#ffe45d"/><stop offset="0.04867" stop-color="#ffc843"/><stop offset="0.1195" stop-color="#ffa520"/><stop offset="0.1858" stop-color="#ff8a05"/><stop offset="0.208" stop-color="#fe8400"/><stop offset="0.3097" stop-color="#e47600"/><stop offset="0.3894" stop-color="#d66f00"/><stop offset="0.5398" stop-color="#c16400"/><stop offset="0.6062" stop-color="#bb6000"/><stop offset="0.6637" stop-color="#b95f00"/><stop offset="0.7212" stop-color="#bc6100"/><stop offset="0.7832" stop-color="#c36400"/><stop offset="1" stop-color="#e97800"/></linearGradient>
<linearGradient id="c73"><stop offset="0" stop-color="#ffe962"/><stop offset="0.04867" stop-color="#ffcd47"/><stop offset="0.115" stop-color="#ffab26"/><stop offset="0.1903" stop-color="#ff8b07"/><stop offset="0.2168" stop-color="#fe8400"/><stop offset="0.3053" stop-color="#e77700"/><stop offset="0.3894" stop-color="#d86f00"/><stop offset="0.5398" stop-color="#c36400"/><stop offset="0.6106" stop-color="#bb6000"/><stop offset="0.6681" stop-color="#b95f00"/><stop offset="0.7257" stop-color="#bc6100"/><stop offset="0.7876" stop-color="#c36400"/><stop offset="1" stop-color="#e77800"/></linearGradient>
<linearGradient id="c74"><stop offset="0" stop-color="#ffee68"/><stop offset="0.07965" stop-color="#ffc13c"/><stop offset="0.1504" stop-color="#ff9f1a"/><stop offset="0.1947" stop-color="#ff8c08"/><stop offset="0.2257" stop-color="#fe8400"/><stop offset="0.3009" stop-color="#ea7900"/><stop offset="0.3894" stop-color="#d97000"/><stop offset="0.5398" stop-color="#c46500"/><stop offset="0.6106" stop-color="#bc6100"/><stop offset="0.6726" stop-color="#ba5f00"/><stop offset="0.7301" stop-color="#bc6000"/><stop offset="0.792" stop-color="#c26400"/><stop offset="1" stop-color="#e67700"/></linearGradient>
<linearGradient id="c75"><stop offset="0" stop-color="#fff46d"/><stop offset="0.07965" stop-color="#ffc640"/><stop offset="0.1549" stop-color="#ffa11c"/><stop offset="0.1947" stop-color="#ff900b"/><stop offset="0.2301" stop-color="#ff8400"/><stop offset="0.2965" stop-color="#ed7b00"/><stop offset="0.385" stop-color="#dc7100"/><stop offset="0.5354" stop-color="#c66600"/><stop offset="0.615" stop-color="#bd6100"/><stop offset="0.677" stop-color="#ba6000"/><stop offset="0.7345" stop-color="#bc6100"/><stop offset="0.7965" stop-color="#c26400"/><stop offset="1" stop-color="#e57600"/></linearGradient>
<linearGradient id="c76"><stop offset="0" stop-color="#fffa73"/><stop offset="0.06195" stop-color="#ffd44e"/><stop offset="0.1416" stop-color="#ffab26"/><stop offset="0.1947" stop-color="#ff930f"/><stop offset="0.2389" stop-color="#ff8500"/><stop offset="0.3186" stop-color="#ea7900"/><stop offset="0.4027" stop-color="#da7100"/><stop offset="0.5752" stop-color="#c26400"/><stop offset="0.6681" stop-color="#bb6000"/><stop offset="0.7257" stop-color="#bb6000"/><stop offset="0.792" stop-color="#c16300"/><stop offset="1" stop-color="#e47600"/></linearGradient>
<linearGradient id="c77"><stop offset="0" stop-color="#fefe78"/><stop offset="0.0708" stop-color="#ffd44e"/><stop offset="0.1549" stop-color="#ffa924"/><stop offset="0.2124" stop-color="#ff900b"/><stop offset="0.2522" stop-color="#fe8400"/><stop offset="0.3274" stop-color="#ea7900"/><stop offset="0.4115" stop-color="#db7100"/><stop offset="0.5841" stop-color="#c36400"/><stop offset="0.677" stop-color="#bb6000"/><stop offset="0.7345" stop-color="#bb6000"/><stop offset="0.8009" stop-color="#c16300"/><stop offset="1" stop-color="#e37500"/></linearGradient>
<linearGradient id="c78"><stop offset="0" stop-color="#f8fa75"/><stop offset="0.00885" stop-color="#fefe78"/><stop offset="0.01327" stop-color="#fffd76"/><stop offset="0.07522" stop-color="#ffd650"/><stop offset="0.1593" stop-color="#ffab26"/><stop offset="0.2168" stop-color="#ff920d"/><stop offset="0.2611" stop-color="#fe8400"/><stop offset="0.3363" stop-color="#ea7900"/><stop offset="0.4204" stop-color="#db7100"/><stop offset="0.5929" stop-color="#c36400"/><stop offset="0.6814" stop-color="#bc6000"/><stop offset="0.7389" stop-color="#bc6000"/><stop offset="0.8053" stop-color="#c16300"/><stop offset="1" stop-color="#e17400"/></linearGradient>
<linearGradient id="c79"><stop offset="0" stop-color="#f1f672"/><stop offset="0.0177" stop-color="#feff78"/><stop offset="0.02212" stop-color="#fffd76"/><stop offset="0.08407" stop-color="#ffd650"/><stop offset="0.1681" stop-color="#ffac27"/><stop offset="0.2257" stop-color="#ff920d"/><stop offset="0.2699" stop-color="#ff8400"/><stop offset="0.3451" stop-color="#eb7900"/><stop offset="0.4292" stop-color="#db7100"/><stop offset="0.6018" stop-color="#c36500"/><stop offset="0.6903" stop-color="#bc6100"/><stop offset="0.7478" stop-color="#bc6100"/><stop offset="0.8097" stop-color="#c16300"/><stop offset="1" stop-color="#e07400"/></linearGradient>
<linearGradient id="c80"><stop offset="0" stop-color="#e9f16e"/><stop offset="0.02655" stop-color="#feff78"/><stop offset="0.09735" stop-color="#ffd44e"/><stop offset="0.177" stop-color="#ffac27"/><stop offset="0.2345" stop-color="#ff920d"/><stop offset="0.2788" stop-color="#ff8400"/><stop offset="0.3496" stop-color="#ec7a00"/><stop offset="0.4336" stop-color="#dc7100"/><stop offset="0.6062" stop-color="#c46500"/><stop offset="0.6947" stop-color="#bc6100"/><stop offset="0.7522" stop-color="#bc6100"/><stop offset="0.8142" stop-color="#c16300"/><stop offset="1" stop-color="#df7300"/></linearGradient>
<linearGradient id="c81"><stop offset="0" stop-color="#e1ec6b"/><stop offset="0.0354" stop-color="#feff78"/><stop offset="0.1062" stop-color="#ffd44e"/><stop offset="0.1858" stop-color="#ffac27"/><stop offset="0.2434" stop-color="#ff920e"/><stop offset="0.2876" stop-color="#ff8400"/><stop offset="0.3584" stop-color="#ec7a00"/><stop offset="0.4425" stop-color="#dc7200"/><stop offset="0.615" stop-color="#c56500"/><stop offset="0.7035" stop-color="#bd6100"/><stop offset="0.7611" stop-color="#bd6100"/><stop offset="0.823" stop-color="#c16300"/><stop offset="1" stop-color="#de7300"/></linearGradient>
<linearGradient id="c82"><stop offset="0" stop-color="#d9e667"/><stop offset="0.04425" stop-color="#fefe78"/><stop offset="0.115" stop-color="#ffd44e"/><stop offset="0.1947" stop-color="#ffac27"/><stop offset="0.2522" stop-color="#ff920e"/><stop offset="0.2965" stop-color="#ff8400"/><stop offset="0.3673" stop-color="#ec7a00"/><stop offset="0.4513" stop-color="#dc7200"/><stop offset="0.6195" stop-color="#c56600"/><stop offset="0.708" stop-color="#be6100"/><stop offset="0.7655" stop-color="#bd6100"/><stop offset="0.8274" stop-color="#c16300"/><stop offset="0.8938" stop-color="#ca6800"/><stop offset="1" stop-color="#dd7200"/></linearGradient>
<linearGradient id="c83"><stop offset="0" stop-color="#d0e163"/><stop offset="0.03097" stop-color="#edf370"/><stop offset="0.0531" stop-color="#fefe78"/><stop offset="0.1239" stop-color="#ffd44e"/><stop offset="0.2035" stop-color="#ffac27"/><stop offset="0.2611" stop-color="#ff920e"/><stop offset="0.3053" stop-color="#ff8400"/><stop offset="0.3805" stop-color="#eb7a00"/><stop offset="0.4602" stop-color="#dd7200"/><stop offset="0.6283" stop-color="#c66600"/><stop offset="0.7168" stop-color="#be6200"/><stop offset="0.7743" stop-color="#bd6100"/><stop offset="0.8363" stop-color="#c26400"/><stop offset="1" stop-color="#dc7200"/></linearGradient>
<linearGradient id="c84"><stop offset="0" stop-color="#c7db5f"/><stop offset="0.0354" stop-color="#e9f16e"/><stop offset="0.06195" stop-color="#fefe78"/><stop offset="0.1327" stop-color="#ffd44e"/><stop offset="0.2124" stop-color="#ffac27"/><stop offset="0.2699" stop-color="#ff920e"/><stop offset="0.3142" stop-color="#ff8400"/><stop offset="0.385" stop-color="#ed7a00"/><stop offset="0.4646" stop-color="#de7200"/><stop offset="0.6327" stop-color="#c76600"/><stop offset="0.7212" stop-color="#bf6200"/><stop offset="0.7788" stop-color="#be6200"/><stop offset="0.8407" stop-color="#c26400"/><stop offset="0.9071" stop-color="#cb6800"/><stop offset="1" stop-color="#db7100"/></linearGradient>
<linearGradient id="c85"><stop offset="0" stop-color="#bed55b"/><stop offset="0.04867" stop-color="#edf370"/><stop offset="0.0708" stop-color="#fefe78"/><stop offset="0.07522" stop-color="#fffd76"/><stop offset="0.1283" stop-color="#ffdc55"/><stop offset="0.1858" stop-color="#ffbd38"/><stop offset="0.2699" stop-color="#ff9612"/><stop offset="0.323" stop-color="#ff8400"/><stop offset="0.3982" stop-color="#ec7a00"/><stop offset="0.4779" stop-color="#dd7200"/><stop offset="0.646" stop-color="#c76600"/><stop offset="0.7301" stop-color="#bf6200"/><stop offset="0.7876" stop-color="#be6200"/><stop offset="0.8451" stop-color="#c26400"/><stop offset="0.9115" stop-color="#cb6800"/><stop offset="1" stop-color="#da7100"/></linearGradient>
<linearGradient id="c86"><stop offset="0" stop-color="#b5d057"/><stop offset="0.0531" stop-color="#e8f16e"/><stop offset="0.07965" stop-color="#fefe77"/><stop offset="0.08407" stop-color="#fffd76"/><stop offset="0.1372" stop-color="#ffdc56"/><stop offset="0.1947" stop-color="#ffbe38"/><stop offset="0.2788" stop-color="#ff9612"/><stop offset="0.3319" stop-color="#ff8501"/><stop offset="0.4071" stop-color="#ec7a00"/><stop offset="0.4823" stop-color="#de7300"/><stop offset="0.6504" stop-color="#c86700"/><stop offset="0.7345" stop-color="#c06300"/><stop offset="0.792" stop-color="#bf6200"/><stop offset="0.8496" stop-color="#c26400"/><stop offset="0.9159" stop-color="#ca6800"/><stop offset="1" stop-color="#d97000"/></linearGradient>
<linearGradient id="c87"><stop offset="0" stop-color="#adca53"/><stop offset="0.06195" stop-color="#e8f06e"/><stop offset="0.0885" stop-color="#fefe77"/><stop offset="0.09292" stop-color="#fffd76"/><stop offset="0.1549" stop-color="#ffd751"/><stop offset="0.2389" stop-color="#ffad28"/><stop offset="0.3009" stop-color="#ff910d"/><stop offset="0.3451" stop-color="#ff8400"/><stop offset="0.4115" stop-color="#ed7b00"/><stop offset="0.4912" stop-color="#de7300"/><stop offset="0.6593" stop-color="#c86700"/><stop offset="0.7434" stop-color="#c06300"/><stop offset="0.8009" stop-color="#bf6200"/><stop offset="0.854" stop-color="#c26400"/><stop offset="0.9159" stop-color="#ca6800"/><stop offset="1" stop-color="#d87000"/></linearGradient>
<linearGradient id="c88"><stop offset="0" stop-color="#a4c54f"/><stop offset="0.0708" stop-color="#e8f06e"/><stop offset="0.09735" stop-color="#fefe77"/><stop offset="0.1018" stop-color="#fffd76"/><stop offset="0.1637" stop-color="#ffd751"/><stop offset="0.2478" stop-color="#ffad28"/><stop offset="0.3097" stop-color="#ff910d"/><stop offset="0.354" stop-color="#ff8400"/><stop offset="0.4204" stop-color="#ee7b00"/><stop offset="0.5" stop-color="#df7300"/><stop offset="0.6637" stop-color="#c96800"/><stop offset="0.7478" stop-color="#c16300"/><stop offset="0.8053" stop-color="#bf6300"/><stop offset="0.8584" stop-color="#c26400"/><stop offset="0.9204" stop-color="#ca6800"/><stop offset="1" stop-color="#d76f00"/></linearGradient>
<linearGradient id="c89"><stop offset="0" stop-color="#9cc04c"/><stop offset="0.07965" stop-color="#e8f06e"/><stop offset="0.1062" stop-color="#fdfe77"/><stop offset="0.1106" stop-color="#fffe77"/><stop offset="0.1637" stop-color="#ffdc56"/><stop offset="0.2257" stop-color="#ffbc37"/><stop offset="0.3097" stop-color="#ff9511"/><stop offset="0.3628" stop-color="#ff8400"/><stop offset="0.4336" stop-color="#ed7a00"/><stop offset="0.5088" stop-color="#df7300"/><stop offset="0.6726" stop-color="#c96800"/><stop offset="0.7522" stop-color="#c26400"/><stop offset="0.8097" stop-color="#c06300"/><stop offset="0.8628" stop-color="#c26400"/><stop offset="0.9248" stop-color="#c96800"/><stop offset="1" stop-color="#d66e00"/></linearGradient>
<linearGradient id="c90"><stop offset="0" stop-color="#94bb48"/><stop offset="0.0885" stop-color="#e8f06e"/><stop offset="0.115" stop-color="#fdfe77"/><stop offset="0.1195" stop-color="#fffe77"/><stop offset="0.1726" stop-color="#ffdd56"/><stop offset="0.2345" stop-color="#ffbc37"/><stop offset="0.3186" stop-color="#ff9511"/><stop offset="0.3717" stop-color="#ff8400"/><stop offset="0.4425" stop-color="#ed7b00"/><stop offset="0.5177" stop-color="#df7300"/><stop offset="0.677" stop-color="#ca6800"/><stop offset="0.7566" stop-color="#c36400"/><stop offset="0.8142" stop-color="#c16300"/><stop offset="0.8673" stop-color="#c36400"/><stop offset="0.9292" stop-color="#c96800"/><stop offset="1" stop-color="#d56e00"/></linearGradient>
<linearGradient id="c91"><stop offset="0" stop-color="#8db645"/><stop offset="0.03097" stop-color="#a8c751"/><stop offset="0.09735" stop-color="#e7f06d"/><stop offset="0.1239" stop-color="#fdfe77"/><stop offset="0.1283" stop-color="#fffe77"/><stop offset="0.1814" stop-color="#ffdd57"/><stop offset="0.2434" stop-color="#ffbd37"/><stop offset="0.3274" stop-color="#ff9611"/><stop offset="0.3805" stop-color="#ff8501"/><stop offset="0.4558" stop-color="#ed7a00"/><stop offset="0.5265" stop-color="#e07400"/><stop offset="0.6858" stop-color="#cb6900"/><stop offset="0.7655" stop-color="#c36400"/><stop offset="0.823" stop-color="#c16300"/><stop offset="0.8717" stop-color="#c36400"/><stop offset="0.9292" stop-color="#c96700"/><stop offset="1" stop-color="#d46d00"/></linearGradient>
<linearGradient id="c92"><stop offset="0" stop-color="#86b242"/><stop offset="0.0354" stop-color="#a3c44f"/><stop offset="0.1106" stop-color="#ebf26f"/><stop offset="0.1372" stop-color="#fffe77"/><stop offset="0.2035" stop-color="#ffd650"/><stop offset="0.2876" stop-color="#ffac27"/><stop offset="0.3496" stop-color="#ff910c"/><stop offset="0.3938" stop-color="#ff8400"/><stop offset="0.4602" stop-color="#ee7b00"/><stop offset="0.531" stop-color="#e17400"/><stop offset="0.6903" stop-color="#cc6900"/><stop offset="0.7699" stop-color="#c46500"/><stop offset="0.8274" stop-color="#c26400"/><stop offset="0.8761" stop-color="#c36400"/><stop offset="0.9336" stop-color="#c96700"/><stop offset="1" stop-color="#d36d00"/></linearGradient>
<linearGradient id="c93"><stop offset="0" stop-color="#80ad3f"/><stop offset="0.0354" stop-color="#9bbf4b"/><stop offset="0.115" stop-color="#e7ef6d"/><stop offset="0.146" stop-color="#ffff78"/><stop offset="0.2124" stop-color="#ffd650"/><stop offset="0.2965" stop-color="#ffac27"/><stop offset="0.3584" stop-color="#ff910d"/><stop offset="0.4027" stop-color="#ff8400"/><stop offset="0.469" stop-color="#ee7b00"/><stop offset="0.5398" stop-color="#e17400"/><stop offset="0.7743" stop-color="#c56500"/><stop offset="0.8319" stop-color="#c26400"/><stop offset="0.8805" stop-color="#c36500"/><stop offset="0.9336" stop-color="#c86700"/><stop offset="1" stop-color="#d26c00"/></linearGradient>
<linearGradient id="c94"><stop offset="0" stop-color="#79a93c"/><stop offset="0.04425" stop-color="#9bbf4b"/><stop offset="0.1195" stop-color="#e2ed6b"/><stop offset="0.1549" stop-color="#ffff78"/><stop offset="0.2212" stop-color="#ffd650"/><stop offset="0.3053" stop-color="#ffac27"/><stop offset="0.3673" stop-color="#ff910d"/><stop offset="0.4115" stop-color="#ff8400"/><stop offset="0.4779" stop-color="#ef7b00"/><stop offset="0.5487" stop-color="#e27500"/><stop offset="0.7788" stop-color="#c66600"/><stop offset="0.8363" stop-color="#c36400"/><stop offset="0.885" stop-color="#c46500"/><stop offset="0.9381" stop-color="#c86700"/><stop offset="1" stop-color="#d26c00"/></linearGradient>
<linearGradient id="c95"><stop offset="0" stop-color="#73a539"/><stop offset="0.0531" stop-color="#9bbf4b"/><stop offset="0.1283" stop-color="#e2ec6b"/><stop offset="0.1637" stop-color="#ffff78"/><stop offset="0.2301" stop-color="#ffd650"/><stop offset="0.3142" stop-color="#ffad28"/><stop offset="0.3761" stop-color="#ff920d"/><stop offset="0.4204" stop-color="#ff8501"/><stop offset="0.4912" stop-color="#ee7b00"/><stop offset="0.5575" stop-color="#e27500"/><stop offset="0.7832" stop-color="#c76600"/><stop offset="0.8407" stop-color="#c46500"/><stop offset="0.8894" stop-color="#c46500"/><stop offset="0.9425" stop-color="#c96700"/><stop offset="1" stop-color="#d16c00"/></linearGradient>
<linearGradient id="c96"><stop offset="0" stop-color="#6ca136"/><stop offset="0.06195" stop-color="#9bbf4b"/><stop offset="0.1372" stop-color="#e2ec6b"/><stop offset="0.1726" stop-color="#ffff78"/><stop offset="0.2434" stop-color="#ffd44e"/><stop offset="0.3319" stop-color="#ffa924"/><stop offset="0.3894" stop-color="#ff900c"/><stop offset="0.4336" stop-color="#ff8400"/><stop offset="0.4956" stop-color="#ef7c00"/><stop offset="0.5664" stop-color="#e37500"/><stop offset="0.7876" stop-color="#c86700"/><stop offset="0.8451" stop-color="#c46500"/><stop offset="0.8938" stop-color="#c56500"/><stop offset="1" stop-color="#d06b00"/></linearGradient>
<linearGradient id="c97"><stop offset="0" stop-color="#669d33"/><stop offset="0.06637" stop-color="#96bc49"/><stop offset="0.1549" stop-color="#e9f16e"/><stop offset="0.1814" stop-color="#feff78"/><stop offset="0.1858" stop-color="#fffd76"/><stop offset="0.2522" stop-color="#ffd54f"/><stop offset="0.3407" stop-color="#ffa924"/><stop offset="0.3982" stop-color="#ff910c"/><stop offset="0.4425" stop-color="#ff8400"/><stop offset="0.5088" stop-color="#ef7c00"/><stop offset="0.5752" stop-color="#e37500"/><stop offset="0.7965" stop-color="#c86700"/><stop offset="0.8982" stop-color="#c56500"/><stop offset="1" stop-color="#cf6b00"/></linearGradient>
<linearGradient id="c98"><stop offset="0" stop-color="#609931"/><stop offset="0.07522" stop-color="#96bc49"/><stop offset="0.1637" stop-color="#e9f16e"/><stop offset="0.1903" stop-color="#fefe78"/><stop offset="0.1947" stop-color="#fffd76"/><stop offset="0.2611" stop-color="#ffd54f"/><stop offset="0.3496" stop-color="#ffaa25"/><stop offset="0.4071" stop-color="#ff910d"/><stop offset="0.4513" stop-color="#ff8501"/><stop offset="0.5177" stop-color="#ef7c00"/><stop offset="0.5841" stop-color="#e37500"/><stop offset="0.8009" stop-color="#c96800"/><stop offset="0.9027" stop-color="#c66600"/><stop offset="1" stop-color="#cf6b00"/></linearGradient>
<linearGradient id="c99"><stop offset="0" stop-color="#5a952e"/><stop offset="0.08407" stop-color="#96bc49"/><stop offset="0.1726" stop-color="#e8f16e"/><stop offset="0.1991" stop-color="#fefe77"/><stop offset="0.2035" stop-color="#fffd76"/><stop offset="0.2699" stop-color="#ffd54f"/><stop offset="0.3628" stop-color="#ffa823"/><stop offset="0.4204" stop-color="#ff900c"/><stop offset="0.4646" stop-color="#ff8400"/><stop offset="0.5221" stop-color="#f17c00"/><stop offset="0.5885" stop-color="#e57600"/><stop offset="0.8009" stop-color="#cb6800"/><stop offset="0.9027" stop-color="#c66600"/><stop offset="1" stop-color="#ce6a00"/></linearGradient>
<linearGradient id="c100"><stop offset="0" stop-color="#54922b"/><stop offset="0.0885" stop-color="#92b947"/><stop offset="0.1814" stop-color="#e8f06e"/><stop offset="0.208" stop-color="#fdfe77"/><stop offset="0.2124" stop-color="#fffe77"/><stop offset="0.2788" stop-color="#ffd650"/><stop offset="0.3717" stop-color="#ffa823"/><stop offset="0.4292" stop-color="#ff900c"/><stop offset="0.4735" stop-color="#ff8400"/><stop offset="0.5354" stop-color="#f07c00"/><stop offset="0.6018" stop-color="#e47600"/><stop offset="0.8053" stop-color="#cc6900"/><stop offset="0.9071" stop-color="#c76600"/><stop offset="1" stop-color="#ce6a00"/></linearGradient>
<linearGradient id="c101"><stop offset="0" stop-color="#4f8e29"/><stop offset="0.04867" stop-color="#6ea237"/><stop offset="0.09735" stop-color="#92b947"/><stop offset="0.1239" stop-color="#a9c851"/><stop offset="0.1903" stop-color="#e8f06e"/><stop offset="0.2168" stop-color="#fdfe77"/><stop offset="0.2212" stop-color="#fffe77"/><stop offset="0.2876" stop-color="#ffd650"/><stop offset="0.3805" stop-color="#ffa924"/><stop offset="0.4381" stop-color="#ff910c"/><stop offset="0.4823" stop-color="#ff8501"/><stop offset="0.5487" stop-color="#f07c00"/><stop offset="0.6106" stop-color="#e57600"/><stop offset="0.8097" stop-color="#cd6a00"/><stop offset="0.9115" stop-color="#c86700"/><stop offset="1" stop-color="#cd6a00"/></linearGradient>
<linearGradient id="c102"><stop offset="0" stop-color="#498a26"/><stop offset="0.0531" stop-color="#6ba036"/><stop offset="0.1062" stop-color="#91b947"/><stop offset="0.1327" stop-color="#a8c751"/><stop offset="0.1991" stop-color="#e7f06d"/><stop offset="0.2301" stop-color="#fffe77"/><stop offset="0.2965" stop-color="#ffd650"/><stop offset="0.3938" stop-color="#ffa722"/><stop offset="0.4469" stop-color="#ff910d"/><stop offset="0.4956" stop-color="#ff8400"/><stop offset="0.5531" stop-color="#f17d00"/><stop offset="0.615" stop-color="#e67700"/><stop offset="0.8142" stop-color="#ce6a00"/><stop offset="0.9159" stop-color="#c86700"/><stop offset="1" stop-color="#cd6a00"/></linearGradient>
<linearGradient id="c103"><stop offset="0" stop-color="#438724"/><stop offset="0.05752" stop-color="#689e34"/><stop offset="0.115" stop-color="#91b847"/><stop offset="0.1416" stop-color="#a8c751"/><stop offset="0.208" stop-color="#e7ef6d"/><stop offset="0.2389" stop-color="#ffff78"/><stop offset="0.3053" stop-color="#ffd751"/><stop offset="0.4027" stop-color="#ffa722"/><stop offset="0.4558" stop-color="#ff910d"/><stop offset="0.5044" stop-color="#ff8400"/><stop offset="0.5664" stop-color="#f17d00"/><stop offset="0.6283" stop-color="#e67700"/><stop offset="0.8186" stop-color="#cf6b00"/><stop offset="0.9159" stop-color="#c96800"/><stop offset="1" stop-color="#cd6a00"/></linearGradient>
<linearGradient id="c104"><stop offset="0" stop-color="#3e8321"/><stop offset="0.06195" stop-color="#659c33"/><stop offset="0.1239" stop-color="#91b846"/><stop offset="0.1504" stop-color="#a7c751"/><stop offset="0.2168" stop-color="#e6ef6d"/><stop offset="0.2478" stop-color="#ffff78"/><stop offset="0.3186" stop-color="#ffd54f"/><stop offset="0.4159" stop-color="#ffa621"/><stop offset="0.469" stop-color="#ff900c"/><stop offset="0.5177" stop-color="#ff8400"/><stop offset="0.5708" stop-color="#f27d00"/><stop offset="0.6327" stop-color="#e77800"/><stop offset="0.8186" stop-color="#d16c00"/><stop offset="0.9159" stop-color="#ca6800"/><stop offset="1" stop-color="#cd6a00"/></linearGradient>
<linearGradient id="c105"><stop offset="0" stop-color="#39801f"/><stop offset="0.06637" stop-color="#619a31"/><stop offset="0.1327" stop-color="#90b846"/><stop offset="0.1593" stop-color="#a7c750"/><stop offset="0.2257" stop-color="#e6ef6d"/><stop offset="0.2566" stop-color="#feff78"/><stop offset="0.3274" stop-color="#ffd54f"/><stop offset="0.4248" stop-color="#ffa621"/><stop offset="0.4779" stop-color="#ff910c"/><stop offset="0.5265" stop-color="#ff8400"/><stop offset="0.6416" stop-color="#e87800"/><stop offset="0.8186" stop-color="#d36d00"/><stop offset="0.9204" stop-color="#cb6900"/><stop offset="1" stop-color="#cd6a00"/></linearGradient>
<linearGradient id="c106"><stop offset="0" stop-color="#347d1d"/><stop offset="0.0708" stop-color="#5e9830"/><stop offset="0.1372" stop-color="#8db645"/><stop offset="0.1681" stop-color="#a7c650"/><stop offset="0.2389" stop-color="#e9f16e"/><stop offset="0.2655" stop-color="#fefe78"/><stop offset="0.2699" stop-color="#fffd76"/><stop offset="0.3363" stop-color="#ffd54f"/><stop offset="0.4336" stop-color="#ffa722"/><stop offset="0.4867" stop-color="#ff910d"/><stop offset="0.5354" stop-color="#ff8501"/><stop offset="0.6504" stop-color="#e87800"/><stop offset="0.823" stop-color="#d46d00"/><stop offset="0.9204" stop-color="#cc6900"/><stop offset="1" stop-color="#cd6a00"/></linearGradient>
<linearGradient id="c107"><stop offset="0" stop-color="#2f7a1a"/><stop offset="0.07522" stop-color="#5b962e"/><stop offset="0.146" stop-color="#8cb544"/><stop offset="0.177" stop-color="#a6c650"/><stop offset="0.2478" stop-color="#e9f16e"/><stop offset="0.2743" stop-color="#fefe77"/><stop offset="0.2788" stop-color="#fffd76"/><stop offset="0.3496" stop-color="#ffd44e"/><stop offset="0.4469" stop-color="#ffa520"/><stop offset="0.5" stop-color="#ff900c"/><stop offset="0.5487" stop-color="#ff8400"/><stop offset="0.6593" stop-color="#e97800"/><stop offset="0.8186" stop-color="#d66e00"/><stop offset="0.9204" stop-color="#cd6a00"/><stop offset="1" stop-color="#cd6a00"/></linearGradient>
<linearGradient id="c108"><stop offset="0" stop-color="#2a7618"/><stop offset="0.07522" stop-color="#55922c"/><stop offset="0.1504" stop-color="#88b343"/><stop offset="0.1814" stop-color="#a2c34e"/><stop offset="0.2566" stop-color="#e8f06e"/><stop offset="0.2832" stop-color="#fdfe77"/><stop offset="0.2876" stop-color="#fffe77"/><stop offset="0.3584" stop-color="#ffd44e"/><stop offset="0.4558" stop-color="#ffa521"/><stop offset="0.5088" stop-color="#ff900c"/><stop offset="0.5575" stop-color="#ff8501"/><stop offset="0.6504" stop-color="#ec7a00"/><stop offset="0.7478" stop-color="#e07300"/><stop offset="0.9027" stop-color="#d06b00"/><stop offset="1" stop-color="#ce6a00"/></linearGradient>
</defs>
<g><rect x="405" y="326.70" width="226.20" height="2.60" fill="url(#c0)"/>
<rect x="405" y="328.70" width="226.20" height="2.60" fill="url(#c1)"/>
<rect x="405" y="330.70" width="226.20" height="2.60" fill="url(#c2)"/>
<rect x="405" y="332.70" width="226.20" height="2.60" fill="url(#c3)"/>
<rect x="405" y="334.70" width="226.20" height="2.60" fill="url(#c4)"/>
<rect x="405" y="336.70" width="226.20" height="2.60" fill="url(#c5)"/>
<rect x="405" y="338.70" width="226.20" height="2.60" fill="url(#c6)"/>
<rect x="405" y="340.70" width="226.20" height="2.60" fill="url(#c7)"/>
<rect x="405" y="342.70" width="226.20" height="2.60" fill="url(#c8)"/>
<rect x="405" y="344.70" width="226.20" height="2.60" fill="url(#c9)"/>
<rect x="405" y="346.70" width="226.20" height="2.60" fill="url(#c10)"/>
<rect x="405" y="348.70" width="226.20" height="2.60" fill="url(#c11)"/>
<rect x="405" y="350.70" width="226.20" height="2.60" fill="url(#c12)"/>
<rect x="405" y="352.70" width="226.20" height="2.60" fill="url(#c13)"/>
<rect x="405" y="354.70" width="226.20" height="2.60" fill="url(#c14)"/>
<rect x="405" y="356.70" width="226.20" height="2.60" fill="url(#c15)"/>
<rect x="405" y="358.70" width="226.20" height="2.60" fill="url(#c16)"/>
<rect x="405" y="360.70" width="226.20" height="2.60" fill="url(#c17)"/>
<rect x="405" y="362.70" width="226.20" height="2.60" fill="url(#c18)"/>
<rect x="405" y="364.70" width="226.20" height="2.60" fill="url(#c19)"/>
<rect x="405" y="366.70" width="226.20" height="2.60" fill="url(#c20)"/>
<rect x="405" y="368.70" width="226.20" height="2.60" fill="url(#c21)"/>
<rect x="405" y="370.70" width="226.20" height="2.60" fill="url(#c22)"/>
<rect x="405" y="372.70" width="226.20" height="2.60" fill="url(#c23)"/>
<rect x="405" y="374.70" width="226.20" height="2.60" fill="url(#c24)"/>
<rect x="405" y="376.70" width="226.20" height="2.60" fill="url(#c25)"/>
<rect x="405" y="378.70" width="226.20" height="2.60" fill="url(#c26)"/>
<rect x="405" y="380.70" width="226.20" height="2.60" fill="url(#c27)"/>
<rect x="405" y="382.70" width="226.20" height="2.60" fill="url(#c28)"/>
<rect x="405" y="384.70" width="226.20" height="2.60" fill="url(#c29)"/>
<rect x="405" y="386.70" width="226.20" height="2.60" fill="url(#c30)"/>
<rect x="405" y="388.70" width="226.20" height="2.60" fill="url(#c31)"/>
<rect x="405" y="390.70" width="226.20" height="2.60" fill="url(#c32)"/>
<rect x="405" y="392.70" width="226.20" height="2.60" fill="url(#c33)"/>
<rect x="405" y="394.70" width="226.20" height="2.60" fill="url(#c34)"/>
<rect x="405" y="396.70" width="226.20" height="2.60" fill="url(#c35)"/>
<rect x="405" y="398.70" width="226.20" height="2.60" fill="url(#c36)"/>
<rect x="405" y="400.70" width="226.20" height="2.60" fill="url(#c37)"/>
<rect x="405" y="402.70" width="226.20" height="2.60" fill="url(#c38)"/>
<rect x="405" y="404.70" width="226.20" height="2.60" fill="url(#c39)"/>
<rect x="405" y="406.70" width="226.20" height="2.60" fill="url(#c40)"/>
<rect x="405" y="408.70" width="226.20" height="2.60" fill="url(#c41)"/>
<rect x="405" y="410.70" width="226.20" height="2.60" fill="url(#c42)"/>
<rect x="405" y="412.70" width="226.20" height="2.60" fill="url(#c43)"/>
<rect x="405" y="414.70" width="226.20" height="2.60" fill="url(#c44)"/>
<rect x="405" y="416.70" width="226.20" height="2.60" fill="url(#c45)"/>
<rect x="405" y="418.70" width="226.20" height="2.60" fill="url(#c46)"/>
<rect x="405" y="420.70" width="226.20" height="2.60" fill="url(#c47)"/>
<rect x="405" y="422.70" width="226.20" height="2.60" fill="url(#c48)"/>
<rect x="405" y="424.70" width="226.20" height="2.60" fill="url(#c49)"/>
<rect x="405" y="426.70" width="226.20" height="2.60" fill="url(#c50)"/>
<rect x="405" y="428.70" width="226.20" height="2.60" fill="url(#c51)"/>
<rect x="405" y="430.70" width="226.20" height="2.60" fill="url(#c52)"/>
<rect x="405" y="432.70" width="226.20" height="2.60" fill="url(#c53)"/>
<rect x="405" y="434.70" width="226.20" height="2.60" fill="url(#c54)"/>
<rect x="405" y="436.70" width="226.20" height="2.60" fill="url(#c55)"/>
<rect x="405" y="438.70" width="226.20" height="2.60" fill="url(#c56)"/>
<rect x="405" y="440.70" width="226.20" height="2.60" fill="url(#c57)"/>
<rect x="405" y="442.70" width="226.20" height="2.60" fill="url(#c58)"/>
<rect x="405" y="444.70" width="226.20" height="2.60" fill="url(#c59)"/>
<rect x="405" y="446.70" width="226.20" height="2.60" fill="url(#c60)"/>
<rect x="405" y="448.70" width="226.20" height="2.60" fill="url(#c61)"/>
<rect x="405" y="450.70" width="226.20" height="2.60" fill="url(#c62)"/>
<rect x="405" y="452.70" width="226.20" height="2.60" fill="url(#c63)"/>
<rect x="405" y="454.70" width="226.20" height="2.60" fill="url(#c64)"/>
<rect x="405" y="456.70" width="226.20" height="2.60" fill="url(#c65)"/>
<rect x="405" y="458.70" width="226.20" height="2.60" fill="url(#c66)"/>
<rect x="405" y="460.70" width="226.20" height="2.60" fill="url(#c67)"/>
<rect x="405" y="462.70" width="226.20" height="2.60" fill="url(#c68)"/>
<rect x="405" y="464.70" width="226.20" height="2.60" fill="url(#c69)"/>
<rect x="405" y="466.70" width="226.20" height="2.60" fill="url(#c70)"/>
<rect x="405" y="468.70" width="226.20" height="2.60" fill="url(#c71)"/>
<rect x="405" y="470.70" width="226.20" height="2.60" fill="url(#c72)"/>
<rect x="405" y="472.70" width="226.20" height="2.60" fill="url(#c73)"/>
<rect x="405" y="474.70" width="226.20" height="2.60" fill="url(#c74)"/>
<rect x="405" y="476.70" width="226.20" height="2.60" fill="url(#c75)"/>
<rect x="405" y="478.70" width="226.20" height="2.60" fill="url(#c76)"/>
<rect x="405" y="480.70" width="226.20" height="2.60" fill="url(#c77)"/>
<rect x="405" y="482.70" width="226.20" height="2.60" fill="url(#c78)"/>
<rect x="405" y="484.70" width="226.20" height="2.60" fill="url(#c79)"/>
<rect x="405" y="486.70" width="226.20" height="2.60" fill="url(#c80)"/>
<rect x="405" y="488.70" width="226.20" height="2.60" fill="url(#c81)"/>
<rect x="405" y="490.70" width="226.20" height="2.60" fill="url(#c82)"/>
<rect x="405" y="492.70" width="226.20" height="2.60" fill="url(#c83)"/>
<rect x="405" y="494.70" width="226.20" height="2.60" fill="url(#c84)"/>
<rect x="405" y="496.70" width="226.20" height="2.60" fill="url(#c85)"/>
<rect x="405" y="498.70" width="226.20" height="2.60" fill="url(#c86)"/>
<rect x="405" y="500.70" width="226.20" height="2.60" fill="url(#c87)"/>
<rect x="405" y="502.70" width="226.20" height="2.60" fill="url(#c88)"/>
<rect x="405" y="504.70" width="226.20" height="2.60" fill="url(#c89)"/>
<rect x="405" y="506.70" width="226.20" height="2.60" fill="url(#c90)"/>
<rect x="405" y="508.70" width="226.20" height="2.60" fill="url(#c91)"/>
<rect x="405" y="510.70" width="226.20" height="2.60" fill="url(#c92)"/>
<rect x="405" y="512.70" width="226.20" height="2.60" fill="url(#c93)"/>
<rect x="405" y="514.70" width="226.20" height="2.60" fill="url(#c94)"/>
<rect x="405" y="516.70" width="226.20" height="2.60" fill="url(#c95)"/>
<rect x="405" y="518.70" width="226.20" height="2.60" fill="url(#c96)"/>
<rect x="405" y="520.70" width="226.20" height="2.60" fill="url(#c97)"/>
<rect x="405" y="522.70" width="226.20" height="2.60" fill="url(#c98)"/>
<rect x="405" y="524.70" width="226.20" height="2.60" fill="url(#c99)"/>
<rect x="405" y="526.70" width="226.20" height="2.60" fill="url(#c100)"/>
<rect x="405" y="528.70" width="226.20" height="2.60" fill="url(#c101)"/>
<rect x="405" y="530.70" width="226.20" height="2.60" fill="url(#c102)"/>
<rect x="405" y="532.70" width="226.20" height="2.60" fill="url(#c103)"/>
<rect x="405" y="534.70" width="226.20" height="2.60" fill="url(#c104)"/>
<rect x="405" y="536.70" width="226.20" height="2.60" fill="url(#c105)"/>
<rect x="405" y="538.70" width="226.20" height="2.60" fill="url(#c106)"/>
<rect x="405" y="540.70" width="226.20" height="2.60" fill="url(#c107)"/>
<rect x="405" y="542.70" width="226.20" height="0.50" fill="url(#c108)"/></g>
<rect x="405" y="326.7" width="226.20000000000005" height="216.50000000000006" fill="none" stroke="#3a3a3a" stroke-width="0.8"/>
<g stroke="#222" stroke-width="1">
<path d="M405.00 543.2 v4.5"/>
<path d="M405 543.20 h-4.5"/>
<path d="M461.55 543.2 v4.5"/>
<path d="M405 489.08 h-4.5"/>
<path d="M518.10 543.2 v4.5"/>
<path d="M405 434.95 h-4.5"/>
<path d="M574.65 543.2 v4.5"/>
<path d="M405 380.82 h-4.5"/>
<path d="M631.20 543.2 v4.5"/>
<path d="M405 326.70 h-4.5"/>
</g>
<text x="404.6" y="563.8" font-size="17.4" text-anchor="middle" fill="#000" >-5.0</text>
<text x="399.4" y="549.7" font-size="17.4" text-anchor="end" fill="#000" >-5.0</text>
<text x="461.15" y="563.8" font-size="17.4" text-anchor="middle" fill="#000" >-2.5</text>
<text x="399.4" y="495.58" font-size="17.4" text-anchor="end" fill="#000" >-2.5</text>
<text x="517.7" y="563.8" font-size="17.4" text-anchor="middle" fill="#000" >0.0</text>
<text x="399.4" y="441.45" font-size="17.4" text-anchor="end" fill="#000" >0.0</text>
<text x="574.25" y="563.8" font-size="17.4" text-anchor="middle" fill="#000" >2.5</text>
<text x="399.4" y="387.32" font-size="17.4" text-anchor="end" fill="#000" >2.5</text>
<text x="630.8" y="563.8" font-size="17.4" text-anchor="middle" fill="#000" >5.0</text>
<text x="399.4" y="333.2" font-size="17.4" text-anchor="end" fill="#000" >5.0</text>
<text x="518.1" y="584.4" font-size="17.4" text-anchor="middle"><tspan class="i">σ</tspan><tspan font-size="11.5" dy="3.2">E</tspan><tspan dy="-3.2"> (mC/m</tspan><tspan font-size="11.5" dy="-5.5">2</tspan><tspan dy="5.5">)</tspan></text>
<text transform="translate(361.3 436.15000000000003) rotate(-90)" font-size="17.4" text-anchor="middle"><tspan class="i">σ</tspan><tspan font-size="11.5" dy="3.2">C</tspan><tspan dy="-3.2"> (mC/m</tspan><tspan font-size="11.5" dy="-5.5">2</tspan><tspan dy="5.5">)</tspan></text>
<rect x="638" y="332.6" width="14.600000000000023" height="210.60000000000002" fill="url(#cb)" stroke="#444" stroke-width="0.7"/>
<g stroke="#222" stroke-width="1">
<path d="M652.6 333.10 h3.6"/>
<path d="M652.6 375.20 h3.6"/>
<path d="M652.6 417.30 h3.6"/>
<path d="M652.6 459.40 h3.6"/>
<path d="M652.6 501.50 h3.6"/>
<path d="M652.6 543.60 h3.6"/>
</g>
<text x="658.6" y="339.2" font-size="17.4" text-anchor="start" fill="#000" >0.45</text>
<text x="658.6" y="381.3" font-size="17.4" text-anchor="start" fill="#000" >0.36</text>
<text x="658.6" y="423.4" font-size="17.4" text-anchor="start" fill="#000" >0.27</text>
<text x="658.6" y="465.5" font-size="17.4" text-anchor="start" fill="#000" >0.18</text>
<text x="658.6" y="507.6" font-size="17.4" text-anchor="start" fill="#000" >0.09</text>
<text x="658.6" y="549.7" font-size="17.4" text-anchor="start" fill="#000" >0.00</text>
<text x="408.5" y="320" font-size="17.4"><tspan class="i">G</tspan> = <tspan class="i">I</tspan><tspan font-size="11.5" dy="3.5">ON</tspan><tspan dy="-3.5">/</tspan><tspan class="i">V</tspan></text>
<text x="621" y="320" font-size="17.4"><tspan class="i">G</tspan> (nS)</text>
<path d="M405.3 326.8 L631 543" stroke="#fff" stroke-width="1.35" stroke-dasharray="4.4 2.4" fill="none" opacity="0.95"/>
<g class="sh">
<text x="408.6" y="467.8" font-size="17.4" text-anchor="start" fill="#f8f4ee" >The lowest point</text>
</g>
<circle cx="517.7" cy="434.7" r="3.1" fill="#000" stroke="#fff" stroke-width="1.3"/>
</svg></body></html>
